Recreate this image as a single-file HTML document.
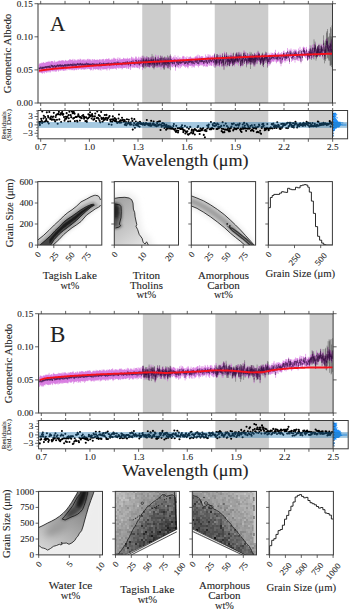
<!DOCTYPE html><html><head><meta charset="utf-8"><style>html,body{margin:0;padding:0;background:#fff;width:350px;height:610px;overflow:hidden}svg{display:block;font-family:"Liberation Serif",serif}text{stroke:#333;stroke-width:0.1px;fill:#222}</style></head><body><svg xmlns="http://www.w3.org/2000/svg" width="350" height="610" viewBox="0 0 350 610" font-family="Liberation Serif" fill="#111"><defs><clipPath id="c0"><rect x="37.8" y="181.6" width="64" height="63.5"/></clipPath><filter id="b1_5" x="-50%" y="-50%" width="200%" height="200%"><feGaussianBlur stdDeviation="1.5"/></filter><filter id="b1_3" x="-50%" y="-50%" width="200%" height="200%"><feGaussianBlur stdDeviation="1.3"/></filter><filter id="b0_5" x="-50%" y="-50%" width="200%" height="200%"><feGaussianBlur stdDeviation="0.5"/></filter><filter id="b0_7" x="-50%" y="-50%" width="200%" height="200%"><feGaussianBlur stdDeviation="0.7"/></filter><clipPath id="c1"><rect x="114.3" y="181.6" width="64.2" height="63.5"/></clipPath><linearGradient id="gA2" gradientUnits="userSpaceOnUse" x1="114" y1="205" x2="142" y2="245"><stop offset="0" stop-color="#a6a6a6"/><stop offset="0.6" stop-color="#cacaca"/><stop offset="1" stop-color="#e2e2e2"/></linearGradient><filter id="b3" x="-50%" y="-50%" width="200%" height="200%"><feGaussianBlur stdDeviation="3"/></filter><filter id="b1_8" x="-50%" y="-50%" width="200%" height="200%"><feGaussianBlur stdDeviation="1.8"/></filter><clipPath id="c2"><rect x="191.3" y="181.6" width="64.3" height="63.5"/></clipPath><filter id="b2" x="-50%" y="-50%" width="200%" height="200%"><feGaussianBlur stdDeviation="2"/></filter><filter id="b1_2" x="-50%" y="-50%" width="200%" height="200%"><feGaussianBlur stdDeviation="1.2"/></filter><filter id="b0_6" x="-50%" y="-50%" width="200%" height="200%"><feGaussianBlur stdDeviation="0.6"/></filter><clipPath id="c3"><rect x="268.3" y="181.6" width="64.1" height="63.5"/></clipPath><clipPath id="c4"><rect x="38.6" y="491.4" width="63.9" height="63.5"/></clipPath><linearGradient id="gB1" gradientUnits="userSpaceOnUse" x1="82" y1="500" x2="48" y2="552"><stop offset="0" stop-color="#7e7e7e"/><stop offset="0.45" stop-color="#a4a4a4"/><stop offset="1" stop-color="#d4d4d4"/></linearGradient><filter id="b1" x="-50%" y="-50%" width="200%" height="200%"><feGaussianBlur stdDeviation="1"/></filter><filter id="b1_6" x="-50%" y="-50%" width="200%" height="200%"><feGaussianBlur stdDeviation="1.6"/></filter><clipPath id="c5"><rect x="115.3" y="491.4" width="64.1" height="63.5"/></clipPath><clipPath id="c6"><rect x="192.3" y="491.4" width="64.2" height="63.5"/></clipPath><clipPath id="c7"><rect x="269.1" y="491.4" width="64.3" height="63.5"/></clipPath></defs><rect x="142.24" y="3.9" width="28.38" height="99.1" fill="#cccccc"/><rect x="214.74" y="3.9" width="53.53" height="99.1" fill="#cccccc"/><rect x="308.98" y="3.9" width="23.52" height="99.1" fill="#cccccc"/><path d="M39 64.7V72.79M39.5 63.6V72.05M40 63.52V73.01M40.5 63.21V71.69M41 63.7V73.04M41.5 62.63V73.16M42 63.39V72.08M42.5 62.78V73.74M43 62.75V72.85M43.5 61.98V72.59M44 62.76V71.77M44.5 63.01V73.54M45 62.77V71.92M45.5 62.96V72.16M46 61.72V71.78M46.5 62.21V72.64M47 62.03V72.78M47.5 61.67V71.66M48 62.05V71.14M48.5 61.71V71.55M49 60.76V72.59M49.5 61.9V71.42M50 61.69V71.37M50.5 62.47V72.46M51 60.95V70.08M51.5 61.01V70.91M52 61.5V71.5M52.5 61.13V71.17M53 61.13V71.05M53.5 62.22V70.53M54 63.11V71.88M54.5 60.41V70.7M55 61.43V70.43M55.5 62.44V71.77M56 61.79V70.63M56.5 61.72V71.7M57 61.91V70.57M57.5 61.35V70.21M58 61.51V69.97M58.5 61.07V71.67M59 60.43V70.74M59.5 60.72V69.45M60 60.71V70.47M60.5 61.16V70.59M61 60.72V70.34M61.5 60.51V70.24M62 60.55V70.14M62.5 60.32V69.79M63 60.35V70.86M63.5 60.48V70.47M64 61.05V70.93M64.5 61.52V69.52M65 60.48V70.87M65.5 59.92V69.93M66 60.69V70.33M66.5 60.65V68.98M67 61.14V70.36M67.5 60.72V68.55M68 60.75V69.32M68.5 60.11V69.68M69 60.76V69.03M69.5 59.52V69.64M70 59.08V70.24M70.5 59.62V69.18M71 60.24V69.47M71.5 59.84V69.66M72 60V70.36M72.5 59.66V69.96M73 58.85V68.65M73.5 60.54V69.55M74 60.98V70.67M74.5 59.41V70.08M75 59.57V69.36M75.5 60.48V69.38M76 59.76V69.76M76.5 60.71V70.15M77 60.41V69.22M77.5 59.36V68.52M78 60.16V69.77M78.5 59.24V69.7M79 59.96V69.11M79.5 59.91V68.87M80 58.7V69.11M80.5 58.94V68.47M81 60.18V69.76M81.5 60.57V69.63M82 59.23V68.72M82.5 59.79V69.32M83 60.18V69.08M83.5 59.47V69.56M84 59.26V69.2M84.5 60.54V69.79M85 59.16V68.88M85.5 60.18V69.13M86 60.91V69.59M86.5 59.62V68.15M87 60.55V69.1M87.5 59V69.17M88 58.69V68.35M88.5 60.23V68.76M89 58.93V68.97M89.5 59.36V69.15M90 59.75V69.28M90.5 59.38V70.43M91 60.57V69.35M91.5 60.69V70.1M92 59.39V68.65M92.5 59.1V67.51M93 61.34V70.56M93.5 59.55V69.37M94 59.93V69.32M94.5 59.07V68.89M95 59.72V69.1M95.5 60.05V69.78M96 59.92V69.02M96.5 59.86V69.14M97 59.6V69.07M97.5 59.78V69.37M98 59.55V69.44M98.5 60.26V69.6M99 60.16V70.23M99.5 59.13V68.83M100 59.3V68.5M100.5 59.53V69.93M101 61.7V70.67M101.5 59.76V68.79M102 59.16V68.22M102.5 59.46V69.56M103 59V69.18M103.5 58.89V69.56M104 60.2V69.08M104.5 60.9V69.26M105 59.13V69.38M105.5 59.19V69.11M106 59.37V69.06M106.5 58.58V69.37M107 59.55V70.59M107.5 59.03V68.36M108 59.23V69.33M108.5 58.63V68.07M109 58.2V68.37M109.5 59.5V70.3M110 59.93V68.4M110.5 59.78V68.92M111 59.59V69.21M111.5 59.44V68.74M112 58.53V68.02M112.5 59.59V69.07M113 59.45V68.76M113.5 57.76V68.58M114 59.28V68.77M114.5 57.81V68.42M115 58.78V67.81M115.5 58.8V68.97M116 58.76V68.31M116.5 61V69.78M117 58.81V67.24M117.5 58.83V68.13M118 57.31V67.6M118.5 59.77V68.3M119 60.2V68.86M119.5 58.36V67.55M120 57.68V67.74M120.5 59.54V68.34M121 58.93V68.04M121.5 59.24V67.99M122 59.52V69.49M122.5 59.09V68.73M123 58.94V67.53M123.5 57.81V67.93M124 58.04V68.08M124.5 59.06V67.97M125 58.59V67.77M125.5 59.11V67.71M126 58.13V66.84M126.5 58.96V68.79M127 58.97V67.83M127.5 57.72V66.38M128 58.9V68.61M128.5 59.16V69.02M129 58.37V68.49M129.5 58.56V66.89M130 58.08V67.18M130.5 60.65V70.02M131 58.63V68.28M131.5 56.65V66.33M132 57.31V66.78M132.5 58.69V67.86M133 57.38V66.74M133.5 58.88V67.62M134 58.24V67M134.5 59.27V67.83M135 58.59V67.55M135.5 56.51V65.7M136 57.7V67.66M136.5 56.68V67.08M137 59.46V67.79M137.5 58.61V67.78M138 58.31V68.15M138.5 56.72V66.26M139 59.79V68.17M139.5 58.58V69.2M140 56.83V66.13M140.5 58.4V67.34M141 57.27V65.22M141.5 57.92V66.9M142 55.77V65.16M142.5 60.53V70.07M143 56.01V64.38M143.5 57.95V67.39M144 59.28V67.76M144.5 56.58V65.65M145 57.23V66.05M145.5 57.9V65.58M146 58.47V66.86M146.5 56.21V65.35M147 57.71V67.52M147.5 57.66V66.72M148 57.21V66.43M148.5 58.33V67.2M149 57.07V66.9M149.5 58.74V68.02M150 57.79V67.45M150.5 57.85V67.06M151 56.57V66.64M151.5 57.73V66.01M152 56.14V64.9M152.5 59.89V67.85M153 57.45V65.37M153.5 56.54V66.14M154 59.1V68.06M154.5 59.02V67.15M155 57.79V66.03M155.5 54.68V64.2M156 59.61V67.48M156.5 58V67.56M157 55.51V64.12M157.5 58.8V67.58M158 56.79V66.54M158.5 55.35V65.48M159 57.76V66.93M159.5 57.94V67.29M160 58.33V67.31M160.5 56.08V64.54M161 60.62V69.59M161.5 57.28V66.79M162 55.48V64.45M162.5 59.53V67.75M163 57.57V67.09M163.5 58.82V68.37M164 57.91V66.33M164.5 57.56V66.83M165 58.8V67.37M165.5 56.64V65.07M166 59.24V68.07M166.5 57.48V66.61M167 56.91V65.47M167.5 58.15V67.48M168 58.86V68.42M168.5 58.09V67.23M169 57.05V65.56M169.5 58.87V68.92M170 54.82V64M170.5 55.93V65.38M171 58.44V67.24M171.5 56.32V65.74M172 58.3V67.17M172.5 57.67V67.02M173 59.02V67.62M173.5 56.58V65.98M174 57.07V66.06M174.5 58.34V66.8M175 55.19V64.49M175.5 61.38V70.72M176 57.02V66.68M176.5 57.19V65.27M177 58.68V67.7M177.5 58.29V67.04M178 55.75V64.96M178.5 58.72V67.55M179 58.7V68.5M179.5 57.63V66.19M180 57.33V65.59M180.5 59.07V68.2M181 57.54V65.87M181.5 58.65V66.79M182 58.87V66.43M182.5 56.6V65.19M183 55.84V65.1M183.5 56.53V66.08M184 56.1V65.92M184.5 58.96V66.92M185 57.14V66.04M185.5 58.76V67.78M186 57.28V66.23M186.5 57.93V66.62M187 56.14V66.62M187.5 59.18V67.59M188 60.95V68.48M188.5 57.67V66.88M189 56.75V65.3M189.5 57.55V65.86M190 56.84V65.64M190.5 56.35V66.13M191 57.31V65.86M191.5 57.83V65.54M192 58.68V67.78M192.5 57.71V66.25M193 58.42V66.04M193.5 58.3V67.16M194 57.21V65.91M194.5 59.35V67.54M195 56.77V65.59M195.5 56.31V64.55M196 56.99V65.89M196.5 56.3V65.37M197 55.4V64.18M197.5 56.83V66.14M198 54.52V64.14M198.5 59.16V67.4M199 56.9V65.98M199.5 55.28V65.83M200 56.53V64.87M200.5 57.22V64.59M201 56.46V65.74M201.5 56.2V65.18M202 56.3V64.03M202.5 56.44V65.53M203 56.35V64.94M203.5 57.97V66.69M204 58.36V66.11M204.5 57.43V65.78M205 57.68V66.29M205.5 54.49V63.55M206 57.37V67.1M206.5 56.3V66.1M207 56.54V66.22M207.5 58.66V66.88M208 54.12V62.49M208.5 56.61V65.39M209 54.66V63.41M209.5 56.68V65.83M210 54.71V63.32M210.5 55.75V65.45M211 57.3V65.28M211.5 56.51V66.02M212 56.48V65.75M212.5 55.67V63.22M213 55.22V63.43M213.5 58.56V66.49M214 55.79V65.06M214.5 53.13V61.59M215 58.3V67.23M215.5 56.58V65.86M216 58.75V66.82M216.5 54.64V64.44M217 57.38V66.31M217.5 53.9V62.59M218 56.98V65.83M218.5 55.04V64.23M219 57.85V65.88M219.5 58.26V67.03M220 53.68V63.44M220.5 55.4V63.67M221 54.97V64.69M221.5 58.36V66.86M222 57.43V66.02M222.5 53.07V61.59M223 57.86V65.23M223.5 57.08V66.06M224 60.23V68.9M224.5 51.7V60.47M225 53.88V62.18M225.5 59.01V66.56M226 53.88V60.84M226.5 52.52V62.15M227 56.62V65.95M227.5 57.59V65.98M228 54.03V62.58M228.5 56.32V64.47M229 55.29V64.03M229.5 58.28V66.46M230 55.64V63.98M230.5 57.11V65.45M231 52.77V62.22M231.5 55.24V64.03M232 55.12V64.17M232.5 56.7V66.56M233 56.79V64.82M233.5 53.47V62.33M234 57.1V64.88M234.5 56.59V66.4M235 56.2V63.79M235.5 54.78V63.49M236 54.41V63.27M236.5 52.08V59.44M237 56.4V64.55M237.5 55.73V63.83M238 53.43V61.14M238.5 56.53V65.68M239 51.69V59.92M239.5 53.29V61.98M240 54.9V61.91M240.5 59.63V67.61M241 52.11V59.37M241.5 56.28V65.43M242 57.25V65.55M242.5 55.69V65.33M243 58.25V66.29M243.5 53.37V60.92M244 50.13V59.91M244.5 56.81V64M245 51.74V60.33M245.5 54.24V62.5M246 52.27V60.62M246.5 56.86V65.53M247 56.18V64.74M247.5 53.55V61.1M248 56.34V64.95M248.5 54.69V63.54M249 53.62V62.82M249.5 54.43V62.58M250 54.69V62.41M250.5 56.45V64.56M251 55.84V63.61M251.5 54.94V61.68M252 56.82V64.88M252.5 54.06V61.63M253 54.68V63.74M253.5 55.68V63.44M254 58.12V66.19M254.5 52.75V61.48M255 58.87V66.51M255.5 54.48V61.88M256 53.94V63.28M256.5 52.61V61.53M257 55.42V64.38M257.5 54.88V62.37M258 51.83V60M258.5 51.83V59.38M259 52.79V61.8M259.5 52.84V61.21M260 55.82V64.34M260.5 57.53V64.9M261 56.23V63.85M261.5 54.92V62.91M262 53.91V60.83M262.5 53.71V62.48M263 56.07V64.24M263.5 58.59V67.15M264 55.72V63.96M264.5 53.81V61.19M265 54.64V62.95M265.5 53.36V60.28M266 52.67V60.17M266.5 53.36V61.35M267 54.04V62.68M267.5 56.98V66.75M268 52.62V62.73M268.5 56.84V64.35M269 56.81V66.07M269.5 53.54V62.6M270 56.65V65.05M270.5 54.61V62.93M271 52.51V61.54M271.5 54.13V62.71M272 52.84V61.81M272.5 53.09V61.14M273 53.4V61.38M273.5 53.89V61.75M274 54.55V61.69M274.5 52.2V60.1M275 53.87V61.22M275.5 49.81V59.23M276 54.07V62.2M276.5 54.68V63.29M277 53.78V61.72M277.5 53.08V61.49M278 53.64V62.01M278.5 51.79V59.91M279 52.67V60.85M279.5 54V61.65M280 54.43V63.28M280.5 53.08V62.42M281 58.18V66.28M281.5 52.1V60.57M282 54.16V63.42M282.5 55.31V62.57M283 52.61V61.82M283.5 51.03V58.7M284 50.52V58.07M284.5 53.01V60.98M285 55.67V62.78M285.5 52.28V60.93M286 52.85V61.27M286.5 52.18V59.14M287 53.91V61.31M287.5 48.07V56.29M288 52.32V61.03M288.5 51.91V59.85M289 49.61V58.13M289.5 56.48V63.96M290 49.53V57.33M290.5 50.35V57.32M291 48.43V58.06M291.5 54.14V61.85M292 49.74V57.95M292.5 52.61V60.66M293 52.84V60.69M293.5 52.22V58.96M294 49.03V57.2M294.5 50.07V57.87M295 54.34V62.63M295.5 49.7V55.94M296 49.49V57.31M296.5 50.45V59.89M297 52.93V60.38M297.5 51.56V59.88M298 52.92V60.99M298.5 48.5V57.25M299 52.89V61.07M299.5 51.48V59.33M300 46.77V55.58M300.5 53.35V61.29M301 54.66V63.39M301.5 49.32V56.26M302 50.6V57.88M302.5 53.16V60.85M303 47.29V55.95M303.5 46.63V54.46M304 47.58V56.11M304.5 47.46V56.91M305 47.7V56.4M305.5 51.29V58.21M306 50.51V57.6M306.5 46.91V55.56M307 49.8V58.59M307.5 52.89V60.66M308 51.34V59.72M308.5 50.79V59.39M309 48.63V56.04M309.5 51.27V58.75M310 45.16V54.11M310.5 49.67V59.02M311 47.65V56.03M311.5 50.8V58.64M312 48.77V57.87M312.5 44.66V53.73M313 47.5V57.21M313.5 50.72V59.01M314 44.08V53.48M314.5 46.79V54.01M315 45.12V53.13M315.5 42.65V51.71M316 49.39V57.07M316.5 50.59V58.17M317 48.35V56.65M317.5 47.92V54.99M318 46.36V55.52M318.5 45.61V55.21M319 43.62V53.39M319.5 47.66V56.92M320 49.12V57.07M320.5 48.96V57M321 43.72V52M321.5 45.62V54.54M322 44.26V54.26M322.5 49.69V58.59M323 45.7V54.94M323.5 40V48.59M324 45.22V54.88M324.5 50.57V58.74M325 46.23V55.37M325.5 46.47V56.52M326 44.77V53.23M326.5 38.49V46.9M327 38.55V47.65M327.5 39.89V49M328 43.93V53.41M328.5 45.19V53.6M329 46.25V54.87M329.5 42.92V51.59M330 46.99V55.61M330.5 42.33V51.95M331 40.74V49.79M331.5 46.04V55.34M332 40.06V48.44" stroke="#c63ed2" stroke-opacity="0.45" stroke-width="1" fill="none"/><path d="M143 55.55V67.38M143.5 57.71V68.2M144 59.2V66.94M145 57.66V68.72M145.5 59.65V65.95M146 59.04V67.49M147 56.36V67.03M147.5 60.35V66.19M148 59.4V64.99M148.5 57.13V66.46M149 57.92V66.95M149.5 59.81V66.93M150 60.53V65.68M150.5 59.03V65.3M151 57.14V64.87M151.5 58.83V66.1M152 53.91V64.3M152.5 60.24V67.44M153 55.71V64.04M153.5 58.64V68.2M154 58.57V69.4M154.5 61.17V67.44M155 56.7V66.6M155.5 56.9V62.09M156 60.95V66.49M156.5 59.83V65.66M157.5 60.04V65.93M158 56.87V67.51M159 59.03V65.22M159.5 58.05V65.26M160 61.3V66.42M160.5 55.46V62.77M161.5 57.68V65.49M162 56V64.54M163 58.21V64.5M163.5 57.73V68.42M164 57.33V69.92M164.5 56.54V69.4M165 59.05V65.48M165.5 57.61V64.48M166 59.81V65.05M166.5 57.71V65.5M167.5 55.39V68.26M168 58.61V66.26M168.5 57.44V68.35M169 55.89V65.32M169.5 60.26V66.91M170 56.06V62.47M170.5 54.41V70.23M215 57.38V67.89M216 59.47V65.89M216.5 54.06V64.42M217 58.37V63.49M217.5 54.16V59.83M218 55.11V65.72M219.5 56.8V65.58M220 55.2V62.05M221 56.53V63.64M222 57.77V65.84M222.5 53.65V62.19M223 58.45V66.82M223.5 56.69V64.83M224 58.75V70.05M224.5 53.33V59.25M225 57.21V63.61M225.5 58.98V65.55M226.5 52.34V62.64M227 56.53V67.29M228 55.38V60.76M228.5 56.7V65.57M229.5 60.08V65.63M230 55.15V63.33M230.5 58.12V63.97M231 54.93V61.64M231.5 56.91V62.58M232 57.47V62.68M232.5 56.09V66.07M233 53.4V65.73M233.5 52.62V65.08M234 58.14V65M234.5 58.97V63.98M235 57.03V62.11M235.5 53.57V62.03M236 57.2V63.16M236.5 52.65V60.01M237 56.39V62.68M237.5 55.25V61.53M238 52.27V62.29M239 52.28V58.29M239.5 55.55V60.79M240 54.59V64.1M240.5 58.73V65.66M241 53.34V58.51M241.5 56.8V65.25M242 56.91V66.27M242.5 57.28V63.72M243 58.11V65.22M243.5 53.02V60.29M244 51.61V57.41M244.5 58.41V64.01M245 52.81V60.79M245.5 55.17V60.24M246.5 58.23V67.33M247 57.63V64.17M247.5 53.1V59.63M248 58.23V63.54M249 55.45V63.53M249.5 56.34V61.96M250 51.81V64.56M250.5 53.64V69M251 57.46V64.66M251.5 52.47V62.3M252 58.22V63.76M252.5 53.9V62.89M253 55.94V61.53M253.5 55.01V63.48M254 54.78V66.52M254.5 53.23V62.42M255 57.19V65.2M255.5 54.51V62.42M256 55.4V61.15M257 57.29V63.88M258 50.76V60.33M258.5 53.01V60.82M259.5 53.53V60.29M260.5 58.06V65.11M261 57.53V63.14M261.5 55.23V61.46M262 53.46V59.91M262.5 52.54V66.09M263 53.69V64.42M263.5 57.81V67.09M264 57.94V63.96M264.5 55.07V60.7M265 54.02V60.61M265.5 51.68V62.77M266.5 52.28V61.16M267 56.92V62.65M267.5 56.89V67.73M309.5 50.47V59.2M310.5 48.19V55.75M311 45.56V55.53M311.5 52.44V59.96M312 49.73V58.14M313 47.99V54.98M314 39.33V59.45M314.5 44.35V56.11M315 41.47V56.91M315.5 44.56V49.87M316 47.46V60.64M316.5 48.84V58.7M317 48.89V56.3M317.5 46.85V57.14M318 48.05V53.53M318.5 45.3V55.99M319 44.56V50.41M319.5 49.06V56.41M320.5 48.56V55.94M321 45.32V54.53M321.5 45.43V53.94M322 46.9V53.4M322.5 49.01V56.75M323.5 35.34V49.35M324 41.46V60.09M324.5 47.35V63.35M325 43.02V59.4M325.5 40.65V61.09M326 39.31V58.88M326.5 32.6V54.48M327 31.01V53.67M327.5 29V57.78M328 37.6V58.66M328.5 36.69V60.55M329.5 33.25V60.66M330 36.25V65.69M330.5 27.08V65.74M331 28.52V65.1M331.5 36.59V67.07M332 25.38V64.73" stroke="#000" stroke-opacity="0.42" stroke-width="0.7" fill="none"/><path d="M39 67.61V69.13M39.5 67.67V69.4M40 67.52V69M40.5 66.56V68.36M41 67.61V69.16M41.5 67.36V68.83M42 66.56V68.59M42.5 66.88V69.11M43 67V68.63M43.5 66.75V68.66M44 66.77V68.25M44.5 66.86V68.49M45 66.28V67.76M45.5 66.38V68.05M46 66.18V67.83M46.5 66.28V68.57M47 66.41V67.83M47.5 66.13V67.69M48 65.77V67.49M48.5 65.93V67.69M49 66V67.75M49.5 65.53V67.84M50 66.59V68.09M50.5 66.34V67.95M51 64.64V66.2M51.5 64.9V66.57M52 65.51V67.38M52.5 65.16V67.39M53 65.35V67.66M53.5 65.67V67.23M54 66.55V67.96M54.5 64.98V66.52M55 64.91V67.16M55.5 66.04V68.11M56 65.44V67.37M56.5 65.49V67.26M57 64.87V66.74M57.5 64.38V66.14M58 65.19V66.9M58.5 65.08V66.89M59 64.32V66.37M59.5 64.73V66.38M60 64.91V66.68M60.5 64.33V66.41M61 64.56V66.86M61.5 64.91V66.62M62 64.99V66.42M62.5 64.45V66.4M63 65.09V66.68M63.5 65.08V66.88M64 64.93V66.46M64.5 64.14V66.15M65 64.78V66.83M65.5 64.08V66.36M66 64.98V66.62M66.5 64.13V65.65M67 64.93V66.57M67.5 64.32V66.27M68 63.73V65.68M68.5 64.13V66.05M69 64.48V65.96M69.5 64.5V66.07M70 63.94V65.43M70.5 63.72V65.47M71 64.22V66.07M71.5 63.96V65.66M72 64.28V65.9M72.5 64.21V66.37M73 62.76V65.57M73.5 64.25V65.72M74 64.64V66.13M74.5 63.63V65.69M75 63.68V65.11M75.5 64.23V65.9M76 63.73V65.87M76.5 64.33V65.78M77 63.6V65.32M77.5 62.92V64.91M78 63.77V65.24M78.5 63.34V65.31M79 64.13V65.58M79.5 63.59V65.56M80 62.95V64.52M80.5 62.92V64.91M81 63.71V65.97M81.5 63.91V65.57M82 63.29V64.99M82.5 63.42V65.43M83 63.84V65.41M83.5 63.72V65.56M84 64.07V65.59M84.5 63.5V65.6M85 63.65V65.15M85.5 63.35V65.32M86 64.05V65.81M86.5 62.53V64.37M87 63.39V65.42M87.5 63.44V65.54M88 63.02V64.65M88.5 63.63V65.63M89 63.4V65M89.5 63.97V65.8M90 63.5V65.39M90.5 63.66V65.97M91 64.32V65.82M91.5 63.91V65.5M92 63.33V64.96M92.5 63.14V64.59M93 64.57V66.13M93.5 63.47V65.57M94 63.45V65.09M94.5 63.9V65.41M95 63.55V65.48M95.5 64.25V65.74M96 63.75V65.52M96.5 63.73V65.54M97 63.56V65.08M97.5 64.03V65.67M98 63.38V64.98M98.5 64.03V65.86M99 64.22V66.43M99.5 62.98V64.92M100 62.22V64.82M100.5 64.13V65.66M101 64.88V66.67M101.5 63.24V65.01M102 63.22V64.75M102.5 63.91V65.75M103 63.17V65.08M103.5 62.64V65.87M104 63.32V65.28M104.5 63.43V65.97M105 63.46V64.97M105.5 63.43V65.61M106 63.21V65.33M106.5 62.99V64.8M107 63.36V64.91M107.5 62.84V64.72M108 63.16V65.32M108.5 62.73V64.52M109 62.64V64.57M109.5 63.82V66.04M110 63.2V65M110.5 63.02V65.12M111 63.24V65.46M111.5 62.58V65.05M112 62.93V64.85M112.5 63.41V65.05M113 62.95V65.29M113.5 62.5V64.05M114 63.42V65.35M114.5 62.38V64.7M115 62.41V64.07M115.5 62.59V64.01M116 62.74V64.39M116.5 63.89V65.59M117 61.76V64.33M117.5 62.53V65.11M118 61.64V63.15M118.5 62.43V64.9M119 63.09V65.29M119.5 62.74V64.19M120 62.22V64.16M120.5 62.93V64.47M121 62.98V64.97M121.5 62.94V64.91M122 63.91V65.58M122.5 62.58V64.59M123 62.14V63.93M123.5 62.35V64.27M124 62.14V64.5M124.5 62.59V64.23M125 62.18V64.4M125.5 62.25V64.56M126 61.3V62.96M126.5 63.08V64.52M127 61.94V63.68M127.5 61.18V63.55M128 62.26V64.93M128.5 62.78V65.31M129 62.73V64.15M129.5 62.26V64.1M130 60.99V63.77M130.5 63.94V66.21M131 62.88V64.37M131.5 60.98V63.29M132 61.6V63.13M132.5 62.09V63.85M133 60.2V63.26M133.5 61.78V64.17M134 61.68V63.28M134.5 62.68V64.76M135 62.24V64.76M135.5 59.95V61.41M136 61.88V63.61M136.5 59.85V63.04M137 62.71V64.33M137.5 61.48V64.06M138 62.25V63.84M138.5 59.94V63.57M139 62.99V65.06M139.5 62.97V65.36M140 60V63.39M140.5 61.93V63.88M141 60.07V63.36M141.5 61.54V63.43M142 58.41V62.56M142.5 64.22V66.77M143 59.76V62.15M143.5 59.6V64.46M144 62.25V64.37M144.5 60.44V62.5M145 61.2V63.05M145.5 60.57V62.64M146 60.09V64.5M146.5 58.63V62.65M147 60.76V62.86M147.5 61.45V62.91M148 60.55V63.4M148.5 61.65V63.55M149 60.05V64.03M149.5 62.83V64.61M150 60.47V63.52M150.5 60.88V63.72M151 60.62V62.29M151.5 60.49V62.86M152 59.02V61.97M152.5 62.14V64.55M153 59.91V61.47M153.5 59.43V63.22M154 61.54V64.65M154.5 61.47V64.86M155 60.77V63M155.5 57.6V60.98M156 60.89V65.5M156.5 61.96V63.92M157 59.02V61.5M157.5 62.38V65.14M158 58.9V63.9M158.5 60V61.45M159 61.46V63.9M159.5 60.7V63.78M160 61.96V63.74M160.5 58.21V61.71M161 64.23V66.63M161.5 60.81V62.32M162 57.64V62.5M162.5 61.64V65.41M163 61.23V62.7M163.5 62.32V63.79M164 61.27V62.71M164.5 61.33V63.55M165 61.5V64.35M165.5 59.71V62.97M166 61.75V65.49M166.5 60.53V63.04M167 59.4V62.9M167.5 61.51V63.81M168 62.44V64.06M168.5 60.9V63.44M169 60.2V62.09M169.5 62.81V64.23M170 58.49V60.92M170.5 59.81V62.18M171 61.76V63.37M171.5 59.14V62.53M172 61.69V63.36M172.5 60.51V64.34M173 62.75V64.19M173.5 60.5V62.41M174 59.62V63.89M174.5 61.21V64.41M175 58.93V60.45M175.5 64.5V67.25M176 60.68V62.54M176.5 60.12V62.99M177 61.03V65.63M177.5 60.82V63.78M178 59.32V61.31M178.5 61.02V65.01M179 62.1V64.42M179.5 60.41V63.11M180 60.79V63.07M180.5 61.52V64.06M181 59.32V63.03M181.5 61.88V63.53M182 61.66V63.16M182.5 60.12V62.65M183 59.54V61.54M183.5 60.99V62.74M184 59.98V62.2M184.5 62.12V64.39M185 60.49V63.99M185.5 62.05V63.88M186 60.92V63.47M186.5 61.61V63.04M187 60.23V61.93M187.5 61.63V63.9M188 63.03V65.1M188.5 59.91V63.25M189 59.74V62.71M189.5 60.64V62.81M190 60.24V62.4M190.5 60.25V61.83M191 60.77V63.27M191.5 60.02V62.96M192 62.64V64.44M192.5 60.73V62.87M193 60.49V63.85M193.5 62.16V63.66M194 60.5V62.26M194.5 62.68V64.26M195 59.38V62.5M195.5 59.6V61.81M196 59.51V62.94M196.5 60.27V62.76M197 59V60.85M197.5 59.16V63.98M198 58.57V60.52M198.5 62.22V64.33M199 59.32V63.56M199.5 59.78V61.66M200 58.64V62.08M200.5 60.27V61.68M201 59.81V62.48M201.5 58.15V62.02M202 58.26V62.15M202.5 60.31V61.85M203 59.22V62.02M203.5 61.15V63.68M204 61.38V63.86M204.5 60.4V61.94M205 60.74V62.67M205.5 57.94V60.82M206 60.8V62.86M206.5 59.98V61.91M207 59.59V63.52M207.5 61.83V64.03M208 56.89V59M208.5 59.85V62.44M209 58.35V60.38M209.5 59.67V63.32M210 57.95V60.07M210.5 58.6V61.44M211 60.04V61.73M211.5 60.47V62.29M212 59.77V61.53M212.5 58.52V60.48M213 59.03V60.52M213.5 61.05V62.54M214 58.21V62.65M214.5 54.35V60.08M215 59.87V64.45M215.5 59.81V62.66M216 59.6V64.73M216.5 56.5V62.71M217 60.42V63.62M217.5 56.69V59.38M218 60.2V62.67M218.5 58.35V60.02M219 60.14V63.08M219.5 59.85V64.72M220 57.86V59.35M220.5 59V61.04M221 59.38V61M221.5 61.54V63.63M222 60.04V63.06M222.5 55.86V59.1M223 59.16V62.79M223.5 59.79V63.33M224 63.27V65.59M224.5 55.28V57.56M225 57.98V59.62M225.5 61.47V63.94M226 55.65V58.42M226.5 55.97V58.71M227 59.8V62.04M227.5 58.85V65.05M228 56.34V60.44M228.5 59.82V61.98M229 58.32V61.66M229.5 59.71V66.11M230 57.23V62.16M230.5 61.05V62.47M231 55.89V59.63M231.5 57.45V61.04M232 58.54V60.28M232.5 60.38V63.58M233 58.39V63.17M233.5 57.17V58.75M234 59.63V62.27M234.5 59.91V62.32M235 58.34V60.15M235.5 57.35V60.47M236 56.82V61.23M236.5 53.59V58.1M237 58.31V61.25M237.5 58.37V61.34M238 54.45V60.6M238.5 59.2V62.56M239 54.91V57.92M239.5 57.03V59.2M240 56.17V60.33M240.5 60.68V66.12M241 54.64V57.05M241.5 59.58V61.15M242 59.76V62.52M242.5 58.71V61.16M243 60.41V62.79M243.5 54.86V59.11M244 53.19V55.38M244.5 59.18V62.13M245 55.43V57.6M245.5 55.76V60.88M246 55.14V57.87M246.5 59.2V63.14M247 59.92V61.59M247.5 56.68V58.12M248 59.11V62.47M248.5 57.31V60.94M249 56.06V61.05M249.5 56.37V61.52M250 56.93V59.82M250.5 58.16V61.98M251 57.09V61.74M251.5 56.22V59.79M252 59.21V62.46M252.5 55.54V59.3M253 58.35V60.22M253.5 58.74V60.35M254 58.75V64.74M254.5 54.8V60.32M255 60.89V63.63M255.5 56.45V61.45M256 56.56V59.74M256.5 55.34V58.91M257 58.79V60.71M257.5 57.32V59.88M258 54.76V57.57M258.5 54.84V57.34M259 54.13V60.41M259.5 54.47V59.52M260 59.36V62.01M260.5 58.99V63.53M261 56.98V63.36M261.5 57.91V60.24M262 56.07V58.72M262.5 56.32V60.44M263 58.18V62.01M263.5 60.37V65M264 58.66V61.53M264.5 56.05V59.07M265 56.15V60.24M265.5 55.6V58.54M266 55.4V57.41M266.5 56.49V58.76M267 56.89V59.89M267.5 59.51V63.82M268 56.19V59.84M268.5 58.64V62.2M269 60.09V61.96M269.5 55.98V59.92M270 57.42V63.93M270.5 58.27V59.8M271 55.49V58.43M271.5 57.34V58.97M272 55.85V59.52M272.5 56.49V57.89M273 56.45V57.98M273.5 57.09V58.51M274 57.29V59.3M274.5 54.85V56.88M275 55.67V59.17M275.5 53.09V56.19M276 56.37V59.32M276.5 57.6V59.35M277 56.45V58.75M277.5 56.01V59.56M278 56.02V60.58M278.5 55.01V56.93M279 55.45V57.97M279.5 57.25V58.82M280 58.18V59.6M280.5 56.47V59M281 59.44V63.83M281.5 55.88V57.61M282 57.82V59.57M282.5 58.13V60.14M283 54.73V58.28M283.5 53.06V57.32M284 52.73V56.2M284.5 56V57.76M285 56.96V60.19M285.5 55.6V58.34M286 55.23V58.23M286.5 52.55V58.76M287 56.08V58.58M287.5 51.13V53.45M288 55.16V58.06M288.5 54.72V57.63M289 52.26V54.79M289.5 58.23V61.85M290 50.91V55.85M290.5 52.91V54.88M291 51.45V55.77M291.5 57.08V58.61M292 52.65V55.49M292.5 55.64V58.19M293 53.88V59.53M293.5 55.13V56.95M294 51.24V54.88M294.5 52.91V55.7M295 57.08V59.95M295.5 51.34V54.5M296 51.87V55.57M296.5 53.3V56.54M297 54.62V58.73M297.5 54.59V56.54M298 55.36V57.48M298.5 51.29V54.61M299 55.18V58.13M299.5 54.09V57.64M300 50.07V53.35M300.5 56.54V58.5M301 55.86V61.84M301.5 50.97V55M302 53.43V55.44M302.5 55.6V58.12M303 50.31V52.32M303.5 48.43V52.04M304 50.43V52.42M304.5 49.95V55.43M305 51.21V53.89M305.5 53.82V55.53M306 53.2V54.63M306.5 49.5V52.34M307 52.59V55.9M307.5 53.37V60.32M308 53.72V57.29M308.5 53.56V56.57M309 51.07V54.42M309.5 52.13V57.76M310 48.77V51.45M310.5 52.39V55.94M311 49.66V54.35M311.5 54.09V55.68M312 51.54V54.73M312.5 47.58V50.72M313 50.52V53.61M313.5 52.88V56.49M314 47.76V49.56M314.5 48.18V51.76M315 47.33V51.29M315.5 45.58V49.06M316 50.06V56.95M316.5 52.38V56.23M317 51.07V54.69M317.5 46.18V56.45M318 47.64V53.22M318.5 49.26V52.91M319 45.13V51.66M319.5 51.73V53.48M320 51.27V54.55M320.5 51.32V53.7M321 46.07V50.85M321.5 47.64V52.37M322 47.43V51.04M322.5 53.15V55.8M323 48.8V51.14M323.5 43.4V44.94M324 49.42V51.33M324.5 52.53V56.3M325 49.94V52.02M325.5 49.26V53.68M326 45.63V52.3M326.5 40.93V44.96M327 41.88V44.57M327.5 41.09V48.42M328 44.9V51.22M328.5 47.62V51.03M329 48.85V52.08M329.5 45.76V48.35M330 49.31V53.16M330.5 43.5V50.63M331 44.58V46.49M331.5 49.06V52.56M332 39.05V50.18" stroke="#2a0638" stroke-opacity="0.65" stroke-width="0.9" fill="none"/><polyline points="39,70.71 40,70.61 41,70.47 42,70.3 43,70.13 44,69.97 45,69.83 46,69.69 47,69.56 48,69.44 49,69.32 50,69.2 51,69.08 52,68.96 53,68.84 54,68.73 55,68.62 56,68.53 57,68.45 58,68.37 59,68.3 60,68.22 61,68.15 62,68.07 63,68 64,67.92 65,67.85 66,67.78 67,67.7 68,67.62 69,67.55 70,67.47 71,67.4 72,67.32 73,67.24 74,67.16 75,67.08 76,67.01 77,66.93 78,66.85 79,66.77 80,66.69 81,66.61 82,66.53 83,66.45 84,66.37 85,66.29 86,66.22 87,66.14 88,66.06 89,65.98 90,65.9 91,65.83 92,65.76 93,65.69 94,65.62 95,65.55 96,65.48 97,65.41 98,65.34 99,65.27 100,65.2 101,65.13 102,65.06 103,64.99 104,64.92 105,64.85 106,64.78 107,64.71 108,64.64 109,64.57 110,64.5 111,64.43 112,64.37 113,64.3 114,64.23 115,64.17 116,64.1 117,64.03 118,63.97 119,63.9 120,63.83 121,63.77 122,63.7 123,63.63 124,63.57 125,63.5 126,63.43 127,63.37 128,63.3 129,63.23 130,63.17 131,63.1 132,63.03 133,62.97 134,62.9 135,62.83 136,62.77 137,62.7 138,62.63 139,62.57 140,62.51 141,62.45 142,62.4 143,62.35 144,62.31 145,62.26 146,62.21 147,62.16 148,62.11 149,62.06 150,62.01 151,61.97 152,61.92 153,61.87 154,61.82 155,61.77 156,61.72 157,61.67 158,61.63 159,61.58 160,61.53 161,61.48 162,61.43 163,61.38 164,61.33 165,61.29 166,61.24 167,61.19 168,61.14 169,61.09 170,61.04 171,60.99 172,60.95 173,60.9 174,60.85 175,60.79 176,60.73 177,60.67 178,60.61 179,60.55 180,60.49 181,60.42 182,60.36 183,60.3 184,60.23 185,60.17 186,60.11 187,60.05 188,59.98 189,59.92 190,59.86 191,59.79 192,59.73 193,59.67 194,59.61 195,59.54 196,59.48 197,59.42 198,59.35 199,59.29 200,59.23 201,59.17 202,59.1 203,59.04 204,58.98 205,58.91 206,58.85 207,58.79 208,58.73 209,58.67 210,58.61 211,58.56 212,58.51 213,58.47 214,58.42 215,58.38 216,58.33 217,58.28 218,58.24 219,58.2 220,58.15 221,58.1 222,58.06 223,58.01 224,57.97 225,57.92 226,57.88 227,57.83 228,57.79 229,57.74 230,57.7 231,57.65 232,57.61 233,57.56 234,57.52 235,57.47 236,57.43 237,57.38 238,57.34 239,57.29 240,57.25 241,57.2 242,57.16 243,57.11 244,57.07 245,57.02 246,56.98 247,56.93 248,56.89 249,56.85 250,56.8 251,56.76 252,56.72 253,56.68 254,56.64 255,56.6 256,56.56 257,56.52 258,56.48 259,56.44 260,56.4 261,56.36 262,56.32 263,56.28 264,56.24 265,56.2 266,56.16 267,56.12 268,56.08 269,56.04 270,56 271,55.96 272,55.92 273,55.88 274,55.84 275,55.8 276,55.76 277,55.72 278,55.68 279,55.64 280,55.6 281,55.56 282,55.52 283,55.48 284,55.44 285,55.4 286,55.36 287,55.32 288,55.28 289,55.24 290,55.2 291,55.16 292,55.13 293,55.09 294,55.05 295,55.01 296,54.98 297,54.94 298,54.9 299,54.87 300,54.83 301,54.79 302,54.75 303,54.72 304,54.68 305,54.64 306,54.6 307,54.57 308,54.53 309,54.49 310,54.46 311,54.42 312,54.38 313,54.34 314,54.31 315,54.27 316,54.23 317,54.2 318,54.16 319,54.12 320,54.08 321,54.05 322,54.01 323,53.97 324,53.93 325,53.9 326,53.86 327,53.82 328,53.79 329,53.75 330,53.71 331,53.68 332,53.66" fill="none" stroke="#f5101c" stroke-width="1.9"/><rect x="38" y="3.9" width="294.5" height="99.1" fill="none" stroke="#3a3a3a" stroke-width="1"/><line x1="40.7" y1="3.9" x2="40.7" y2="0.9" stroke="#3a3a3a" stroke-width="0.8"/><line x1="40.7" y1="103" x2="40.7" y2="106" stroke="#3a3a3a" stroke-width="0.8"/><line x1="65.03" y1="3.9" x2="65.03" y2="0.9" stroke="#3a3a3a" stroke-width="0.8"/><line x1="65.03" y1="103" x2="65.03" y2="106" stroke="#3a3a3a" stroke-width="0.8"/><line x1="89.36" y1="3.9" x2="89.36" y2="0.9" stroke="#3a3a3a" stroke-width="0.8"/><line x1="89.36" y1="103" x2="89.36" y2="106" stroke="#3a3a3a" stroke-width="0.8"/><line x1="113.69" y1="3.9" x2="113.69" y2="0.9" stroke="#3a3a3a" stroke-width="0.8"/><line x1="113.69" y1="103" x2="113.69" y2="106" stroke="#3a3a3a" stroke-width="0.8"/><line x1="138.02" y1="3.9" x2="138.02" y2="0.9" stroke="#3a3a3a" stroke-width="0.8"/><line x1="138.02" y1="103" x2="138.02" y2="106" stroke="#3a3a3a" stroke-width="0.8"/><line x1="162.35" y1="3.9" x2="162.35" y2="0.9" stroke="#3a3a3a" stroke-width="0.8"/><line x1="162.35" y1="103" x2="162.35" y2="106" stroke="#3a3a3a" stroke-width="0.8"/><line x1="186.68" y1="3.9" x2="186.68" y2="0.9" stroke="#3a3a3a" stroke-width="0.8"/><line x1="186.68" y1="103" x2="186.68" y2="106" stroke="#3a3a3a" stroke-width="0.8"/><line x1="211.01" y1="3.9" x2="211.01" y2="0.9" stroke="#3a3a3a" stroke-width="0.8"/><line x1="211.01" y1="103" x2="211.01" y2="106" stroke="#3a3a3a" stroke-width="0.8"/><line x1="235.34" y1="3.9" x2="235.34" y2="0.9" stroke="#3a3a3a" stroke-width="0.8"/><line x1="235.34" y1="103" x2="235.34" y2="106" stroke="#3a3a3a" stroke-width="0.8"/><line x1="259.67" y1="3.9" x2="259.67" y2="0.9" stroke="#3a3a3a" stroke-width="0.8"/><line x1="259.67" y1="103" x2="259.67" y2="106" stroke="#3a3a3a" stroke-width="0.8"/><line x1="284" y1="3.9" x2="284" y2="0.9" stroke="#3a3a3a" stroke-width="0.8"/><line x1="284" y1="103" x2="284" y2="106" stroke="#3a3a3a" stroke-width="0.8"/><line x1="308.33" y1="3.9" x2="308.33" y2="0.9" stroke="#3a3a3a" stroke-width="0.8"/><line x1="308.33" y1="103" x2="308.33" y2="106" stroke="#3a3a3a" stroke-width="0.8"/><line x1="332.66" y1="3.9" x2="332.66" y2="0.9" stroke="#3a3a3a" stroke-width="0.8"/><line x1="332.66" y1="103" x2="332.66" y2="106" stroke="#3a3a3a" stroke-width="0.8"/><line x1="34.5" y1="103" x2="38" y2="103" stroke="#3a3a3a" stroke-width="0.8"/><line x1="332.5" y1="103" x2="336" y2="103" stroke="#3a3a3a" stroke-width="0.8"/><text x="32.8" y="105.9" font-size="8.4" text-anchor="end" textLength="16.1" lengthAdjust="spacingAndGlyphs">0.00</text><line x1="34.5" y1="69.9" x2="38" y2="69.9" stroke="#3a3a3a" stroke-width="0.8"/><line x1="332.5" y1="69.9" x2="336" y2="69.9" stroke="#3a3a3a" stroke-width="0.8"/><text x="32.8" y="72.8" font-size="8.4" text-anchor="end" textLength="16.1" lengthAdjust="spacingAndGlyphs">0.05</text><line x1="34.5" y1="36.8" x2="38" y2="36.8" stroke="#3a3a3a" stroke-width="0.8"/><line x1="332.5" y1="36.8" x2="336" y2="36.8" stroke="#3a3a3a" stroke-width="0.8"/><text x="32.8" y="39.7" font-size="8.4" text-anchor="end" textLength="16.1" lengthAdjust="spacingAndGlyphs">0.10</text><line x1="34.5" y1="3.7" x2="38" y2="3.7" stroke="#3a3a3a" stroke-width="0.8"/><line x1="332.5" y1="3.7" x2="336" y2="3.7" stroke="#3a3a3a" stroke-width="0.8"/><text x="32.8" y="6.6" font-size="8.4" text-anchor="end" textLength="16.1" lengthAdjust="spacingAndGlyphs">0.15</text><text x="11.2" y="53.45" font-size="10.6" text-anchor="middle" transform="rotate(-90 11.2 53.45)" textLength="79.4" lengthAdjust="spacingAndGlyphs">Geometric Albedo</text><text x="50" y="30.9" font-size="21.3" text-anchor="start">A</text><rect x="38" y="110.5" width="309.6" height="28.3" fill="#fff"/><rect x="142.24" y="110.5" width="28.38" height="28.3" fill="#cccccc"/><rect x="214.74" y="110.5" width="53.53" height="28.3" fill="#cccccc"/><rect x="308.98" y="110.5" width="23.52" height="28.3" fill="#cccccc"/><path d="M39.24 121.98h0M39.64 123.21h0M39.9 124.91h0M40.34 122.02h0M41.16 118.7h0M41.66 120.65h0M42.1 123.03h0M42.26 111.5h0M42.79 122.28h0M43.54 118.34h0M43.77 115.68h0M44.66 121.81h0M45.24 117.05h0M45.74 121.09h0M46.16 119.01h0M46.27 120.48h0M46.81 112.34h0M47.74 121.83h0M48.02 115.94h0M48.31 117.38h0M48.75 123.56h0M49.31 112h0M50.19 118.99h0M50.4 118.01h0M51.12 116.43h0M51.72 119.81h0M51.93 119.38h0M52.72 117h0M53.19 119.52h0M53.31 116.5h0M53.81 112.84h0M54.7 119.71h0M55.17 121.41h0M55.66 116.95h0M56.08 115.31h0M56.73 114.47h0M56.96 119.86h0M57.66 123.68h0M58.14 113.8h0M58.47 114.3h0M58.9 111.85h0M59.31 119.38h0M60.23 114.71h0M60.66 113.35h0M61.12 121.97h0M61.38 113.19h0M62.16 112.04h0M62.35 114.6h0M63.07 114.71h0M63.33 114.09h0M63.98 117.1h0M64.56 120.63h0M65.11 119.07h0M65.71 116.8h0M66.23 118.8h0M66.63 113.16h0M66.77 117.47h0M67.44 116.56h0M68.11 121.51h0M68.68 115h0M68.76 118.29h0M69.45 111.65h0M70.22 121.29h0M70.71 115.16h0M71.19 117.32h0M71.33 117.19h0M71.91 111.5h0M72.71 113.22h0M73.21 118.59h0M73.73 111.9h0M74.1 117.97h0M74.61 113.66h0M74.88 121.16h0M75.61 116.98h0M75.88 116.89h0M76.67 117.03h0M77.05 120.76h0M77.39 121.67h0M77.82 116.14h0M78.31 114.31h0M78.83 116.01h0M79.71 117.14h0M79.93 120.57h0M80.53 116.95h0M80.82 117.8h0M81.7 118.3h0M82.25 115.69h0M82.51 115.71h0M83.22 115.06h0M83.74 116.99h0M84.09 118.69h0M84.32 116.84h0M85.08 117.19h0M85.34 121.07h0M86.2 117.33h0M86.7 121.16h0M86.84 122.07h0M87.43 118.75h0M88.09 118.24h0M88.37 114.37h0M89.17 117.3h0M89.5 114.89h0M90.07 112.26h0M90.48 116.1h0M91.15 115.37h0M91.65 118.47h0M92.15 114.13h0M92.43 116.33h0M92.93 116.33h0M93.37 119.77h0M94.2 119.24h0M94.31 118.48h0M94.93 116.27h0M95.27 113.5h0M96.08 121.11h0M96.73 117.94h0M97.02 117.84h0M97.27 111.5h0M97.93 117.69h0M98.58 118.78h0M98.83 115.17h0M99.51 120.58h0M99.92 115.96h0M100.27 122.33h0M101.14 111.98h0M101.39 117.9h0M101.84 119.07h0M102.58 121.72h0M102.97 118.5h0M103.41 117.92h0M103.8 120.29h0M104.74 115.03h0M105.05 119.38h0M105.47 118.27h0M106.04 117.84h0M106.48 114.89h0M107.14 119.92h0M107.68 118.75h0M107.9 118.16h0M108.72 117.41h0M108.9 124.31h0M109.57 116.06h0M110.22 119.75h0M110.6 121.46h0M110.78 119.59h0M111.56 124.78h0M112.18 121.77h0M112.28 119.29h0M112.85 116.4h0M113.46 120.2h0M113.94 119.11h0M114.74 120.94h0M114.79 118.17h0M115.34 121.28h0M116.07 119.42h0M116.31 121.28h0M117.06 122.79h0M117.57 122.9h0M118.03 122.2h0M118.46 118.49h0M118.98 114.48h0M119.44 121.49h0M119.94 122.63h0M120.42 120.23h0M120.9 120.4h0M121.34 122.48h0M122.03 117.8h0M122.55 119.95h0M123.02 119.9h0M123.5 121.71h0M124.16 121.7h0M124.71 120.15h0M124.78 124.8h0M125.45 123.76h0M125.99 122.1h0M126.3 125.2h0M126.92 119.2h0M127.46 123.74h0M127.77 123.41h0M128.47 122.05h0M128.8 119.78h0M129.45 122.93h0M129.85 124.42h0M130.3 124.82h0M130.78 122.62h0M131.51 124.33h0M131.75 118.58h0M132.45 120.88h0M132.78 129.62h0M133.59 125.37h0M134.07 122.93h0M134.33 119.13h0M134.93 127.73h0M135.61 124.66h0M135.81 121.43h0M136.66 125.16h0M137.08 123.66h0M137.72 124.79h0M138.05 122.5h0M138.27 125.97h0M138.95 123.78h0M139.59 126.68h0M139.98 121.92h0M140.44 122.65h0M140.88 123.92h0M141.59 123.78h0M141.83 123.8h0M142.63 124.59h0M142.89 123.56h0M143.54 123.16h0M144.21 124.02h0M144.55 125.05h0M145.18 124.69h0M145.29 124.79h0M146.01 123.01h0M146.58 123.61h0M146.83 120.05h0M147.6 124.26h0M148.08 123.78h0M148.48 125.16h0M149.15 123.74h0M149.25 124.81h0M150.21 125.63h0M150.3 123.63h0M151.14 120.84h0M151.33 125.66h0M151.76 125.24h0M152.55 124.05h0M153.02 123.49h0M153.62 121.44h0M154.18 125.27h0M154.48 124.27h0M155.01 125.57h0M155.54 125.74h0M155.92 124.95h0M156.65 126.23h0M157.13 123.17h0M157.33 121.99h0M158.1 125.08h0M158.36 125.45h0M158.89 121.49h0M159.54 124.51h0M159.97 121.19h0M160.54 129.98h0M160.87 124.76h0M161.63 126.73h0M161.81 125.85h0M162.25 123.39h0M162.85 123.09h0M163.5 125.8h0M164.18 123.88h0M164.42 128.01h0M164.79 125.42h0M165.74 126.63h0M166.09 129.79h0M166.39 124.8h0M166.86 128.07h0M167.33 126.08h0M167.81 128.62h0M168.61 126.96h0M168.81 126.14h0M169.59 127.49h0M169.95 128.49h0M170.56 126.44h0M170.93 127.3h0M171.31 128.69h0M171.75 127.79h0M172.67 128.24h0M173.16 128.94h0M173.32 126.08h0M173.89 124.12h0M174.48 129.65h0M175.22 128.83h0M175.43 130.94h0M176.03 132.04h0M176.25 125.87h0M176.78 130.51h0M177.62 128.12h0M178.01 132.46h0M178.28 130.71h0M179.11 128.06h0M179.35 128.1h0M180.2 128.83h0M180.74 128.41h0M181.22 128.9h0M181.34 126.92h0M182.05 125.19h0M182.69 128.06h0M183.06 129.77h0M183.28 132.08h0M183.88 130.73h0M184.59 130.34h0M184.94 125.9h0M185.33 133.44h0M186.03 131.56h0M186.68 132.17h0M187.09 127.4h0M187.38 131.34h0M187.85 134.23h0M188.31 134.79h0M188.89 128.86h0M189.55 133.77h0M190.21 126.9h0M190.38 127h0M191.12 132.56h0M191.72 130.57h0M191.93 129.67h0M192.64 133.51h0M193.25 132.88h0M193.37 131.37h0M194.02 129.89h0M194.69 129.12h0M194.82 134.55h0M195.29 129.23h0M196.07 130.14h0M196.55 130.53h0M197.2 131.04h0M197.58 127.3h0M198.2 125.97h0M198.51 131.06h0M199.06 130.35h0M199.66 133.94h0M199.96 130.96h0M200.45 128.22h0M201.1 130.22h0M201.28 129.07h0M201.98 130.26h0M202.32 129.74h0M202.98 128.32h0M203.26 128.07h0M203.78 134.91h0M204.52 130.55h0M204.9 137.34h0M205.6 129.8h0M206.03 131.08h0M206.49 131.07h0M207.18 125.45h0M207.27 128.44h0M208.22 126.23h0M208.29 127.47h0M208.77 124.66h0M209.73 129.26h0M209.83 129.25h0M210.48 128.65h0M210.93 122.12h0M211.38 129.26h0M212.01 127.92h0M212.69 124.33h0M212.96 125.39h0M213.56 128.8h0M214.23 122.97h0M214.47 126.08h0M214.91 123.52h0M215.49 125.63h0M216.15 125.22h0M216.59 129.07h0M217.23 123.65h0M217.42 129h0M218.22 127.07h0M218.44 124.53h0M218.76 128.14h0M219.57 127.01h0M220.22 127.31h0M220.37 126.95h0M221.2 125.88h0M221.67 131.16h0M221.91 128.72h0M222.64 122.22h0M222.91 132.36h0M223.56 129.06h0M224 125.46h0M224.35 132.13h0M224.96 129.68h0M225.45 129.56h0M225.79 123.59h0M226.69 129.77h0M226.9 125.99h0M227.41 129.19h0M228.23 127.61h0M228.45 130.5h0M228.95 131.37h0M229.67 128.87h0M229.92 131.17h0M230.73 128.14h0M230.99 127.4h0M231.44 126.67h0M231.91 123.85h0M232.41 124.13h0M233.24 130.48h0M233.49 129.59h0M233.78 123.44h0M234.29 127.84h0M235.14 128.67h0M235.7 125h0M236.23 129.28h0M236.29 125.35h0M236.88 128.46h0M237.66 124.44h0M238.16 128.07h0M238.66 125.64h0M238.84 125.03h0M239.63 123.63h0M240.12 129.71h0M240.7 128.67h0M240.97 131.27h0M241.57 132.04h0M241.85 128.95h0M242.62 127.3h0M242.76 124.54h0M243.68 128.75h0M244.09 122.89h0M244.41 127.24h0M244.85 125.48h0M245.49 128.35h0M246.12 130.87h0M246.71 123.71h0M247.23 128.44h0M247.52 124.9h0M247.9 128.64h0M248.31 126.23h0M249.11 128.11h0M249.55 128.58h0M249.86 128.09h0M250.52 125.99h0M250.95 130.76h0M251.65 130.17h0M251.79 125.23h0M252.35 129.57h0M252.84 127.25h0M253.49 131.12h0M253.91 128.26h0M254.55 124.95h0M254.99 127.51h0M255.42 127.2h0M256.09 128.72h0M256.54 127.48h0M256.81 132.22h0M257.44 131.85h0M258.05 126.7h0M258.56 132.19h0M258.98 124.45h0M259.34 125.6h0M260.16 130.78h0M260.51 133.25h0M261.07 133.86h0M261.68 126.97h0M261.77 127.99h0M262.31 124.36h0M263.12 126.57h0M263.3 123.83h0M263.75 125.55h0M264.74 130.14h0M264.77 128.23h0M265.68 129.79h0M266.24 128.37h0M266.45 128.85h0M267.06 128.04h0M267.31 124h0M268.25 128.68h0M268.7 130.23h0M268.9 128.78h0M269.29 128.34h0M270.14 128.46h0M270.75 127.32h0M270.82 127.94h0M271.7 124.17h0M272.18 124.61h0M272.36 128.38h0M272.84 124.41h0M273.35 123.49h0M273.89 126.4h0M274.46 128.03h0M274.85 125.4h0M275.41 126.33h0M276.04 125.46h0M276.55 127.9h0M277.25 122.31h0M277.33 126.22h0M278.2 124.9h0M278.37 126.66h0M278.85 125.41h0M279.69 128.81h0M280.04 127.29h0M280.6 128.91h0M281.2 124.05h0M281.63 127.36h0M282.13 127.58h0M282.42 123.82h0M282.91 126.06h0M283.5 125.59h0M283.94 123.85h0M284.35 124.65h0M285.12 124.88h0M285.64 124.39h0M286.21 127.98h0M286.58 123.48h0M287.01 123.42h0M287.43 122.69h0M287.95 128.12h0M288.66 126.38h0M289.12 125.97h0M289.3 122.84h0M290.05 124.39h0M290.7 122.72h0M291.17 124.52h0M291.44 126.01h0M292.16 126.89h0M292.67 125.87h0M293.06 123.17h0M293.69 126.23h0M293.82 127.49h0M294.72 124.65h0M295.17 123.16h0M295.45 121.7h0M296.15 123.3h0M296.5 123.67h0M297.15 127.39h0M297.41 125.48h0M298.08 125.46h0M298.28 124.76h0M299.24 126.17h0M299.61 123.84h0M300.2 123.2h0M300.58 124.74h0M301.09 125.26h0M301.7 124.6h0M302.25 124.33h0M302.44 123.77h0M302.9 125.98h0M303.63 122.87h0M303.99 124.75h0M304.75 125.02h0M305.03 123.85h0M305.3 125.7h0M305.77 123.59h0M306.63 121.88h0M306.92 124.15h0M307.39 124.44h0M308.09 125.33h0M308.37 122.71h0M308.94 123.18h0M309.44 126.67h0M310.14 123.36h0M310.61 125.52h0M311.21 126.18h0M311.39 124.72h0M312.25 125.48h0M312.52 123.07h0M312.93 126.25h0M313.72 126.26h0M313.84 125.81h0M314.73 124.73h0M314.76 123.77h0M315.33 125.96h0M316.02 125.46h0M316.39 126.55h0M317.11 124.74h0M317.55 125.81h0M317.88 121.64h0M318.48 121.95h0M318.76 125.66h0M319.7 124.24h0M319.78 123.88h0M320.41 125.11h0M321.2 124.89h0M321.51 123.55h0M322.02 124.71h0M322.57 124.74h0M323.1 124.37h0M323.41 122.74h0M323.81 124.65h0M324.56 123.8h0M324.99 123.98h0M325.56 123.35h0M326.23 124.5h0M326.53 124.87h0M326.85 125.11h0M327.42 123.92h0M328.19 124.02h0M328.38 124.52h0M328.9 123.9h0M329.72 121.16h0M329.99 123.15h0M330.59 126.46h0M331.22 122.47h0M331.68 123.92h0" stroke="#000" stroke-width="2.1" stroke-linecap="round" fill="none"/><polygon points="332.5,112 333.1,112 333.1,112.7 336.03,112.7 336.03,113.4 336.48,113.4 336.48,114.1 337.26,114.1 337.26,114.8 335.59,114.8 335.59,115.5 336.8,115.5 336.8,116.2 335.89,116.2 335.89,116.9 335.15,116.9 335.15,117.6 337.99,117.6 337.99,118.3 335.9,118.3 335.9,119 336.72,119 336.72,119.7 337.14,119.7 337.14,120.4 338.03,120.4 338.03,121.1 338.18,121.1 338.18,121.8 340.54,121.8 340.54,122.5 343.39,122.5 343.39,123.2 340.93,123.2 340.93,123.9 341.47,123.9 341.47,124.6 342.49,124.6 342.49,125.3 340.69,125.3 340.69,126 340.06,126 340.06,126.7 339.35,126.7 339.35,127.4 337.15,127.4 337.15,128.1 336.62,128.1 336.62,128.8 335.21,128.8 335.21,129.5 335.03,129.5 335.03,130.2 334.83,130.2 334.83,130.9 333.1,130.9 333.1,131.6 333.95,131.6 333.95,132.3 333.1,132.3 333.1,133 333.48,133 333.48,133.7 333.15,133.7 333.15,134.4 333.36,134.4 333.36,135.1 333.84,135.1 333.84,135.8 332.5,135.8" fill="#1f8ef8"/><rect x="341.5" y="123.6" width="5" height="2.4" fill="#1f8ef8" fill-opacity="0.5"/><rect x="38" y="122" width="309.6" height="5.9" fill="#1f77b4" fill-opacity="0.4"/><rect x="38" y="110.5" width="309.6" height="28.3" fill="none" stroke="#3a3a3a" stroke-width="1"/><line x1="332.5" y1="110.5" x2="332.5" y2="138.8" stroke="#3a3a3a" stroke-width="1"/><line x1="332.5" y1="136.1" x2="334.1" y2="136.1" stroke="#3a3a3a" stroke-width="0.6"/><line x1="332.5" y1="133.3" x2="334.1" y2="133.3" stroke="#3a3a3a" stroke-width="0.6"/><line x1="332.5" y1="130.5" x2="334.1" y2="130.5" stroke="#3a3a3a" stroke-width="0.6"/><line x1="332.5" y1="127.7" x2="334.1" y2="127.7" stroke="#3a3a3a" stroke-width="0.6"/><line x1="332.5" y1="124.9" x2="334.1" y2="124.9" stroke="#3a3a3a" stroke-width="0.6"/><line x1="332.5" y1="122.1" x2="334.1" y2="122.1" stroke="#3a3a3a" stroke-width="0.6"/><line x1="332.5" y1="119.3" x2="334.1" y2="119.3" stroke="#3a3a3a" stroke-width="0.6"/><line x1="332.5" y1="116.5" x2="334.1" y2="116.5" stroke="#3a3a3a" stroke-width="0.6"/><line x1="332.5" y1="113.7" x2="334.1" y2="113.7" stroke="#3a3a3a" stroke-width="0.6"/><line x1="332.5" y1="110.9" x2="334.1" y2="110.9" stroke="#3a3a3a" stroke-width="0.6"/><line x1="40.7" y1="110.5" x2="40.7" y2="108" stroke="#3a3a3a" stroke-width="0.8"/><line x1="40.7" y1="138.8" x2="40.7" y2="141.8" stroke="#3a3a3a" stroke-width="0.8"/><text x="40.8" y="149.7" font-size="8.4" text-anchor="middle" textLength="11.5" lengthAdjust="spacingAndGlyphs">0.7</text><line x1="65.03" y1="110.5" x2="65.03" y2="108" stroke="#3a3a3a" stroke-width="0.8"/><line x1="65.03" y1="138.8" x2="65.03" y2="141.8" stroke="#3a3a3a" stroke-width="0.8"/><line x1="89.36" y1="110.5" x2="89.36" y2="108" stroke="#3a3a3a" stroke-width="0.8"/><line x1="89.36" y1="138.8" x2="89.36" y2="141.8" stroke="#3a3a3a" stroke-width="0.8"/><text x="89.46" y="149.7" font-size="8.4" text-anchor="middle" textLength="11.5" lengthAdjust="spacingAndGlyphs">1.0</text><line x1="113.69" y1="110.5" x2="113.69" y2="108" stroke="#3a3a3a" stroke-width="0.8"/><line x1="113.69" y1="138.8" x2="113.69" y2="141.8" stroke="#3a3a3a" stroke-width="0.8"/><line x1="138.02" y1="110.5" x2="138.02" y2="108" stroke="#3a3a3a" stroke-width="0.8"/><line x1="138.02" y1="138.8" x2="138.02" y2="141.8" stroke="#3a3a3a" stroke-width="0.8"/><text x="138.12" y="149.7" font-size="8.4" text-anchor="middle" textLength="11.5" lengthAdjust="spacingAndGlyphs">1.3</text><line x1="162.35" y1="110.5" x2="162.35" y2="108" stroke="#3a3a3a" stroke-width="0.8"/><line x1="162.35" y1="138.8" x2="162.35" y2="141.8" stroke="#3a3a3a" stroke-width="0.8"/><line x1="186.68" y1="110.5" x2="186.68" y2="108" stroke="#3a3a3a" stroke-width="0.8"/><line x1="186.68" y1="138.8" x2="186.68" y2="141.8" stroke="#3a3a3a" stroke-width="0.8"/><text x="186.78" y="149.7" font-size="8.4" text-anchor="middle" textLength="11.5" lengthAdjust="spacingAndGlyphs">1.6</text><line x1="211.01" y1="110.5" x2="211.01" y2="108" stroke="#3a3a3a" stroke-width="0.8"/><line x1="211.01" y1="138.8" x2="211.01" y2="141.8" stroke="#3a3a3a" stroke-width="0.8"/><line x1="235.34" y1="110.5" x2="235.34" y2="108" stroke="#3a3a3a" stroke-width="0.8"/><line x1="235.34" y1="138.8" x2="235.34" y2="141.8" stroke="#3a3a3a" stroke-width="0.8"/><text x="235.44" y="149.7" font-size="8.4" text-anchor="middle" textLength="11.5" lengthAdjust="spacingAndGlyphs">1.9</text><line x1="259.67" y1="110.5" x2="259.67" y2="108" stroke="#3a3a3a" stroke-width="0.8"/><line x1="259.67" y1="138.8" x2="259.67" y2="141.8" stroke="#3a3a3a" stroke-width="0.8"/><line x1="284" y1="110.5" x2="284" y2="108" stroke="#3a3a3a" stroke-width="0.8"/><line x1="284" y1="138.8" x2="284" y2="141.8" stroke="#3a3a3a" stroke-width="0.8"/><text x="284.1" y="149.7" font-size="8.4" text-anchor="middle" textLength="11.5" lengthAdjust="spacingAndGlyphs">2.2</text><line x1="308.33" y1="110.5" x2="308.33" y2="108" stroke="#3a3a3a" stroke-width="0.8"/><line x1="308.33" y1="138.8" x2="308.33" y2="141.8" stroke="#3a3a3a" stroke-width="0.8"/><line x1="332.66" y1="110.5" x2="332.66" y2="108" stroke="#3a3a3a" stroke-width="0.8"/><line x1="332.66" y1="138.8" x2="332.66" y2="141.8" stroke="#3a3a3a" stroke-width="0.8"/><text x="332.76" y="149.7" font-size="8.4" text-anchor="middle" textLength="11.5" lengthAdjust="spacingAndGlyphs">2.5</text><line x1="36" y1="136.1" x2="38" y2="136.1" stroke="#3a3a3a" stroke-width="0.6"/><line x1="34.5" y1="133.3" x2="38" y2="133.3" stroke="#3a3a3a" stroke-width="0.8"/><text x="32.8" y="136.2" font-size="8.4" text-anchor="end" textLength="9.8" lengthAdjust="spacingAndGlyphs">−3</text><line x1="36" y1="130.5" x2="38" y2="130.5" stroke="#3a3a3a" stroke-width="0.6"/><line x1="36" y1="127.7" x2="38" y2="127.7" stroke="#3a3a3a" stroke-width="0.6"/><line x1="34.5" y1="124.9" x2="38" y2="124.9" stroke="#3a3a3a" stroke-width="0.8"/><text x="32.8" y="127.8" font-size="8.4" text-anchor="end" textLength="4.6" lengthAdjust="spacingAndGlyphs">0</text><line x1="36" y1="122.1" x2="38" y2="122.1" stroke="#3a3a3a" stroke-width="0.6"/><line x1="36" y1="119.3" x2="38" y2="119.3" stroke="#3a3a3a" stroke-width="0.6"/><line x1="34.5" y1="116.5" x2="38" y2="116.5" stroke="#3a3a3a" stroke-width="0.8"/><text x="32.8" y="119.4" font-size="8.4" text-anchor="end" textLength="4.6" lengthAdjust="spacingAndGlyphs">3</text><line x1="36" y1="113.7" x2="38" y2="113.7" stroke="#3a3a3a" stroke-width="0.6"/><line x1="36" y1="110.9" x2="38" y2="110.9" stroke="#3a3a3a" stroke-width="0.6"/><text x="5.6" y="125.2" font-size="5.4" text-anchor="middle" transform="rotate(-90 5.6 125.2)" textLength="28" lengthAdjust="spacingAndGlyphs">Residuals</text><text x="10.6" y="124.9" font-size="5.4" text-anchor="middle" transform="rotate(-90 10.6 124.9)" textLength="31.7" lengthAdjust="spacingAndGlyphs">(Std. Dev.)</text><text x="185.4" y="166" font-size="16.6" text-anchor="middle" textLength="126.4" lengthAdjust="spacingAndGlyphs">Wavelength (μm)</text><g transform="translate(0.6 0)"><rect x="142.24" y="313.9" width="28.38" height="99.1" fill="#cccccc"/><rect x="214.74" y="313.9" width="53.53" height="99.1" fill="#cccccc"/><rect x="308.98" y="313.9" width="23.52" height="99.1" fill="#cccccc"/><path d="M39 377.1V386.87M39.5 375.48V385.71M40 375.81V385.18M40.5 375.74V384.71M41 376.15V386.14M41.5 376.74V386.88M42 376.41V385.64M42.5 375.68V385.6M43 375.45V386.5M43.5 375.53V384.66M44 375.69V385.06M44.5 375.49V385.39M45 374.68V383.77M45.5 374.8V384.44M46 374.78V384.09M46.5 374.69V384.54M47 374.71V384.83M47.5 375.14V384.92M48 374.51V385.19M48.5 372.82V383.8M49 375.4V385M49.5 374.59V384.07M50 374.99V385.05M50.5 374.72V383.65M51 374.04V383.08M51.5 374.53V384.17M52 375.61V385.16M52.5 373.71V383.51M53 372.77V382.93M53.5 373.69V383.24M54 374.01V384.16M54.5 373.98V383.78M55 374.29V384.46M55.5 374.55V383.76M56 373.94V383.4M56.5 373.88V383.93M57 373.71V383.17M57.5 374.47V384.65M58 372.78V382.41M58.5 373.83V384.03M59 373.02V383.5M59.5 373.84V383.42M60 373.16V383.22M60.5 373.81V382.35M61 372.8V383.39M61.5 374.07V383.65M62 372.49V382.76M62.5 374.46V383.56M63 372.55V382.68M63.5 373.6V383.03M64 372.5V383.08M64.5 372.22V382.45M65 372.74V382.88M65.5 373.25V383.2M66 373.6V382.57M66.5 373.41V382.95M67 373.83V383.32M67.5 372.3V383.31M68 373.59V382.31M68.5 372.65V380.86M69 372.74V382.34M69.5 372.67V381.9M70 371.97V382.72M70.5 372.33V382.46M71 372.81V382.51M71.5 372.28V381.66M72 372.02V381.56M72.5 370.89V381.09M73 372.33V383.76M73.5 373.27V382.02M74 373.19V382.41M74.5 372.83V381.93M75 371.97V381.25M75.5 372.48V381.78M76 373.14V382.25M76.5 371.66V380.77M77 371.52V381.03M77.5 373.79V382.89M78 372.9V381.72M78.5 372.09V382.42M79 371.26V381.54M79.5 371.92V381.05M80 371.76V382.72M80.5 371.52V381.14M81 370.98V380.93M81.5 371.87V381.22M82 371.04V381.09M82.5 371.32V382.01M83 371.93V380.76M83.5 372V380.96M84 372.25V382.85M84.5 371.26V380.83M85 371.16V381.71M85.5 371.21V380.96M86 371.86V380.57M86.5 370.88V380.44M87 370.77V381.13M87.5 370.68V381.08M88 370.75V379.68M88.5 371.36V380.27M89 370.12V379.66M89.5 371.41V380.56M90 370.76V380.34M90.5 372.16V381.46M91 372.36V381.18M91.5 372.38V381.1M92 371.37V380.36M92.5 370.73V380.59M93 371.14V381.43M93.5 370.42V379.83M94 371.35V381.43M94.5 371.31V380.36M95 371.24V380.65M95.5 369.77V379.92M96 371.07V380.61M96.5 370.52V380.28M97 370.36V379.97M97.5 371.03V381.09M98 370.91V380.01M98.5 370.68V379.39M99 369.91V379.42M99.5 369.94V381.47M100 370.62V380.64M100.5 370.63V380.16M101 371.2V380.67M101.5 369.5V379.87M102 370.84V379.27M102.5 370.24V380.32M103 369.6V379.44M103.5 369.52V379.53M104 370.32V379.76M104.5 371.44V380.4M105 370.75V380.92M105.5 370.39V379.03M106 370.09V380.2M106.5 369.37V379.13M107 371.16V380.48M107.5 370V379.45M108 370.17V380.41M108.5 369.33V378.33M109 369.25V379.39M109.5 370.66V379.29M110 369.85V379.61M110.5 370.43V378.99M111 369.03V378.73M111.5 369.26V379.26M112 368.34V379.74M112.5 370.77V381.13M113 369.72V379.67M113.5 370.86V380.03M114 369.54V377.83M114.5 370.23V379.27M115 369.06V379.34M115.5 369.61V379M116 369.72V378.49M116.5 369.46V379.02M117 369.93V378.84M117.5 371.07V379.49M118 369.96V380.12M118.5 369.12V379.7M119 368.65V378.75M119.5 369.23V378.83M120 369.08V380.1M120.5 368.15V377.08M121 369.43V379.08M121.5 369.42V378.65M122 369.78V379.35M122.5 369.85V379.22M123 369.89V379.09M123.5 369.33V378.8M124 369.12V377.85M124.5 369.82V379.11M125 370.04V378.94M125.5 368.58V379.17M126 369.67V378.06M126.5 369.91V378.83M127 367.81V377.99M127.5 369.04V377.66M128 368.25V377.75M128.5 369.85V379.96M129 370.28V379.59M129.5 369.16V377.74M130 368.37V378.87M130.5 369.54V377.75M131 368.64V377.94M131.5 369.5V379.17M132 370.01V379.45M132.5 368.8V378.56M133 370.09V379.46M133.5 367.75V377.11M134 369.65V377.76M134.5 369.71V378.92M135 368.07V378.18M135.5 368.02V377.89M136 367.89V378.16M136.5 369.78V379.51M137 368.85V377.95M137.5 367.39V376.57M138 370.48V379.02M138.5 367.78V376.79M139 368.69V377.98M139.5 367.87V377.13M140 369.43V378.61M140.5 366.94V376.98M141 370.61V378.98M141.5 368.47V377.45M142 366.02V374.82M142.5 366.49V374.36M143 367.57V377.3M143.5 370.98V380.06M144 368.46V378.77M144.5 368.91V377.56M145 368.05V377.16M145.5 369.57V378.71M146 369.32V377.44M146.5 369.08V377.35M147 367.26V375.68M147.5 370.02V379.76M148 370.97V379.77M148.5 365.87V375.33M149 372.72V380.13M149.5 369.1V378.97M150 367.39V376.15M150.5 364.61V374.9M151 369.39V378.36M151.5 370.11V378.65M152 368.13V376.79M152.5 365.19V374.63M153 369.49V379.13M153.5 367.22V376.91M154 367.59V376.58M154.5 372.48V382.28M155 372V380.89M155.5 370V380.13M156 367.78V376.77M156.5 370.1V378.12M157 365.81V374.1M157.5 368.79V377.38M158 368.11V376.33M158.5 366.86V375.05M159 366.04V375.26M159.5 369.6V378.94M160 369.2V378.53M160.5 369.5V378.28M161 369.87V379.05M161.5 367.33V375.9M162 367.56V375.79M162.5 366.37V375.3M163 368.36V377.64M163.5 370.01V379.22M164 368.67V377.52M164.5 370.19V379.87M165 367.87V375.96M165.5 367.76V377.37M166 367.1V376.94M166.5 367.52V375.76M167 372.54V381.3M167.5 369.62V379.02M168 367.43V376.43M168.5 368.29V376.38M169 369.47V377.43M169.5 366.43V375.77M170 368.92V378.27M170.5 366.77V375.98M171 368.02V375.89M171.5 367.84V376.75M172 368.7V377.21M172.5 366.86V375.27M173 367.03V375.94M173.5 367.59V375.79M174 367.73V376.51M174.5 367.92V377.36M175 368.93V377.62M175.5 370.6V378.83M176 370.18V378.21M176.5 367.9V377.15M177 369.35V377.89M177.5 367.96V376.89M178 370.79V379.87M178.5 369.12V378.87M179 366.38V375.52M179.5 368.95V378.19M180 369.13V378.48M180.5 365.57V373.82M181 367.7V375.67M181.5 367.92V376.67M182 366V374.96M182.5 367.26V376.19M183 368.12V375.76M183.5 369.01V378M184 368.3V377.69M184.5 371.28V380.43M185 368.21V376.5M185.5 370.5V379.02M186 367.56V376.7M186.5 368.86V376.22M187 367.47V375.52M187.5 365.95V373.89M188 367.42V375.57M188.5 368.77V377.97M189 370.03V378.65M189.5 368.76V376.48M190 368.53V377.24M190.5 366.66V374.83M191 369.46V378.18M191.5 369.44V378.76M192 367.96V375.36M192.5 367.41V375.99M193 367.13V375.61M193.5 369.73V378.63M194 368.21V376.97M194.5 367.27V377.33M195 368.35V377.6M195.5 367.81V377M196 367.06V375.47M196.5 366.51V374.98M197 366.18V375.36M197.5 366.16V374.05M198 368.53V376.78M198.5 369.86V378.44M199 365.15V373.86M199.5 367.9V376.81M200 368.19V376.95M200.5 366.24V374.8M201 367.88V375.53M201.5 366.39V374.72M202 368.78V376.78M202.5 366.13V375.42M203 367.98V375.5M203.5 367.84V375.85M204 366.95V375.16M204.5 364.9V373.39M205 366.2V374.58M205.5 368.17V377.44M206 367.46V375.19M206.5 367.12V375.44M207 364.9V374.04M207.5 366.61V374.33M208 367.1V376.71M208.5 367.04V375.84M209 368.92V378.01M209.5 365.46V374.87M210 365.6V373.69M210.5 364.92V372.53M211 368.21V376.08M211.5 365.72V375.16M212 367.98V376.62M212.5 367.57V375.05M213 368.36V377.36M213.5 367.72V376.78M214 364.89V374.33M214.5 366.01V374.8M215 369.13V376.71M215.5 363.11V372.13M216 368.73V377.97M216.5 368.4V377.53M217 368.48V377.17M217.5 366.14V374.15M218 367.39V375.49M218.5 364.48V372.93M219 366.87V374.89M219.5 364.98V373.03M220 365.78V374.65M220.5 364.47V373.17M221 367.14V374.37M221.5 368.42V377.58M222 363.35V371.87M222.5 368.58V377.7M223 361.71V369.7M223.5 361.84V369M224 365.29V375.37M224.5 365.62V374.72M225 367.47V375.04M225.5 362.58V370.95M226 366.34V374.34M226.5 366.71V375.44M227 368.19V377.48M227.5 366.1V374.06M228 368V375.42M228.5 363.9V372.86M229 365.54V374.61M229.5 365.64V373.34M230 368.06V375.69M230.5 363.47V372.93M231 364.9V374.07M231.5 367.91V376.42M232 370.4V378.92M232.5 367.58V376.07M233 366.65V375.15M233.5 366.98V375.01M234 368.96V377.85M234.5 368.06V377.05M235 369.66V378.37M235.5 367.28V375.72M236 365.68V373.21M236.5 365.53V373.56M237 365.55V373.91M237.5 364.44V373.02M238 370.31V377.86M238.5 368.82V377.33M239 364.56V373.71M239.5 370.95V378.67M240 368.24V376.16M240.5 364.79V373.39M241 368.42V376.55M241.5 367.65V375.27M242 366.01V374.66M242.5 363.28V371.66M243 367.52V375.41M243.5 367.83V376.91M244 362.17V369.84M244.5 368.01V375.88M245 369.57V376.96M245.5 366.56V374.46M246 368.04V376.34M246.5 367.5V376.01M247 365.6V374.68M247.5 367.42V374.51M248 370.26V379.05M248.5 365.93V373.41M249 368.01V376.85M249.5 369.12V377.85M250 366.45V375.13M250.5 366.85V374.56M251 365.34V373.47M251.5 365.43V374.44M252 368.53V375.88M252.5 369.3V377.07M253 366.23V374.49M253.5 373.73V383.1M254 366.73V375.87M254.5 368.19V376.47M255 368.42V376.11M255.5 367.74V376.18M256 371.27V378.13M256.5 367.16V375.88M257 371.07V379.28M257.5 370.5V379.56M258 365.83V374.15M258.5 370.61V377.78M259 366.14V375.5M259.5 374.31V382.35M260 367.15V375.31M260.5 366.24V374.63M261 364.56V371.95M261.5 365.27V373.41M262 366.75V374.93M262.5 365.44V373.44M263 365.04V373.01M263.5 365.38V373.59M264 367.06V375.44M264.5 370.41V378.28M265 363.74V371.79M265.5 366.27V373.86M266 364.77V372.2M266.5 363.24V371.31M267 363.58V372.26M267.5 364.21V371.98M268 367.28V374.84M268.5 365.84V374.4M269 364.71V373.57M269.5 366.69V374.76M270 366.35V374.42M270.5 364.85V373.19M271 365.49V374.08M271.5 363.18V371.46M272 365.8V373.63M272.5 366.32V373.72M273 362.66V372.25M273.5 360.93V370.37M274 367.26V374.53M274.5 363.76V372.42M275 369.42V377.84M275.5 362.9V370.9M276 365.26V373.36M276.5 362.14V370.78M277 363.2V372.59M277.5 365.13V373.99M278 362.26V369.81M278.5 362.53V369.98M279 362.77V371.91M279.5 363.1V371.32M280 363.73V371.88M280.5 364.02V372.49M281 364.08V372.36M281.5 362.52V371.55M282 362.36V368.89M282.5 360.21V368.25M283 361.26V369.03M283.5 360.75V369.34M284 362.41V370.81M284.5 361.12V370.13M285 359.1V367.01M285.5 362.66V371.4M286 359.06V368.42M286.5 359.44V367.57M287 360.98V369.51M287.5 362.49V370.11M288 357.46V365.37M288.5 358.94V367.23M289 361.87V368.66M289.5 359.25V367.99M290 359.29V367.35M290.5 359.29V366.71M291 363.47V371.11M291.5 359.5V367.73M292 361.78V369.51M292.5 361.54V369.38M293 359.61V367.03M293.5 360.8V368.77M294 359.25V366.96M294.5 358.66V366.82M295 357.41V365.02M295.5 360.77V368.51M296 358.48V366.43M296.5 358.08V366.85M297 358.03V365.46M297.5 362.45V370.37M298 360.3V368.26M298.5 358.68V366.26M299 357.23V365.85M299.5 355.57V363.61M300 358.4V368.12M300.5 359.16V366.94M301 356V364.15M301.5 360.08V368.25M302 360.63V367.98M302.5 356.34V364.48M303 356.74V364.57M303.5 357.07V365.08M304 357.93V366.78M304.5 357.4V365.16M305 353.89V362.94M305.5 360.33V367.6M306 358.32V366.19M306.5 359.35V367.57M307 359.27V367.41M307.5 356.73V365.03M308 357.7V365.9M308.5 357.99V367.18M309 358.71V366.62M309.5 356.68V363.8M310 354.72V362.95M310.5 357.16V364.91M311 354.53V362.38M311.5 354.45V363.2M312 350.89V358.37M312.5 355.73V364.14M313 353.74V360.54M313.5 353.56V362.68M314 355.26V364.06M314.5 356.16V363.96M315 359.73V369.01M315.5 355.4V364.86M316 350.5V359.55M316.5 355.42V364.2M317 353.15V361.91M317.5 355.29V364.65M318 352.96V361.44M318.5 352.9V361.14M319 353.49V360.77M319.5 352.79V360.99M320 348.85V358.67M320.5 352.22V361.18M321 354.18V362.22M321.5 357.21V365.72M322 352.79V361.77M322.5 351.86V361.32M323 355.87V364.01M323.5 355.22V363.87M324 357.27V366.36M324.5 354.91V364M325 353.52V362.1M325.5 356.62V366.16M326 356.9V366.59M326.5 351.28V359.8M327 354.44V361.8M327.5 346.9V356.61M328 352.46V360.29M328.5 349.53V357.91M329 351.45V360.26M329.5 350.27V359.84M330 350.28V360.19M330.5 351.68V360.27M331 353.24V362.97M331.5 352.4V362.04M332 350.53V358.9" stroke="#c63ed2" stroke-opacity="0.45" stroke-width="1" fill="none"/><path d="M142.5 365.49V374.7M143 368.81V377.22M143.5 370.97V377.98M144 368.96V377.28M144.5 370.27V377.01M145 366.96V377.66M145.5 368.71V379.67M146 367.02V377.79M146.5 369.78V377.63M147 368.79V374.36M147.5 373.4V379.83M148 369.54V380.62M148.5 364.49V374.18M149 371.13V380.9M150 368.7V373.76M150.5 366.43V372.46M151 367.44V381.09M151.5 368.27V378.23M152 366.8V379.21M152.5 367.35V372.43M153 372.33V379.36M153.5 366.81V376.75M154 366.06V376.45M154.5 374.52V382.33M155 373.4V379.51M155.5 370.9V379.34M156.5 369.98V377.91M157 365.2V370.66M157.5 369.44V376.38M158 369.13V374.54M158.5 368V373.51M159 365.02V376.66M160 369.82V376.39M160.5 369.54V378.61M161.5 369.78V374.9M162 366.69V375.88M163 370.95V376.25M163.5 369.14V378.54M164 369.96V375.03M164.5 370.07V378.51M165 366.29V376.24M166 368.71V375.2M166.5 366.42V375.06M167 374.29V379.31M167.5 371.15V378.39M168 367.13V376.37M168.5 367.96V375.63M169 370.68V377.46M169.5 365.67V377.3M170 366.27V377.38M170.5 369.3V374.59M215 370.38V375.73M215.5 364.96V370.44M216 369.83V377.59M216.5 367.68V376.97M217 368.17V373.7M217.5 366.41V374.75M219.5 365.16V373.08M220.5 366.69V371.97M221 366.78V372.5M221.5 369.92V375.75M222.5 366.24V375.65M223 361.48V367.08M223.5 362.73V370.27M224 366.07V373.61M224.5 365.35V374.92M225.5 360.72V374.1M226 364.24V377.77M226.5 367.83V375.93M227 368.35V378M227.5 366.55V374.42M228 365.79V377.89M229 364.88V373.39M229.5 365.27V375.34M230.5 367.02V372.22M231 366.96V372.26M231.5 367.28V378.55M232 372.89V378.02M232.5 368.66V377.45M233 366.65V376.23M233.5 366.64V374.73M234 369.63V376.17M234.5 369.92V376.48M235 365.5V381.71M235.5 366.97V374.97M236 365.08V373.64M237 366.29V373.3M237.5 364.23V371.49M238 370.86V376.93M238.5 370.71V377.08M239 365.81V373.27M239.5 370.96V378.92M240 363.99V381.94M240.5 366.84V371.88M241 364.82V379.39M241.5 367.64V376.04M242.5 363.52V373.56M243 365.52V379.9M243.5 368.79V375.31M244 360.18V369.31M244.5 369.43V377.75M245.5 367.99V373.77M246 369.62V374.76M246.5 367.42V373.55M247 368.14V373.77M247.5 369.77V375.4M248.5 366.35V375.23M249 369.95V375.89M249.5 367.06V375.78M250 367.18V372.42M250.5 364.94V374.92M251 365.42V375.78M251.5 364.99V375.62M252 369.31V374.79M252.5 368.67V377.67M253 365.35V374.7M253.5 373.76V381.88M254 367.89V375.74M254.5 368.03V377.63M255.5 367.96V373.52M256 370.85V380.19M256.5 364.56V374.92M257 371.92V379.56M257.5 369.77V378.89M258 367.88V373.18M258.5 370.92V376.61M259 366.33V372.83M259.5 374.81V383.23M260 365.37V376M260.5 367.82V373.99M261 366.47V372.91M261.5 365.19V374.28M262.5 364.14V375.91M263.5 366.76V374.15M264 368.95V373.98M264.5 371.68V377.25M265.5 365.07V375.19M266 366.39V372.11M267 360.92V370.1M267.5 361.74V375.15M268 368.63V374.26M309.5 356.96V364.29M310.5 356.91V363.75M311.5 350.27V364.88M312 351.56V358.15M312.5 356.97V363.93M313 351.3V362.86M313.5 355.74V362.27M314.5 355.55V365.29M315 360.15V368.96M315.5 356.43V364.23M316.5 352.69V365.06M317 352.67V361.92M317.5 356.56V362.31M318 353.98V362M318.5 354.55V360.41M319.5 352.65V359.7M320 348.86V357.74M321 354.86V363.08M321.5 355.05V365.99M322 353.4V359.88M322.5 348.96V362.71M323 355.39V364.38M324 355.83V368.15M324.5 349.06V365.79M325 347.78V367.2M325.5 355.5V370.08M326 353.83V370.51M326.5 345.64V366.48M327 347.4V365.86M327.5 341.18V363.47M328.5 339.32V367.26M329 341.28V372.84M329.5 339.89V368.38M330.5 339.01V374.5M331 344.51V373.56M332 338.25V371.99" stroke="#000" stroke-opacity="0.42" stroke-width="0.7" fill="none"/><path d="M39 380.59V382.25M39.5 379.66V382.37M40 380.09V381.84M40.5 379.21V380.66M41 381V382.42M41.5 380.24V382.29M42 379.48V381.43M42.5 379.98V381.62M43 379.52V381.33M43.5 379.15V380.68M44 379.74V381.21M44.5 378.81V380.75M45 378.55V380.79M45.5 378.62V380.12M46 379.11V380.59M46.5 378.35V380.72M47 378.95V380.58M47.5 378.32V380.1M48 378.6V380.39M48.5 378.2V379.78M49 378.85V380.6M49.5 378.39V380.39M50 378.53V380.29M50.5 378.36V380.44M51 377.7V379.73M51.5 378.05V380.91M52 379.09V380.93M52.5 377.34V379.27M53 377.46V378.98M53.5 377.44V379.11M54 378.09V380.49M54.5 378.12V379.72M55 378.43V380.18M55.5 378.13V380.07M56 377.79V379.87M56.5 377.9V379.73M57 377.75V379.39M57.5 378.2V379.78M58 377.31V378.78M58.5 377.15V379.49M59 377.52V379.62M59.5 378.23V380.22M60 376.97V379.08M60.5 377.12V378.55M61 377.08V378.96M61.5 377.95V379.37M62 377.17V378.97M62.5 377.57V379.88M63 376.07V378.4M63.5 377.83V379.24M64 377.59V379.29M64.5 376.15V378.43M65 377.15V378.75M65.5 377.65V379.1M66 376.99V378.64M66.5 377.26V379.1M67 377.84V379.65M67.5 376.96V378.54M68 376.53V378.37M68.5 375.96V378.4M69 376.95V378.59M69.5 376.48V378.21M70 376.46V378.17M70.5 376.4V378.2M71 376.77V378.44M71.5 375.78V377.8M72 375.53V377.57M72.5 375.15V377.06M73 376.75V378.67M73.5 376.18V378.15M74 376.42V379.14M74.5 376.28V377.84M75 375.87V377.52M75.5 376.36V378.06M76 376.08V377.77M76.5 375.57V377.15M77 375.68V377.31M77.5 376.8V378.5M78 376.27V377.69M78.5 376.06V377.89M79 375.88V377.38M79.5 375.34V377.48M80 376.2V377.97M80.5 375.73V377.48M81 375.4V377.15M81.5 375.66V377.38M82 375.26V377.01M82.5 375.51V377.68M83 376.1V377.87M83.5 375.33V376.8M84 376.23V377.87M84.5 375.02V377.13M85 375.56V377.26M85.5 375.18V376.67M86 374.91V377.43M86.5 375.19V377.32M87 375.08V376.93M87.5 374.99V376.7M88 374.89V376.76M88.5 374.47V376.98M89 374.41V376.3M89.5 375.11V376.71M90 375.3V377.04M90.5 375.62V377.11M91 375.2V377.23M91.5 376.22V377.77M92 375.27V376.72M92.5 374.86V376.37M93 375.63V377.62M93.5 374.57V375.99M94 375.3V377M94.5 374.53V375.97M95 374.4V377.21M95.5 374V375.45M96 375.13V376.83M96.5 374.6V376.34M97 374.36V375.78M97.5 375.4V377.06M98 374.83V376.73M98.5 374.39V376.46M99 374.1V375.98M99.5 374.36V376.28M100 374.44V376.04M100.5 374.9V376.32M101 374.57V376.67M101.5 374.12V375.72M102 373.91V375.98M102.5 374.01V375.84M103 373.67V375.35M103.5 374.11V375.58M104 374.05V376.07M104.5 374.67V376.16M105 374.53V376.89M105.5 373.7V375.55M106 374.34V376.22M106.5 373.84V375.67M107 375.26V376.77M107.5 374.11V375.7M108 374.3V376.04M108.5 372.98V375.8M109 373.58V375.28M109.5 373.87V376.01M110 373.77V375.43M110.5 373.9V376.05M111 372.82V374.99M111.5 374.38V375.82M112 373.4V375.02M112.5 374.86V376.43M113 373.4V375.6M113.5 374.39V376.13M114 372.94V374.69M114.5 373.85V375.82M115 373.06V375.03M115.5 373.4V375.1M116 373.6V375.45M116.5 373.46V375.14M117 373.79V375.45M117.5 373.74V376.04M118 373.65V375.98M118.5 373.4V375.28M119 372.82V374.23M119.5 373.01V374.67M120 373.37V375.02M120.5 372.14V373.77M121 373.82V375.66M121.5 373.35V374.83M122 373.13V374.98M122.5 373.92V375.69M123 373.45V375.76M123.5 373.48V375.1M124 372.36V374.56M124.5 373.52V375.09M125 373.58V375.02M125.5 372.62V374.28M126 373.86V375.6M126.5 373.03V375.65M127 371.24V374M127.5 373.03V375.03M128 371.72V374.37M128.5 373.82V375.56M129 373.63V375.25M129.5 372.15V373.99M130 371.86V374.52M130.5 372.57V375.16M131 372.22V374.97M131.5 374.09V375.6M132 373.26V375.24M132.5 371.96V374.99M133 373.14V375.02M133.5 371V373.23M134 372.88V374.77M134.5 373.35V375.08M135 371.99V374.81M135.5 371.56V374.38M136 373.08V374.75M136.5 373.48V376.44M137 372.67V374.5M137.5 371.52V373.53M138 373.58V375.42M138.5 370.81V372.91M139 372.61V374.81M139.5 371.35V374.3M140 373.26V374.75M140.5 371.53V373.24M141 373.74V375.86M141.5 372.47V374.75M142 368.71V372.09M142.5 365.88V374.08M143 371.68V373.53M143.5 372.82V377.51M144 372.43V374.11M144.5 371.13V375.17M145 370.44V374.85M145.5 373.07V375.29M146 372.19V374.98M146.5 372.46V374.35M147 369.55V373.17M147.5 371.86V377.76M148 372.33V377.81M148.5 368.34V373.24M149 375.39V377.7M149.5 372.17V375.85M150 371.04V373.1M150.5 368.88V370.74M151 372.18V375.65M151.5 372.56V374.97M152 370.06V373.82M152.5 368.19V371.91M153 373.55V375.93M153.5 369.55V374.49M154 370.59V373.87M154.5 374.64V380.49M155 375.66V377.21M155.5 372.73V376.43M156 371.18V373.53M156.5 373.31V374.97M157 367.86V371.09M157.5 371.76V374.88M158 369.44V374.47M158.5 369.7V372.58M159 368.79V372.58M159.5 372.77V375.4M160 371.4V375.42M160.5 371.93V375.17M161 372.56V376.76M161.5 370.1V373.86M162 370.54V372.22M162.5 369.02V372.06M163 371.22V374.52M163.5 372.58V376.7M164 372.45V373.95M164.5 372.95V375.99M165 368.72V374.4M165.5 370.79V374.6M166 370.61V373.82M166.5 370.62V372.23M167 374.31V378.46M167.5 373V376.5M168 370.7V373.58M168.5 370.74V373.48M169 371.45V374.99M169.5 368.68V373.29M170 373.2V374.73M170.5 369.82V372.85M171 371.88V373.56M171.5 369.61V374.27M172 371.52V373.77M172.5 370.38V372.98M173 370.15V372.63M173.5 371.2V372.87M174 370.68V373.97M174.5 371.12V374.34M175 371.52V374.7M175.5 372.45V376.98M176 372.79V375M176.5 371.79V373.57M177 372.67V374.84M177.5 369.62V374.66M178 373.31V375.75M178.5 371.31V375.67M179 369.2V373.42M179.5 372.89V374.47M180 372.04V375.42M180.5 368.68V370.74M181 370.99V372.81M181.5 371.13V373.25M182 369.57V371.42M182.5 369.54V373.38M183 369.44V373.7M183.5 371.79V374.66M184 371.93V374.01M184.5 373.44V377.85M185 370.21V374.02M185.5 372.94V374.85M186 370.55V374.7M186.5 371.6V374.05M187 369.73V372.52M187.5 369.34V371.09M188 370.75V372.32M188.5 371.73V374.91M189 372.87V375.67M189.5 371.9V374.28M190 370.88V375.01M190.5 369.4V373.26M191 372.7V375.57M191.5 372.99V374.79M192 370.17V373.07M192.5 370.47V373.9M193 369.78V372.26M193.5 372.41V375.51M194 371.68V373.64M194.5 371.31V372.76M195 371.88V373.36M195.5 371.52V373.75M196 370.52V372.64M196.5 369.74V371.34M197 369.34V371.59M197.5 368.82V370.94M198 371.67V373.43M198.5 373.69V375.67M199 368.46V371.2M199.5 371.14V372.97M200 371.66V373.06M200.5 369.48V371.7M201 371.31V372.72M201.5 368.88V371.82M202 371.94V374.38M202.5 369.62V372.12M203 370.8V372.56M203.5 370.04V374.68M204 369.85V371.95M204.5 367.96V370.3M205 369.21V372.1M205.5 371.12V373.35M206 370.08V372.13M206.5 369.72V373.18M207 368.55V370.9M207.5 369.52V372.93M208 371.02V372.81M208.5 368.86V373.09M209 372.33V374.3M209.5 369.46V371.64M210 368.11V370.73M210.5 367.79V369.44M211 371.2V373.06M211.5 369.72V371.3M212 370.63V373.06M212.5 370.16V372M213 371.01V374.11M213.5 371.48V373.15M214 368.2V371.3M214.5 369.24V372.54M215 371.25V374.01M215.5 366.66V368.84M216 370.14V376.64M216.5 370.94V374.85M217 369.57V375.27M217.5 369.21V370.68M218 368.75V373.27M218.5 365.16V370.92M219 369.17V371.86M219.5 365.78V372.56M220 368.34V372.85M220.5 368.08V370.68M221 368.85V373.21M221.5 371.71V374.12M222 366.36V369.04M222.5 370.75V374.06M223 365.35V367.23M223.5 363.33V368.55M224 368.74V371.74M224.5 369.12V371.9M225 370.01V372.86M225.5 365.46V368.66M226 369.43V371.37M226.5 369.99V371.61M227 371.87V374.49M227.5 369.62V371.05M228 368.97V374.38M228.5 365.82V371.22M229 369.18V371.22M229.5 367.02V372.33M230 371.04V373.2M230.5 367.65V369.53M231 368.13V369.77M231.5 370.95V372.94M232 373.01V376.07M232.5 370.46V372.8M233 368.35V374.66M233.5 368.27V372.1M234 371.91V374.59M234.5 370.75V373.53M235 372.95V376.43M235.5 369.28V374.3M236 367.19V371.11M236.5 368.12V371.85M237 368.39V369.92M237.5 367.87V369.42M238 372.27V375.68M238.5 372.06V374.06M239 367.17V370.45M239.5 373.43V376.96M240 370.7V373.33M240.5 365.61V373.47M241 371.3V373.51M241.5 369.49V373.49M242 369.34V370.77M242.5 366.07V369.22M243 369.41V374.28M243.5 370.89V373.97M244 364.26V368.62M244.5 372.19V373.95M245 372.33V374.16M245.5 369.3V372.72M246 371.27V373.28M246.5 368.62V374.37M247 366.81V373.94M247.5 370.19V372.65M248 372.46V377.66M248.5 367.46V370.97M249 370.93V374.65M249.5 371.71V373.7M250 368.68V373.03M250.5 369.22V373.64M251 368.72V370.13M251.5 367.71V373.45M252 371.12V373.67M252.5 369.24V376.85M253 369.73V371.19M253.5 377.96V379.56M254 369.4V372.87M254.5 371.35V373.83M255 370.49V373.17M255.5 368.49V374.45M256 372.73V377.34M256.5 370.54V372.04M257 370.93V379.24M257.5 373.95V375.4M258 368.82V371.32M258.5 371.86V377.01M259 368.85V372.91M259.5 375.93V380.01M260 369.97V372.82M260.5 368.27V372.1M261 366.39V369.81M261.5 367.61V371.04M262 369.06V372.42M262.5 368.06V371.46M263 366.92V371.41M263.5 367.58V372.73M264 370.33V371.74M264.5 373.56V375.15M265 364.56V370.58M265.5 368.4V371.23M266 367.1V370.5M266.5 366.38V368.5M267 365.32V370.26M267.5 366.41V370.47M268 370.23V372.76M268.5 368.58V370.54M269 367.52V370.05M269.5 369.63V371.73M270 368.7V371.13M270.5 367.8V369.87M271 368.89V370.64M271.5 364.98V369.83M272 368.72V371.02M272.5 366.85V372M273 366.17V369.19M273.5 364.75V367.39M274 370.13V371.66M274.5 366.66V369.7M275 371.79V375.06M275.5 364.5V368.66M276 368V370.41M276.5 365.31V368.21M277 367.18V368.63M277.5 367.83V369.89M278 364V367.55M278.5 365.95V367.94M279 366.45V368.18M279.5 365.36V368.88M280 365.49V370.32M280.5 366.97V370.19M281 366.5V369.76M281.5 365.5V368.45M282 364.4V367.11M282.5 363.08V365.34M283 363V366.65M283.5 363.12V367.08M284 366.31V368.13M284.5 363.89V366.49M285 361.73V365.2M285.5 365.35V368.26M286 362.64V365.48M286.5 362.5V365.55M287 363.11V366.72M287.5 365.07V367.12M288 358.65V362.64M288.5 360.87V364.99M289 363.78V366.66M289.5 360.88V367.35M290 360.7V365.46M290.5 362.14V365.01M291 366.13V367.98M291.5 362.31V364.76M292 364.75V366.47M292.5 364.09V367.24M293 362.55V363.96M293.5 364.05V365.59M294 360.86V365.25M294.5 361.3V364M295 360.87V362.3M295.5 363.83V366.63M296 360.88V364.61M296.5 361.62V363.09M297 359.69V362.66M297.5 365.2V367.96M298 362.71V366.24M298.5 362.01V363.46M299 360.21V362.95M299.5 358.95V360.87M300 360.93V365.53M300.5 361.69V364.56M301 358.64V361.01M301.5 363.84V365.3M302 362.94V364.54M302.5 358.93V361.79M303 360.11V361.93M303.5 358.04V364.28M304 361.36V362.96M304.5 360.15V362.8M305 356.95V360.13M305.5 362.41V366.24M306 361.08V362.96M306.5 362.9V364.51M307 362.33V364.83M307.5 359.37V361.96M308 360.86V362.55M308.5 360.02V365.04M309 359.45V365.73M309.5 358.8V361.66M310 357.93V360.1M310.5 358.32V362.66M311 357.05V359.62M311.5 356.09V361.56M312 353.83V356.3M312.5 357.02V363.38M313 356.24V358.4M313.5 356.48V360.3M314 357.91V361.19M314.5 359.2V361.56M315 362.1V366.49M315.5 358.52V361.28M316 354.78V356.49M316.5 358.75V360.27M317 356.38V358.67M317.5 358.72V361.31M318 356.34V357.81M318.5 354.93V358.88M319 355.67V358.98M319.5 355.57V358.25M320 350.74V356.47M320.5 354.48V358.72M321 357.04V359.49M321.5 360.15V362.79M322 356.03V358.61M322.5 353.5V360.53M323 358.74V360.34M323.5 358.19V360.51M324 359.15V365.27M324.5 357.83V360.8M325 355.94V359.15M325.5 360.39V362.27M326 360.75V362.98M326.5 354.21V357.67M327 355.58V359.89M327.5 351.25V352.85M328 353.75V358.17M328.5 349.43V359.01M329 351.68V360.8M329.5 353.56V357.01M330 355.49V356.97M330.5 354.16V358.59M331 355.6V361.07M331.5 355.94V358.87M332 350.46V358.73" stroke="#2a0638" stroke-opacity="0.65" stroke-width="0.9" fill="none"/><polyline points="39,379.83 40,379.65 41,379.4 42,379.1 43,378.8 44,378.54 45,378.32 46,378.15 47,378.02 48,377.94 49,377.85 50,377.76 51,377.67 52,377.58 53,377.5 54,377.41 55,377.32 56,377.23 57,377.14 58,377.06 59,376.97 60,376.88 61,376.79 62,376.7 63,376.62 64,376.53 65,376.44 66,376.35 67,376.26 68,376.18 69,376.09 70,376.02 71,375.95 72,375.89 73,375.83 74,375.77 75,375.72 76,375.66 77,375.6 78,375.55 79,375.49 80,375.43 81,375.38 82,375.32 83,375.26 84,375.21 85,375.15 86,375.09 87,375.04 88,374.98 89,374.92 90,374.87 91,374.81 92,374.75 93,374.7 94,374.64 95,374.58 96,374.53 97,374.47 98,374.41 99,374.36 100,374.31 101,374.27 102,374.23 103,374.19 104,374.15 105,374.12 106,374.08 107,374.04 108,374.01 109,373.97 110,373.93 111,373.9 112,373.86 113,373.82 114,373.79 115,373.75 116,373.71 117,373.68 118,373.64 119,373.6 120,373.57 121,373.53 122,373.49 123,373.46 124,373.42 125,373.38 126,373.35 127,373.31 128,373.27 129,373.24 130,373.2 131,373.15 132,373.11 133,373.06 134,373.02 135,372.97 136,372.93 137,372.89 138,372.84 139,372.79 140,372.75 141,372.7 142,372.66 143,372.61 144,372.57 145,372.52 146,372.48 147,372.44 148,372.39 149,372.36 150,372.35 151,372.36 152,372.39 153,372.44 154,372.49 155,372.53 156,372.58 157,372.63 158,372.67 159,372.72 160,372.77 161,372.81 162,372.86 163,372.91 164,372.94 165,372.95 166,372.94 167,372.91 168,372.86 169,372.81 170,372.77 171,372.72 172,372.67 173,372.63 174,372.58 175,372.53 176,372.49 177,372.44 178,372.39 179,372.35 180,372.3 181,372.26 182,372.21 183,372.16 184,372.12 185,372.07 186,372.03 187,371.98 188,371.94 189,371.89 190,371.85 191,371.81 192,371.76 193,371.72 194,371.67 195,371.62 196,371.58 197,371.53 198,371.49 199,371.44 200,371.38 201,371.32 202,371.24 203,371.16 204,371.09 205,371.01 206,370.93 207,370.85 208,370.77 209,370.69 210,370.61 211,370.54 212,370.46 213,370.39 214,370.35 215,370.33 216,370.34 217,370.36 218,370.38 219,370.39 220,370.41 221,370.43 222,370.45 223,370.47 224,370.49 225,370.51 226,370.52 227,370.54 228,370.56 229,370.59 230,370.64 231,370.7 232,370.78 233,370.87 234,370.96 235,371.05 236,371.14 237,371.23 238,371.32 239,371.41 240,371.5 241,371.59 242,371.68 243,371.77 244,371.86 245,371.95 246,372.04 247,372.13 248,372.22 249,372.29 250,372.34 251,372.37 252,372.37 253,372.35 254,372.33 255,372.32 256,372.3 257,372.28 258,372.27 259,372.25 260,372.23 261,372.19 262,372.1 263,371.97 264,371.8 265,371.6 266,371.4 267,371.2 268,371 269,370.8 270,370.6 271,370.4 272,370.2 273,370.02 274,369.86 275,369.72 276,369.6 277,369.5 278,369.4 279,369.3 280,369.2 281,369.1 282,369 283,368.9 284,368.8 285,368.7 286,368.6 287,368.5 288,368.4 289,368.31 290,368.24 291,368.18 292,368.13 293,368.09 294,368.06 295,368.02 296,367.99 297,367.95 298,367.92 299,367.88 300,367.85 301,367.81 302,367.78 303,367.74 304,367.71 305,367.67 306,367.64 307,367.6 308,367.57 309,367.54 310,367.52 311,367.5 312,367.49 313,367.49 314,367.48 315,367.48 316,367.47 317,367.47 318,367.47 319,367.46 320,367.46 321,367.45 322,367.45 323,367.44 324,367.44 325,367.43 326,367.43 327,367.43 328,367.42 329,367.42 330,367.41 331,367.41 332,367.41" fill="none" stroke="#f5101c" stroke-width="1.9"/><rect x="38" y="313.9" width="294.5" height="99.1" fill="none" stroke="#3a3a3a" stroke-width="1"/><line x1="40.7" y1="313.9" x2="40.7" y2="310.9" stroke="#3a3a3a" stroke-width="0.8"/><line x1="40.7" y1="413" x2="40.7" y2="416" stroke="#3a3a3a" stroke-width="0.8"/><line x1="65.03" y1="313.9" x2="65.03" y2="310.9" stroke="#3a3a3a" stroke-width="0.8"/><line x1="65.03" y1="413" x2="65.03" y2="416" stroke="#3a3a3a" stroke-width="0.8"/><line x1="89.36" y1="313.9" x2="89.36" y2="310.9" stroke="#3a3a3a" stroke-width="0.8"/><line x1="89.36" y1="413" x2="89.36" y2="416" stroke="#3a3a3a" stroke-width="0.8"/><line x1="113.69" y1="313.9" x2="113.69" y2="310.9" stroke="#3a3a3a" stroke-width="0.8"/><line x1="113.69" y1="413" x2="113.69" y2="416" stroke="#3a3a3a" stroke-width="0.8"/><line x1="138.02" y1="313.9" x2="138.02" y2="310.9" stroke="#3a3a3a" stroke-width="0.8"/><line x1="138.02" y1="413" x2="138.02" y2="416" stroke="#3a3a3a" stroke-width="0.8"/><line x1="162.35" y1="313.9" x2="162.35" y2="310.9" stroke="#3a3a3a" stroke-width="0.8"/><line x1="162.35" y1="413" x2="162.35" y2="416" stroke="#3a3a3a" stroke-width="0.8"/><line x1="186.68" y1="313.9" x2="186.68" y2="310.9" stroke="#3a3a3a" stroke-width="0.8"/><line x1="186.68" y1="413" x2="186.68" y2="416" stroke="#3a3a3a" stroke-width="0.8"/><line x1="211.01" y1="313.9" x2="211.01" y2="310.9" stroke="#3a3a3a" stroke-width="0.8"/><line x1="211.01" y1="413" x2="211.01" y2="416" stroke="#3a3a3a" stroke-width="0.8"/><line x1="235.34" y1="313.9" x2="235.34" y2="310.9" stroke="#3a3a3a" stroke-width="0.8"/><line x1="235.34" y1="413" x2="235.34" y2="416" stroke="#3a3a3a" stroke-width="0.8"/><line x1="259.67" y1="313.9" x2="259.67" y2="310.9" stroke="#3a3a3a" stroke-width="0.8"/><line x1="259.67" y1="413" x2="259.67" y2="416" stroke="#3a3a3a" stroke-width="0.8"/><line x1="284" y1="313.9" x2="284" y2="310.9" stroke="#3a3a3a" stroke-width="0.8"/><line x1="284" y1="413" x2="284" y2="416" stroke="#3a3a3a" stroke-width="0.8"/><line x1="308.33" y1="313.9" x2="308.33" y2="310.9" stroke="#3a3a3a" stroke-width="0.8"/><line x1="308.33" y1="413" x2="308.33" y2="416" stroke="#3a3a3a" stroke-width="0.8"/><line x1="332.66" y1="313.9" x2="332.66" y2="310.9" stroke="#3a3a3a" stroke-width="0.8"/><line x1="332.66" y1="413" x2="332.66" y2="416" stroke="#3a3a3a" stroke-width="0.8"/><line x1="34.5" y1="413" x2="38" y2="413" stroke="#3a3a3a" stroke-width="0.8"/><line x1="332.5" y1="413" x2="336" y2="413" stroke="#3a3a3a" stroke-width="0.8"/><text x="32.8" y="415.9" font-size="8.4" text-anchor="end" textLength="16.1" lengthAdjust="spacingAndGlyphs">0.00</text><line x1="34.5" y1="379.9" x2="38" y2="379.9" stroke="#3a3a3a" stroke-width="0.8"/><line x1="332.5" y1="379.9" x2="336" y2="379.9" stroke="#3a3a3a" stroke-width="0.8"/><text x="32.8" y="382.8" font-size="8.4" text-anchor="end" textLength="16.1" lengthAdjust="spacingAndGlyphs">0.05</text><line x1="34.5" y1="346.8" x2="38" y2="346.8" stroke="#3a3a3a" stroke-width="0.8"/><line x1="332.5" y1="346.8" x2="336" y2="346.8" stroke="#3a3a3a" stroke-width="0.8"/><text x="32.8" y="349.7" font-size="8.4" text-anchor="end" textLength="16.1" lengthAdjust="spacingAndGlyphs">0.10</text><line x1="34.5" y1="313.7" x2="38" y2="313.7" stroke="#3a3a3a" stroke-width="0.8"/><line x1="332.5" y1="313.7" x2="336" y2="313.7" stroke="#3a3a3a" stroke-width="0.8"/><text x="32.8" y="316.6" font-size="8.4" text-anchor="end" textLength="16.1" lengthAdjust="spacingAndGlyphs">0.15</text><text x="11.2" y="363.45" font-size="10.6" text-anchor="middle" transform="rotate(-90 11.2 363.45)" textLength="79.4" lengthAdjust="spacingAndGlyphs">Geometric Albedo</text><text x="49.4" y="341.5" font-size="23" text-anchor="start">B</text><rect x="38" y="420.5" width="309.6" height="28.3" fill="#fff"/><rect x="142.24" y="420.5" width="28.38" height="28.3" fill="#cccccc"/><rect x="214.74" y="420.5" width="53.53" height="28.3" fill="#cccccc"/><rect x="308.98" y="420.5" width="23.52" height="28.3" fill="#cccccc"/><path d="M39.22 443.41h0M39.7 436.58h0M39.75 439.66h0M40.59 439.13h0M41.2 436.39h0M41.41 434.36h0M42.23 432.53h0M42.33 434.55h0M42.83 436.45h0M43.32 442.12h0M43.92 439.5h0M44.56 437.98h0M45.15 440.02h0M45.3 436.7h0M45.78 439.01h0M46.33 433.3h0M47.2 438.82h0M47.75 441.86h0M48.13 439.73h0M48.3 440.31h0M48.82 436.3h0M49.45 434.35h0M50.07 435.4h0M50.59 435.38h0M51.09 440.17h0M51.35 441.33h0M52.17 440.47h0M52.65 438.11h0M52.93 439.17h0M53.42 437.39h0M53.8 435.3h0M54.39 437.93h0M54.86 433.37h0M55.48 440.3h0M56.05 436.34h0M56.71 438.27h0M56.95 435.27h0M57.39 438.18h0M58.18 439.56h0M58.31 438.42h0M58.87 440.53h0M59.59 441.13h0M60.08 435.81h0M60.52 439.74h0M60.91 434.64h0M61.33 430.99h0M61.78 439.08h0M62.58 435.58h0M63.06 438.24h0M63.53 443.32h0M64.04 438.27h0M64.7 433.85h0M65.24 441.4h0M65.44 438.46h0M65.87 438.49h0M66.34 442.05h0M66.85 437.1h0M67.73 438.39h0M67.99 436.35h0M68.35 437.82h0M68.86 441.93h0M69.58 437.58h0M69.99 436.19h0M70.62 438.65h0M71.24 436.36h0M71.42 436.41h0M72.21 443.97h0M72.37 436.18h0M72.87 443.62h0M73.74 441.55h0M74.11 438.32h0M74.62 440.69h0M75.21 440.21h0M75.49 434.84h0M75.99 440.96h0M76.36 434.63h0M77.01 432.82h0M77.55 434h0M78.06 441.03h0M78.42 442.24h0M78.83 437.76h0M79.41 431.98h0M79.79 438.52h0M80.27 439.5h0M80.81 438.26h0M81.26 435.79h0M82.18 434.54h0M82.28 437.9h0M82.88 438.25h0M83.7 436.44h0M83.86 437.77h0M84.54 439h0M85.17 442.8h0M85.45 437.5h0M86.11 439.52h0M86.59 438.48h0M86.84 438.64h0M87.69 440.28h0M88.08 436.23h0M88.33 434.77h0M89.18 436.19h0M89.65 439.31h0M90.2 437.03h0M90.56 435.59h0M91.12 437.61h0M91.32 435.52h0M92.19 440.75h0M92.31 437.72h0M93.01 433.55h0M93.43 434.6h0M94.06 437.23h0M94.74 436.54h0M95.23 431.8h0M95.38 434.23h0M96.13 438.18h0M96.64 435.86h0M96.76 437.52h0M97.68 437.64h0M98.01 438.88h0M98.51 434.79h0M98.87 431.68h0M99.51 434.4h0M99.97 438.61h0M100.26 435h0M100.83 438.89h0M101.7 435.57h0M101.88 433.94h0M102.7 433.09h0M103 435.74h0M103.6 435.34h0M103.77 435.94h0M104.29 436.29h0M104.78 432.89h0M105.57 437.8h0M105.92 439.05h0M106.3 432.49h0M107.15 431.47h0M107.42 439.03h0M108.03 434.06h0M108.57 434.31h0M109.03 436.71h0M109.48 437.75h0M109.76 435.56h0M110.36 436.52h0M111.11 434.25h0M111.59 437.08h0M112.23 433.52h0M112.26 437.07h0M112.86 432.63h0M113.32 434.08h0M114.16 433.57h0M114.59 436.56h0M115.17 436.24h0M115.38 435.97h0M116.19 433.45h0M116.28 437.07h0M116.8 437.3h0M117.39 436.2h0M118.1 435.05h0M118.57 435.9h0M118.81 435.86h0M119.31 438.3h0M120.14 436.93h0M120.48 437.81h0M120.8 433.66h0M121.25 435.78h0M121.82 434.37h0M122.32 438.26h0M123.18 435.75h0M123.35 434.94h0M124.21 437.73h0M124.5 436.92h0M125.08 436.66h0M125.3 435.36h0M125.86 435.09h0M126.37 438.42h0M126.81 434.98h0M127.49 435.21h0M127.84 435.04h0M128.35 437.31h0M128.91 435.74h0M129.59 433.08h0M130.22 433.33h0M130.35 436.78h0M131.23 432.43h0M131.52 436.39h0M131.78 437.32h0M132.37 433.35h0M133.17 434.9h0M133.3 431.05h0M133.91 435.98h0M134.41 435.26h0M134.83 434.07h0M135.6 434.98h0M136.02 436.28h0M136.35 435.48h0M137.21 435.52h0M137.6 435.51h0M138.19 435.52h0M138.73 438.47h0M138.94 433.71h0M139.45 436.66h0M140.05 435.92h0M140.27 436.99h0M141.17 435.83h0M141.69 433.51h0M142.14 432.93h0M142.51 434.78h0M143.18 435.08h0M143.61 436.42h0M144.19 435.94h0M144.58 434.93h0M144.96 435.69h0M145.48 437.31h0M146.12 435.25h0M146.32 437.42h0M147.2 431.3h0M147.72 434.75h0M148.2 436.45h0M148.52 434.43h0M148.75 436.8h0M149.7 435.82h0M149.86 432.29h0M150.25 432.8h0M150.99 437.63h0M151.71 437.5h0M152.06 436.31h0M152.38 430.88h0M152.81 435.17h0M153.53 434.78h0M153.92 436.28h0M154.33 432.67h0M154.89 433.38h0M155.67 438.65h0M156.05 436.92h0M156.47 438.84h0M156.83 437.53h0M157.46 436.84h0M157.79 437.86h0M158.62 436.48h0M159.11 433.87h0M159.4 433.01h0M159.98 434.99h0M160.51 433.78h0M160.92 437.86h0M161.72 432.31h0M161.92 430.7h0M162.68 435.47h0M163.23 434.06h0M163.47 434.48h0M163.79 439.43h0M164.6 433.17h0M164.99 434.22h0M165.51 438.33h0M166.23 435.97h0M166.3 432.87h0M167.2 434.01h0M167.47 437.83h0M167.84 436.25h0M168.36 436.48h0M168.88 434.82h0M169.5 436.5h0M170.22 435.01h0M170.59 435.44h0M171.01 438h0M171.68 434.29h0M171.99 434.58h0M172.34 436.43h0M172.92 433.62h0M173.73 430.57h0M174.14 438.18h0M174.51 434.63h0M175.22 433.41h0M175.34 434.99h0M176.2 436.18h0M176.71 430.72h0M176.91 436.02h0M177.46 435.29h0M177.87 436.31h0M178.27 432.63h0M178.87 439.22h0M179.7 436.76h0M179.8 435.9h0M180.41 434.38h0M180.96 434.31h0M181.31 433.04h0M181.85 435.22h0M182.39 436.42h0M183.04 435.09h0M183.66 436.67h0M183.85 436.01h0M184.46 435.89h0M184.99 434.34h0M185.43 433.3h0M186.1 437.09h0M186.7 436.09h0M186.87 434.97h0M187.42 434.89h0M187.77 435.41h0M188.27 433.78h0M189.06 435.36h0M189.36 438.37h0M189.89 432.38h0M190.75 437.43h0M190.97 431.78h0M191.53 434.48h0M191.92 434.37h0M192.68 437.9h0M192.85 434.5h0M193.39 435.45h0M194.01 436.71h0M194.73 434h0M194.94 433.62h0M195.66 432.78h0M195.97 437.5h0M196.59 436.66h0M196.83 432.41h0M197.69 434.12h0M198.09 433.57h0M198.48 436.19h0M199.19 434.49h0M199.36 433.59h0M199.91 437.58h0M200.65 436.53h0M201.22 434.73h0M201.74 432.55h0M202.01 436.06h0M202.64 433.95h0M203.04 436.88h0M203.39 437.57h0M204.24 434.06h0M204.43 437.27h0M205.17 435.22h0M205.32 436.39h0M205.86 434.32h0M206.27 437.77h0M206.9 438.06h0M207.26 438.1h0M207.99 435.76h0M208.56 432.91h0M209.22 433.82h0M209.65 435.05h0M210.2 435.69h0M210.57 433.05h0M211.17 435.55h0M211.44 433.32h0M212.11 432.67h0M212.43 433.96h0M213.08 434.46h0M213.46 434.45h0M214.03 435.32h0M214.54 434.59h0M215.06 436.8h0M215.3 436.71h0M215.79 432.02h0M216.65 435.23h0M216.75 438.25h0M217.48 432.32h0M217.84 432.29h0M218.33 434.01h0M218.96 437.22h0M219.3 431.07h0M219.79 432.68h0M220.58 432.34h0M221.2 435.15h0M221.66 433.84h0M222.19 435.14h0M222.45 435.05h0M223.15 436.79h0M223.28 436.04h0M223.87 435.48h0M224.47 434.38h0M225.03 432.51h0M225.54 433.31h0M226.23 437.81h0M226.67 432.3h0M226.8 437.2h0M227.73 433.3h0M227.96 434.6h0M228.66 434.04h0M228.79 435.09h0M229.71 436.14h0M229.96 430.95h0M230.59 438.76h0M231.08 435.72h0M231.42 431.44h0M231.9 433.98h0M232.32 433.9h0M232.82 435.55h0M233.64 436.03h0M234.05 432.67h0M234.59 434.11h0M235.21 433.08h0M235.26 432.25h0M235.82 437.02h0M236.64 435.65h0M237.18 434.9h0M237.48 433.15h0M238.18 432.16h0M238.7 435.39h0M239.21 433.69h0M239.64 433.38h0M240.21 433.25h0M240.62 429.89h0M240.85 434.34h0M241.35 432.45h0M242.01 437.25h0M242.57 432.72h0M242.79 432.2h0M243.74 430.78h0M243.86 433.24h0M244.66 433.16h0M244.81 434.48h0M245.25 432.91h0M245.92 426.7h0M246.75 435.17h0M246.84 435.13h0M247.26 431.19h0M248 433.27h0M248.73 428.34h0M249.1 434.28h0M249.45 427.24h0M249.82 431.78h0M250.58 434.45h0M251 435.71h0M251.75 432.79h0M252.05 432.23h0M252.35 429.99h0M253.15 433.68h0M253.72 424.02h0M254.18 428.95h0M254.51 431.24h0M255.22 432.07h0M255.49 424.82h0M255.89 432.54h0M256.37 429.15h0M256.81 427.54h0M257.74 432.93h0M258.15 429.56h0M258.74 431.98h0M259.07 427.77h0M259.43 427.62h0M260 429.66h0M260.42 430.52h0M260.8 433.61h0M261.42 425.42h0M261.79 427.51h0M262.63 429.29h0M262.81 427.55h0M263.44 430.87h0M264 433.42h0M264.6 428.82h0M264.9 433.09h0M265.66 432.13h0M265.86 429.26h0M266.74 434.48h0M267.24 430.9h0M267.31 431.63h0M268.04 433.58h0M268.39 433.7h0M268.87 431.48h0M269.44 431.67h0M270.1 430.66h0M270.72 434.38h0M271.23 430.85h0M271.49 433.87h0M271.93 432.86h0M272.62 428.89h0M273.21 432.59h0M273.6 432.18h0M274.21 432.91h0M274.26 431.11h0M274.85 429.22h0M275.28 431.89h0M276.19 429.63h0M276.4 434.04h0M277.07 430.1h0M277.49 431.38h0M278.02 430.98h0M278.44 433.23h0M278.83 432.54h0M279.51 430.48h0M279.82 433.82h0M280.41 429.46h0M280.77 432.18h0M281.43 430.19h0M281.93 433.74h0M282.74 434.86h0M283.21 429.8h0M283.57 429.7h0M284.03 431.34h0M284.68 429.79h0M285.24 431.31h0M285.67 429.87h0M286.17 431.05h0M286.51 433.49h0M287.11 429.11h0M287.43 433.51h0M287.94 426.85h0M288.54 431.89h0M289.07 433.5h0M289.35 432.09h0M289.9 431.59h0M290.45 431.5h0M291.06 430.75h0M291.27 432.96h0M291.96 435.7h0M292.7 433.51h0M292.95 431.2h0M293.62 430.08h0M293.94 435.53h0M294.67 431.96h0M294.9 430.27h0M295.56 434.54h0M295.88 429.46h0M296.34 433.53h0M297.06 432.54h0M297.57 433.17h0M298.17 429.78h0M298.34 431.13h0M298.84 432.32h0M299.64 433.1h0M299.76 435h0M300.41 433.05h0M300.91 433.5h0M301.33 432.83h0M301.81 435.34h0M302.58 430.91h0M302.93 431.42h0M303.75 430.48h0M304.04 433.52h0M304.39 432.76h0M304.93 434.41h0M305.5 431.5h0M306.17 433.04h0M306.56 430.44h0M306.8 431.74h0M307.62 431.7h0M307.86 432.01h0M308.32 434.79h0M309.11 431.79h0M309.46 434.98h0M309.97 432.39h0M310.7 432.01h0M310.77 434.38h0M311.42 433.68h0M311.86 433.07h0M312.28 432.47h0M313.12 432.46h0M313.59 432.81h0M313.93 434.04h0M314.37 432.5h0M314.99 429.55h0M315.33 433.67h0M316.14 430.78h0M316.27 434.51h0M317.07 433.78h0M317.51 431.17h0M317.88 431.81h0M318.31 430.81h0M318.97 432.17h0M319.58 433.78h0M319.96 432.88h0M320.62 433.58h0M320.78 431.62h0M321.47 432.2h0M322.1 431.39h0M322.31 433.93h0M322.9 433.37h0M323.56 433.61h0M324.06 433.54h0M324.58 433.27h0M324.91 431.41h0M325.51 432.9h0M325.86 431.56h0M326.36 432.83h0M326.83 435.41h0M327.74 434.91h0M327.76 433.35h0M328.66 431.65h0M328.9 433.13h0M329.42 435.04h0M330.14 433.01h0M330.43 433.49h0M330.94 432.43h0M331.47 432.13h0" stroke="#000" stroke-width="2.1" stroke-linecap="round" fill="none"/><polygon points="332.5,422 333.69,422 333.69,422.7 336.6,422.7 336.6,423.4 335.81,423.4 335.81,424.1 336.03,424.1 336.03,424.8 336.63,424.8 336.63,425.5 336.12,425.5 336.12,426.2 335.77,426.2 335.77,426.9 337.34,426.9 337.34,427.6 335.15,427.6 335.15,428.3 336.6,428.3 336.6,429 336.52,429 336.52,429.7 338.3,429.7 338.3,430.4 339.7,430.4 339.7,431.1 340.17,431.1 340.17,431.8 339.8,431.8 339.8,432.5 341.03,432.5 341.03,433.2 340.7,433.2 340.7,433.9 340.94,433.9 340.94,434.6 341.22,434.6 341.22,435.3 341.84,435.3 341.84,436 339.81,436 339.81,436.7 339.16,436.7 339.16,437.4 338.26,437.4 338.26,438.1 335.65,438.1 335.65,438.8 336.03,438.8 336.03,439.5 334.32,439.5 334.32,440.2 333.26,440.2 333.26,440.9 333.12,440.9 333.12,441.6 333.1,441.6 333.1,442.3 334.14,442.3 334.14,443 334.18,443 334.18,443.7 333.51,443.7 333.51,444.4 333.1,444.4 333.1,445.1 333.84,445.1 333.84,445.8 332.5,445.8" fill="#1f8ef8"/><rect x="341.5" y="433.6" width="5" height="2.4" fill="#1f8ef8" fill-opacity="0.5"/><rect x="38" y="432" width="309.6" height="5.9" fill="#1f77b4" fill-opacity="0.4"/><rect x="38" y="420.5" width="309.6" height="28.3" fill="none" stroke="#3a3a3a" stroke-width="1"/><line x1="332.5" y1="420.5" x2="332.5" y2="448.8" stroke="#3a3a3a" stroke-width="1"/><line x1="332.5" y1="446.1" x2="334.1" y2="446.1" stroke="#3a3a3a" stroke-width="0.6"/><line x1="332.5" y1="443.3" x2="334.1" y2="443.3" stroke="#3a3a3a" stroke-width="0.6"/><line x1="332.5" y1="440.5" x2="334.1" y2="440.5" stroke="#3a3a3a" stroke-width="0.6"/><line x1="332.5" y1="437.7" x2="334.1" y2="437.7" stroke="#3a3a3a" stroke-width="0.6"/><line x1="332.5" y1="434.9" x2="334.1" y2="434.9" stroke="#3a3a3a" stroke-width="0.6"/><line x1="332.5" y1="432.1" x2="334.1" y2="432.1" stroke="#3a3a3a" stroke-width="0.6"/><line x1="332.5" y1="429.3" x2="334.1" y2="429.3" stroke="#3a3a3a" stroke-width="0.6"/><line x1="332.5" y1="426.5" x2="334.1" y2="426.5" stroke="#3a3a3a" stroke-width="0.6"/><line x1="332.5" y1="423.7" x2="334.1" y2="423.7" stroke="#3a3a3a" stroke-width="0.6"/><line x1="332.5" y1="420.9" x2="334.1" y2="420.9" stroke="#3a3a3a" stroke-width="0.6"/><line x1="40.7" y1="420.5" x2="40.7" y2="418" stroke="#3a3a3a" stroke-width="0.8"/><line x1="40.7" y1="448.8" x2="40.7" y2="451.8" stroke="#3a3a3a" stroke-width="0.8"/><text x="40.8" y="459.7" font-size="8.4" text-anchor="middle" textLength="11.5" lengthAdjust="spacingAndGlyphs">0.7</text><line x1="65.03" y1="420.5" x2="65.03" y2="418" stroke="#3a3a3a" stroke-width="0.8"/><line x1="65.03" y1="448.8" x2="65.03" y2="451.8" stroke="#3a3a3a" stroke-width="0.8"/><line x1="89.36" y1="420.5" x2="89.36" y2="418" stroke="#3a3a3a" stroke-width="0.8"/><line x1="89.36" y1="448.8" x2="89.36" y2="451.8" stroke="#3a3a3a" stroke-width="0.8"/><text x="89.46" y="459.7" font-size="8.4" text-anchor="middle" textLength="11.5" lengthAdjust="spacingAndGlyphs">1.0</text><line x1="113.69" y1="420.5" x2="113.69" y2="418" stroke="#3a3a3a" stroke-width="0.8"/><line x1="113.69" y1="448.8" x2="113.69" y2="451.8" stroke="#3a3a3a" stroke-width="0.8"/><line x1="138.02" y1="420.5" x2="138.02" y2="418" stroke="#3a3a3a" stroke-width="0.8"/><line x1="138.02" y1="448.8" x2="138.02" y2="451.8" stroke="#3a3a3a" stroke-width="0.8"/><text x="138.12" y="459.7" font-size="8.4" text-anchor="middle" textLength="11.5" lengthAdjust="spacingAndGlyphs">1.3</text><line x1="162.35" y1="420.5" x2="162.35" y2="418" stroke="#3a3a3a" stroke-width="0.8"/><line x1="162.35" y1="448.8" x2="162.35" y2="451.8" stroke="#3a3a3a" stroke-width="0.8"/><line x1="186.68" y1="420.5" x2="186.68" y2="418" stroke="#3a3a3a" stroke-width="0.8"/><line x1="186.68" y1="448.8" x2="186.68" y2="451.8" stroke="#3a3a3a" stroke-width="0.8"/><text x="186.78" y="459.7" font-size="8.4" text-anchor="middle" textLength="11.5" lengthAdjust="spacingAndGlyphs">1.6</text><line x1="211.01" y1="420.5" x2="211.01" y2="418" stroke="#3a3a3a" stroke-width="0.8"/><line x1="211.01" y1="448.8" x2="211.01" y2="451.8" stroke="#3a3a3a" stroke-width="0.8"/><line x1="235.34" y1="420.5" x2="235.34" y2="418" stroke="#3a3a3a" stroke-width="0.8"/><line x1="235.34" y1="448.8" x2="235.34" y2="451.8" stroke="#3a3a3a" stroke-width="0.8"/><text x="235.44" y="459.7" font-size="8.4" text-anchor="middle" textLength="11.5" lengthAdjust="spacingAndGlyphs">1.9</text><line x1="259.67" y1="420.5" x2="259.67" y2="418" stroke="#3a3a3a" stroke-width="0.8"/><line x1="259.67" y1="448.8" x2="259.67" y2="451.8" stroke="#3a3a3a" stroke-width="0.8"/><line x1="284" y1="420.5" x2="284" y2="418" stroke="#3a3a3a" stroke-width="0.8"/><line x1="284" y1="448.8" x2="284" y2="451.8" stroke="#3a3a3a" stroke-width="0.8"/><text x="284.1" y="459.7" font-size="8.4" text-anchor="middle" textLength="11.5" lengthAdjust="spacingAndGlyphs">2.2</text><line x1="308.33" y1="420.5" x2="308.33" y2="418" stroke="#3a3a3a" stroke-width="0.8"/><line x1="308.33" y1="448.8" x2="308.33" y2="451.8" stroke="#3a3a3a" stroke-width="0.8"/><line x1="332.66" y1="420.5" x2="332.66" y2="418" stroke="#3a3a3a" stroke-width="0.8"/><line x1="332.66" y1="448.8" x2="332.66" y2="451.8" stroke="#3a3a3a" stroke-width="0.8"/><text x="332.76" y="459.7" font-size="8.4" text-anchor="middle" textLength="11.5" lengthAdjust="spacingAndGlyphs">2.5</text><line x1="36" y1="446.1" x2="38" y2="446.1" stroke="#3a3a3a" stroke-width="0.6"/><line x1="34.5" y1="443.3" x2="38" y2="443.3" stroke="#3a3a3a" stroke-width="0.8"/><text x="32.8" y="446.2" font-size="8.4" text-anchor="end" textLength="9.8" lengthAdjust="spacingAndGlyphs">−3</text><line x1="36" y1="440.5" x2="38" y2="440.5" stroke="#3a3a3a" stroke-width="0.6"/><line x1="36" y1="437.7" x2="38" y2="437.7" stroke="#3a3a3a" stroke-width="0.6"/><line x1="34.5" y1="434.9" x2="38" y2="434.9" stroke="#3a3a3a" stroke-width="0.8"/><text x="32.8" y="437.8" font-size="8.4" text-anchor="end" textLength="4.6" lengthAdjust="spacingAndGlyphs">0</text><line x1="36" y1="432.1" x2="38" y2="432.1" stroke="#3a3a3a" stroke-width="0.6"/><line x1="36" y1="429.3" x2="38" y2="429.3" stroke="#3a3a3a" stroke-width="0.6"/><line x1="34.5" y1="426.5" x2="38" y2="426.5" stroke="#3a3a3a" stroke-width="0.8"/><text x="32.8" y="429.4" font-size="8.4" text-anchor="end" textLength="4.6" lengthAdjust="spacingAndGlyphs">3</text><line x1="36" y1="423.7" x2="38" y2="423.7" stroke="#3a3a3a" stroke-width="0.6"/><line x1="36" y1="420.9" x2="38" y2="420.9" stroke="#3a3a3a" stroke-width="0.6"/><text x="5.6" y="435.2" font-size="5.4" text-anchor="middle" transform="rotate(-90 5.6 435.2)" textLength="28" lengthAdjust="spacingAndGlyphs">Residuals</text><text x="10.6" y="434.9" font-size="5.4" text-anchor="middle" transform="rotate(-90 10.6 434.9)" textLength="31.7" lengthAdjust="spacingAndGlyphs">(Std. Dev.)</text><text x="184.8" y="476" font-size="16.6" text-anchor="middle" textLength="126.4" lengthAdjust="spacingAndGlyphs">Wavelength (μm)</text></g><g clip-path="url(#c0)"><polygon points="36,241.5 37.7,240.1 43.3,235.6 48.8,230.5 54.3,225 59.8,220 63.6,216.1 67.9,212.5 72.1,209.7 76.4,206.3 81,201.9 86.5,199.1 91,196.6 94.2,195.4 95.6,195.3 98.3,195.9 99.7,197.8 100.5,200 100.5,205 99.7,206.5 98.3,207.3 95.6,208.7 91,211.9 86.5,215.1 81,221.5 76.4,224.9 72.1,227.7 67.9,231 63.6,234.6 58.9,239.7 52.9,245.2 51.9,246.5" fill="#ececec" stroke="#ececec" stroke-width="4" filter="url(#b1_5)"/><polygon points="36,241.5 37.7,240.1 43.3,235.6 48.8,230.5 54.3,225 59.8,220 63.6,216.1 67.9,212.5 72.1,209.7 76.4,206.3 81,201.9 86.5,199.1 91,196.6 94.2,195.4 95.6,195.3 98.3,195.9 99.7,197.8 100.5,200 100.5,205 99.7,206.5 98.3,207.3 95.6,208.7 91,211.9 86.5,215.1 81,221.5 76.4,224.9 72.1,227.7 67.9,231 63.6,234.6 58.9,239.7 52.9,245.2 51.9,246.5" fill="#cfcfcf"/><polygon points="38.5,246.5 39.7,245.2 45.1,240.6 50.6,235.6 55,230.7 59.8,226.2 63.6,222.1 67.9,218.8 72.1,216.1 76.4,213 81,209.7 86.5,206.5 91,204.6 93.3,204.2 94.4,205.1 94.4,205.1 91,207.2 86.5,211 81,216 76.4,220.5 72.1,224 67.9,227.3 63.6,230.5 59.3,234.1 54.3,239.5 50.6,245.2 49.5,246.5" fill="#a0a0a0" stroke="#a0a0a0" stroke-width="5" filter="url(#b1_3)"/><polygon points="38.5,246.5 39.7,245.2 45.1,240.6 50.6,235.6 55,230.7 59.8,226.2 63.6,222.1 67.9,218.8 72.1,216.1 76.4,213 81,209.7 86.5,206.5 91,204.6 93.3,204.2 94.4,205.1 94.4,205.1 91,207.2 86.5,211 81,216 76.4,220.5 72.1,224 67.9,227.3 63.6,230.5 59.3,234.1 54.3,239.5 50.6,245.2 49.5,246.5" fill="#444" filter="url(#b0_5)"/><polygon points="49.5,239.32 51.05,237.69 52.6,235.78 54.14,233.88 55.69,232.24 57.24,230.72 58.79,229.21 60.34,227.71 61.89,226.15 63.43,224.58 64.98,223.36 66.53,222.18 68.08,221.02 69.63,219.96 71.18,218.9 72.72,217.81 74.27,216.65 75.82,215.49 77.37,214.3 78.92,213.08 80.47,211.85 82.01,210.75 83.56,209.71 85.11,208.67 86.66,207.65 88.21,206.82 89.76,205.99 91.3,205.23 92.85,204.77 94.4,205.1 94.4,205.1 92.85,205.57 91.3,206.33 89.76,207.39 88.21,208.52 86.66,209.65 85.11,210.9 83.56,212.17 82.01,213.44 80.47,214.75 78.92,216.16 77.37,217.56 75.82,218.89 74.27,220.11 72.72,221.34 71.18,222.52 69.63,223.67 68.08,224.83 66.53,225.99 64.98,227.15 63.43,228.34 61.89,229.74 60.34,231.14 58.79,232.59 57.24,234.2 55.69,235.81 54.14,237.52 52.6,239.72 51.05,241.92 49.5,243.78" fill="#1c1c1c" filter="url(#b0_7)"/><polyline points="36,241.5 37.7,240.1 43.3,235.6 48.8,230.5 54.3,225 59.8,220 63.6,216.1 67.9,212.5 72.1,209.7 76.4,206.3 81,201.9 86.5,199.1 91,196.6 94.2,195.4 95.6,195.3 98.3,195.9 99.7,197.8 100.5,200" fill="none" stroke="#111" stroke-width="0.8"/><polyline points="51.9,246.5 52.9,245.2 58.9,239.7 63.6,234.6 67.9,231 72.1,227.7 76.4,224.9 81,221.5 86.5,215.1 91,211.9 95.6,208.7 98.3,207.3 99.7,206.5 100.5,205" fill="none" stroke="#111" stroke-width="0.8"/><polyline points="38.5,246.5 39.7,245.2 45.1,240.6 50.6,235.6 55,230.7 59.8,226.2 63.6,222.1 67.9,218.8 72.1,216.1 76.4,213 81,209.7 86.5,206.5 91,204.6 93.3,204.2 94.4,205.1" fill="none" stroke="#111" stroke-width="0.8"/><polyline points="49.5,246.5 50.6,245.2 54.3,239.5 59.3,234.1 63.6,230.5 67.9,227.3 72.1,224 76.4,220.5 81,216 86.5,211 91,207.2 94.4,205.1" fill="none" stroke="#111" stroke-width="0.8"/></g><rect x="37.8" y="181.6" width="64" height="63.5" fill="none" stroke="#3a3a3a" stroke-width="1"/><line x1="34.8" y1="245.1" x2="37.8" y2="245.1" stroke="#3a3a3a" stroke-width="0.8"/><text x="33.2" y="248" font-size="8.4" text-anchor="end" textLength="4.6" lengthAdjust="spacingAndGlyphs">0</text><line x1="34.8" y1="224" x2="37.8" y2="224" stroke="#3a3a3a" stroke-width="0.8"/><text x="33.2" y="226.9" font-size="8.4" text-anchor="end" textLength="13.8" lengthAdjust="spacingAndGlyphs">200</text><line x1="34.8" y1="203" x2="37.8" y2="203" stroke="#3a3a3a" stroke-width="0.8"/><text x="33.2" y="205.9" font-size="8.4" text-anchor="end" textLength="13.8" lengthAdjust="spacingAndGlyphs">400</text><line x1="34.8" y1="182" x2="37.8" y2="182" stroke="#3a3a3a" stroke-width="0.8"/><text x="33.2" y="184.9" font-size="8.4" text-anchor="end" textLength="13.8" lengthAdjust="spacingAndGlyphs">600</text><line x1="37.6" y1="245.1" x2="37.6" y2="248.1" stroke="#3a3a3a" stroke-width="0.8"/><text x="37.7" y="257.27" font-size="8.4" text-anchor="middle" transform="rotate(-50 37.7 254.37)" textLength="4.6" lengthAdjust="spacingAndGlyphs">0</text><line x1="53.8" y1="245.1" x2="53.8" y2="248.1" stroke="#3a3a3a" stroke-width="0.8"/><text x="53.9" y="259.64" font-size="8.4" text-anchor="middle" transform="rotate(-50 53.9 256.74)" textLength="9.2" lengthAdjust="spacingAndGlyphs">25</text><line x1="70" y1="245.1" x2="70" y2="248.1" stroke="#3a3a3a" stroke-width="0.8"/><text x="70.1" y="259.64" font-size="8.4" text-anchor="middle" transform="rotate(-50 70.1 256.74)" textLength="9.2" lengthAdjust="spacingAndGlyphs">50</text><line x1="86.2" y1="245.1" x2="86.2" y2="248.1" stroke="#3a3a3a" stroke-width="0.8"/><text x="86.3" y="259.64" font-size="8.4" text-anchor="middle" transform="rotate(-50 86.3 256.74)" textLength="9.2" lengthAdjust="spacingAndGlyphs">75</text><text x="69.8" y="279.3" font-size="10.6" text-anchor="middle" textLength="54.1" lengthAdjust="spacingAndGlyphs">Tagish Lake</text><text x="69.8" y="289.1" font-size="10.6" text-anchor="middle" textLength="18.8" lengthAdjust="spacingAndGlyphs">wt%</text><g clip-path="url(#c1)"><polygon points="110,198.4 114.6,198.4 118.9,197.6 124.9,197.3 129.1,198 131.7,199.7 133,203.1 133.4,209.1 134.7,212.6 135.1,216.8 136,221.1 136.8,224.6 136,226.3 137.7,229.7 139.2,234.4 142.1,238.3 143.1,242.2 145,244.1 146.6,241.8 147.9,244.1 149,247 110,247" fill="#ededed" stroke="#ededed" stroke-width="9" filter="url(#b3)"/><polygon points="110,198.4 114.6,198.4 118.9,197.6 124.9,197.3 129.1,198 131.7,199.7 133,203.1 133.4,209.1 134.7,212.6 135.1,216.8 136,221.1 136.8,224.6 136,226.3 137.7,229.7 139.2,234.4 142.1,238.3 143.1,242.2 145,244.1 146.6,241.8 147.9,244.1 149,247 110,247" fill="url(#gA2)"/><polygon points="110,204 114.6,204 119.7,204.9 121,206.6 121.3,211.7 121,217.7 120.1,221.1 119.3,224.1 120.6,225.8 118.9,227.1 115.4,228 110,228" fill="#555" stroke="#808080" stroke-width="3" filter="url(#b1_3)"/><ellipse cx="115.5" cy="211" rx="3.5" ry="8" fill="#222" filter="url(#b1_8)"/><polyline points="114.6,198.4 118.9,197.6 124.9,197.3 129.1,198 131.7,199.7 133,203.1 133.4,209.1 134.7,212.6 135.1,216.8 136,221.1 136.8,224.6 136,226.3 137.7,229.7 139.2,234.4 142.1,238.3 143.1,242.2 145,244.1 146.6,241.8 147.9,244.1 149,247" fill="none" stroke="#111" stroke-width="0.8"/><polyline points="114.6,204 119.7,204.9 121,206.6 121.3,211.7 121,217.7 120.1,221.1 119.3,224.1 120.6,225.8 118.9,227.1 115.4,228" fill="none" stroke="#111" stroke-width="0.8"/></g><rect x="114.3" y="181.6" width="64.2" height="63.5" fill="none" stroke="#3a3a3a" stroke-width="1"/><line x1="111.3" y1="245.1" x2="114.3" y2="245.1" stroke="#3a3a3a" stroke-width="0.8"/><line x1="111.3" y1="224" x2="114.3" y2="224" stroke="#3a3a3a" stroke-width="0.8"/><line x1="111.3" y1="203" x2="114.3" y2="203" stroke="#3a3a3a" stroke-width="0.8"/><line x1="111.3" y1="182" x2="114.3" y2="182" stroke="#3a3a3a" stroke-width="0.8"/><line x1="114.3" y1="245.1" x2="114.3" y2="248.1" stroke="#3a3a3a" stroke-width="0.8"/><text x="114.4" y="257.27" font-size="8.4" text-anchor="middle" transform="rotate(-50 114.4 254.37)" textLength="4.6" lengthAdjust="spacingAndGlyphs">0</text><line x1="141.8" y1="245.1" x2="141.8" y2="248.1" stroke="#3a3a3a" stroke-width="0.8"/><text x="141.9" y="259.64" font-size="8.4" text-anchor="middle" transform="rotate(-50 141.9 256.74)" textLength="9.2" lengthAdjust="spacingAndGlyphs">10</text><line x1="169.3" y1="245.1" x2="169.3" y2="248.1" stroke="#3a3a3a" stroke-width="0.8"/><text x="169.4" y="259.64" font-size="8.4" text-anchor="middle" transform="rotate(-50 169.4 256.74)" textLength="9.2" lengthAdjust="spacingAndGlyphs">20</text><text x="146.4" y="278.8" font-size="10.6" text-anchor="middle" textLength="27.4" lengthAdjust="spacingAndGlyphs">Triton</text><text x="146.4" y="288.6" font-size="10.6" text-anchor="middle" textLength="32.9" lengthAdjust="spacingAndGlyphs">Tholins</text><text x="146.4" y="298.4" font-size="10.6" text-anchor="middle" textLength="19.6" lengthAdjust="spacingAndGlyphs">wt%</text><g clip-path="url(#c2)"><polygon points="189,195.5 191.4,195.9 196.9,198 203.7,200.9 210.6,204.9 217.4,209.4 224.3,214.6 230.3,220 235.4,224.9 240.6,230.1 245.7,235.7 250.9,241.4 254,245 255,246.5 246,246.5 244.7,245 240.6,241.4 235.4,237.3 230.3,233.1 224.3,227.5 217.4,222 210.6,216.9 203.7,212.3 196.9,208.3 191.4,206 189,205.5" fill="#eeeeee" stroke="#eeeeee" stroke-width="5" filter="url(#b2)"/><polygon points="189,195.5 191.4,195.9 196.9,198 203.7,200.9 210.6,204.9 217.4,209.4 224.3,214.6 230.3,220 235.4,224.9 240.6,230.1 245.7,235.7 250.9,241.4 254,245 255,246.5 246,246.5 244.7,245 240.6,241.4 235.4,237.3 230.3,233.1 224.3,227.5 217.4,222 210.6,216.9 203.7,212.3 196.9,208.3 191.4,206 189,205.5" fill="#c4c4c4"/><polyline points="191.4,200.95 196.9,203.15 203.7,206.6 210.6,210.9 217.4,215.7 224.3,221.05 230.3,226.55 235.4,231.1" fill="none" stroke="#a2a2a2" stroke-width="5" filter="url(#b1_2)"/><polygon points="229.5,227.5 232.3,228.4 237.5,232.1 242.6,236.2 247.8,240.3 252.9,245.4 250.5,245.6 247.8,243 242.6,238.6 237.5,234.6 232.3,230.6 229.5,227.5" fill="#3a3a3a" stroke="#6a6a6a" stroke-width="2" filter="url(#b0_6)"/><circle cx="227.2" cy="223.9" r="0.9" fill="#222"/><circle cx="229.8" cy="226" r="0.9" fill="#222"/><polyline points="189,195.5 191.4,195.9 196.9,198 203.7,200.9 210.6,204.9 217.4,209.4 224.3,214.6 230.3,220 235.4,224.9 240.6,230.1 245.7,235.7 250.9,241.4 254,245 255,246.5" fill="none" stroke="#111" stroke-width="0.8"/><polyline points="189,205.5 191.4,206 196.9,208.3 203.7,212.3 210.6,216.9 217.4,222 224.3,227.5 230.3,233.1 235.4,237.3 240.6,241.4 244.7,245 246,246.5" fill="none" stroke="#111" stroke-width="0.8"/><polyline points="229.5,227.5 232.3,228.4 237.5,232.1 242.6,236.2 247.8,240.3 252.9,245.4 250.5,245.6 247.8,243 242.6,238.6 237.5,234.6 232.3,230.6 229.5,227.5" fill="none" stroke="#111" stroke-width="0.7"/></g><rect x="191.3" y="181.6" width="64.3" height="63.5" fill="none" stroke="#3a3a3a" stroke-width="1"/><line x1="188.3" y1="245.1" x2="191.3" y2="245.1" stroke="#3a3a3a" stroke-width="0.8"/><line x1="188.3" y1="224" x2="191.3" y2="224" stroke="#3a3a3a" stroke-width="0.8"/><line x1="188.3" y1="203" x2="191.3" y2="203" stroke="#3a3a3a" stroke-width="0.8"/><line x1="188.3" y1="182" x2="191.3" y2="182" stroke="#3a3a3a" stroke-width="0.8"/><line x1="191.3" y1="245.1" x2="191.3" y2="248.1" stroke="#3a3a3a" stroke-width="0.8"/><text x="191.4" y="257.27" font-size="8.4" text-anchor="middle" transform="rotate(-50 191.4 254.37)" textLength="4.6" lengthAdjust="spacingAndGlyphs">0</text><line x1="208.6" y1="245.1" x2="208.6" y2="248.1" stroke="#3a3a3a" stroke-width="0.8"/><text x="208.7" y="259.64" font-size="8.4" text-anchor="middle" transform="rotate(-50 208.7 256.74)" textLength="9.2" lengthAdjust="spacingAndGlyphs">25</text><line x1="225.9" y1="245.1" x2="225.9" y2="248.1" stroke="#3a3a3a" stroke-width="0.8"/><text x="226" y="259.64" font-size="8.4" text-anchor="middle" transform="rotate(-50 226 256.74)" textLength="9.2" lengthAdjust="spacingAndGlyphs">50</text><line x1="243.2" y1="245.1" x2="243.2" y2="248.1" stroke="#3a3a3a" stroke-width="0.8"/><text x="243.3" y="259.64" font-size="8.4" text-anchor="middle" transform="rotate(-50 243.3 256.74)" textLength="9.2" lengthAdjust="spacingAndGlyphs">75</text><text x="223.45" y="278.8" font-size="10.6" text-anchor="middle" textLength="51" lengthAdjust="spacingAndGlyphs">Amorphous</text><text x="223.45" y="288.6" font-size="10.6" text-anchor="middle" textLength="32.5" lengthAdjust="spacingAndGlyphs">Carbon</text><text x="223.45" y="298.4" font-size="10.6" text-anchor="middle" textLength="18.9" lengthAdjust="spacingAndGlyphs">wt%</text><g clip-path="url(#c3)"><path d="M268.5 245.1H268.5V207.7H270.4V197.5H272.2V195.5H273.8V194.4H279.6V193.1H281.6V191.7H283.6V192.1H285.6V192.4H287.6V188.3H289.6V189.2H291.5V189.7H295.5V187.3H297.5V187.8H300.1V185.7H302.1V185.1H304.2V184.6H306.2V185.1H307.8V187.2H309.3V192.1H311.4V201.1H313.4V213.4H315.5V226.6H317.6V236.3H319.6V240.2H321.7V243.1H323.7V244.7H325.8V245.1H332" fill="none" stroke="#111" stroke-width="0.9"/></g><rect x="268.3" y="181.6" width="64.1" height="63.5" fill="none" stroke="#3a3a3a" stroke-width="1"/><line x1="265.3" y1="245.1" x2="268.3" y2="245.1" stroke="#3a3a3a" stroke-width="0.8"/><line x1="265.3" y1="224" x2="268.3" y2="224" stroke="#3a3a3a" stroke-width="0.8"/><line x1="265.3" y1="203" x2="268.3" y2="203" stroke="#3a3a3a" stroke-width="0.8"/><line x1="265.3" y1="182" x2="268.3" y2="182" stroke="#3a3a3a" stroke-width="0.8"/><line x1="268.3" y1="245.1" x2="268.3" y2="248.1" stroke="#3a3a3a" stroke-width="0.8"/><text x="268.4" y="257.27" font-size="8.4" text-anchor="middle" transform="rotate(-50 268.4 254.37)" textLength="4.6" lengthAdjust="spacingAndGlyphs">0</text><line x1="294.5" y1="245.1" x2="294.5" y2="248.1" stroke="#3a3a3a" stroke-width="0.8"/><text x="294.6" y="262.01" font-size="8.4" text-anchor="middle" transform="rotate(-50 294.6 259.11)" textLength="13.8" lengthAdjust="spacingAndGlyphs">250</text><line x1="320.7" y1="245.1" x2="320.7" y2="248.1" stroke="#3a3a3a" stroke-width="0.8"/><text x="320.8" y="262.01" font-size="8.4" text-anchor="middle" transform="rotate(-50 320.8 259.11)" textLength="13.8" lengthAdjust="spacingAndGlyphs">500</text><text x="300.35" y="277" font-size="10.6" text-anchor="middle" textLength="69.7" lengthAdjust="spacingAndGlyphs">Grain Size (μm)</text><text x="12.9" y="212.95" font-size="10.6" text-anchor="middle" transform="rotate(-90 12.9 212.95)" textLength="68.6" lengthAdjust="spacingAndGlyphs">Grain Size (μm)</text><g clip-path="url(#c4)"><polygon points="40,551 60,548 85,530 95,495 100,495 100,556 40,556" fill="#ededed" stroke="#ededed" stroke-width="10" filter="url(#b3)"/><polygon points="37,528.3 38,527.8 43,525.5 47.7,523 51.5,521.2 55.4,519.1 59.5,516.3 63.2,513.2 66.3,510 69,506.4 71.6,502.6 73.9,498.7 75.5,496 76.8,493.8 77.8,491.4 78.5,489.5 94.5,489.5 94,491.5 93.3,493.8 90.8,500.5 88.4,507.4 86.4,514.3 84.5,521 83.2,526 81.6,530.7 79.5,533.2 77.7,536.5 76.5,537.5 74.8,540.4 72,542.8 69,544.3 66.5,543 63.2,543.3 61,545 59.3,544.3 56.5,545.5 53.5,546.3 50.5,548.5 47.7,550.1 45.5,548.8 43.8,548.2 41.8,547.8 39.9,546.3 38,545.3 37,545.3" fill="url(#gB1)"/><ellipse cx="57" cy="528" rx="13" ry="5" fill="#9a9a9a" transform="rotate(-30 57 528)" filter="url(#b3)"/><polygon points="81.5,489.5 80.7,493.8 77.7,496.7 75.3,501 72.9,505.5 70,509.5 67.1,513.2 64.5,516.5 62.2,519.1 65.1,520 68,518.6 71,517.1 74.5,515.8 77.7,514.2 80.3,512 82.6,509.4 84.2,505.5 85.5,501.6 86.6,497.5 87.5,493.8 88,489.5" fill="#505050" stroke="#7a7a7a" stroke-width="2.5" filter="url(#b1)"/><ellipse cx="82" cy="498" rx="3.6" ry="11" fill="#181818" transform="rotate(22 82 498)" filter="url(#b1_6)"/><ellipse cx="72" cy="512" rx="2.5" ry="6" fill="#444" transform="rotate(50 72 512)" filter="url(#b1_5)"/><circle cx="61.7" cy="542.9" r="0.9" fill="#333"/><polyline points="37,528.3 38,527.8 43,525.5 47.7,523 51.5,521.2 55.4,519.1 59.5,516.3 63.2,513.2 66.3,510 69,506.4 71.6,502.6 73.9,498.7 75.5,496 76.8,493.8 77.8,491.4 78.5,489.5" fill="none" stroke="#111" stroke-width="0.8"/><polyline points="94.5,489.5 94,491.5 93.3,493.8 90.8,500.5 88.4,507.4 86.4,514.3 84.5,521 83.2,526 81.6,530.7 79.5,533.2 77.7,536.5 76.5,537.5 74.8,540.4 72,542.8 69,544.3 66.5,543 63.2,543.3 61,545 59.3,544.3 56.5,545.5 53.5,546.3 50.5,548.5 47.7,550.1 45.5,548.8 43.8,548.2 41.8,547.8 39.9,546.3 38,545.3 37,545.3" fill="none" stroke="#111" stroke-width="0.8"/><polyline points="81.5,489.5 80.7,493.8 77.7,496.7 75.3,501 72.9,505.5 70,509.5 67.1,513.2 64.5,516.5 62.2,519.1 65.1,520 68,518.6 71,517.1 74.5,515.8 77.7,514.2 80.3,512 82.6,509.4 84.2,505.5 85.5,501.6 86.6,497.5 87.5,493.8 88,489.5" fill="none" stroke="#111" stroke-width="0.8"/></g><rect x="38.6" y="491.4" width="63.9" height="63.5" fill="none" stroke="#3a3a3a" stroke-width="1"/><line x1="35.6" y1="554.7" x2="38.6" y2="554.7" stroke="#3a3a3a" stroke-width="0.8"/><text x="34" y="557.6" font-size="8.4" text-anchor="end" textLength="4.6" lengthAdjust="spacingAndGlyphs">0</text><line x1="35.6" y1="539" x2="38.6" y2="539" stroke="#3a3a3a" stroke-width="0.8"/><text x="34" y="541.9" font-size="8.4" text-anchor="end" textLength="13.8" lengthAdjust="spacingAndGlyphs">250</text><line x1="35.6" y1="523.2" x2="38.6" y2="523.2" stroke="#3a3a3a" stroke-width="0.8"/><text x="34" y="526.1" font-size="8.4" text-anchor="end" textLength="13.8" lengthAdjust="spacingAndGlyphs">500</text><line x1="35.6" y1="507.4" x2="38.6" y2="507.4" stroke="#3a3a3a" stroke-width="0.8"/><text x="34" y="510.3" font-size="8.4" text-anchor="end" textLength="13.8" lengthAdjust="spacingAndGlyphs">750</text><line x1="35.6" y1="491.6" x2="38.6" y2="491.6" stroke="#3a3a3a" stroke-width="0.8"/><text x="34" y="494.5" font-size="8.4" text-anchor="end" textLength="18.4" lengthAdjust="spacingAndGlyphs">1000</text><line x1="38.7" y1="554.9" x2="38.7" y2="557.9" stroke="#3a3a3a" stroke-width="0.8"/><text x="38.8" y="567.07" font-size="8.4" text-anchor="middle" transform="rotate(-50 38.8 564.17)" textLength="4.6" lengthAdjust="spacingAndGlyphs">0</text><line x1="69.3" y1="554.9" x2="69.3" y2="557.9" stroke="#3a3a3a" stroke-width="0.8"/><text x="69.4" y="567.07" font-size="8.4" text-anchor="middle" transform="rotate(-50 69.4 564.17)" textLength="4.6" lengthAdjust="spacingAndGlyphs">5</text><line x1="99.9" y1="554.9" x2="99.9" y2="557.9" stroke="#3a3a3a" stroke-width="0.8"/><text x="100" y="569.44" font-size="8.4" text-anchor="middle" transform="rotate(-50 100 566.54)" textLength="9.2" lengthAdjust="spacingAndGlyphs">10</text><text x="70.55" y="588.9" font-size="10.6" text-anchor="middle" textLength="43.5" lengthAdjust="spacingAndGlyphs">Water Ice</text><text x="70.55" y="598.7" font-size="10.6" text-anchor="middle" textLength="19.4" lengthAdjust="spacingAndGlyphs">wt%</text><g clip-path="url(#c5)"><g shape-rendering="crispEdges"><rect x="115" y="491" width="2" height="2" fill="#b9b9b9"/><rect x="117" y="491" width="2" height="2" fill="#c5c5c5"/><rect x="119" y="491" width="2" height="2" fill="#c2c2c2"/><rect x="121" y="491" width="2" height="2" fill="#b1b1b1"/><rect x="123" y="491" width="2" height="2" fill="#b2b2b2"/><rect x="125" y="491" width="2" height="2" fill="#aeaeae"/><rect x="127" y="491" width="2" height="2" fill="#b5b5b5"/><rect x="129" y="491" width="2" height="2" fill="#adadad"/><rect x="131" y="491" width="2" height="2" fill="#b2b2b2"/><rect x="133" y="491" width="2" height="2" fill="#989898"/><rect x="135" y="491" width="2" height="2" fill="#b5b5b5"/><rect x="137" y="491" width="2" height="2" fill="#a4a4a4"/><rect x="139" y="491" width="2" height="2" fill="#a9a9a9"/><rect x="141" y="491" width="2" height="2" fill="#9f9f9f"/><rect x="143" y="491" width="2" height="2" fill="#9b9b9b"/><rect x="145" y="491" width="2" height="2" fill="#a2a2a2"/><rect x="147" y="491" width="2" height="2" fill="#a4a4a4"/><rect x="149" y="491" width="2" height="2" fill="#999999"/><rect x="151" y="491" width="2" height="2" fill="#999999"/><rect x="153" y="491" width="2" height="2" fill="#9f9f9f"/><rect x="155" y="491" width="2" height="2" fill="#919191"/><rect x="157" y="491" width="2" height="2" fill="#8a8a8a"/><rect x="159" y="491" width="2" height="2" fill="#9a9a9a"/><rect x="161" y="491" width="2" height="2" fill="#8f8f8f"/><rect x="163" y="491" width="2" height="2" fill="#848484"/><rect x="165" y="491" width="2" height="2" fill="#8f8f8f"/><rect x="167" y="491" width="2" height="2" fill="#929292"/><rect x="169" y="491" width="2" height="2" fill="#8b8b8b"/><rect x="171" y="491" width="2" height="2" fill="#888888"/><rect x="173" y="491" width="2" height="2" fill="#969696"/><rect x="175" y="491" width="2" height="2" fill="#9e9e9e"/><rect x="177" y="491" width="2" height="2" fill="#949494"/><rect x="179" y="491" width="2" height="2" fill="#8f8f8f"/><rect x="115" y="493" width="2" height="2" fill="#bbbbbb"/><rect x="117" y="493" width="2" height="2" fill="#bebebe"/><rect x="119" y="493" width="2" height="2" fill="#b4b4b4"/><rect x="121" y="493" width="2" height="2" fill="#bababa"/><rect x="123" y="493" width="2" height="2" fill="#bcbcbc"/><rect x="125" y="493" width="2" height="2" fill="#afafaf"/><rect x="127" y="493" width="2" height="2" fill="#a7a7a7"/><rect x="129" y="493" width="2" height="2" fill="#b0b0b0"/><rect x="131" y="493" width="2" height="2" fill="#acacac"/><rect x="133" y="493" width="2" height="2" fill="#b2b2b2"/><rect x="135" y="493" width="2" height="2" fill="#9a9a9a"/><rect x="137" y="493" width="2" height="2" fill="#9e9e9e"/><rect x="139" y="493" width="2" height="2" fill="#9a9a9a"/><rect x="141" y="493" width="2" height="2" fill="#909090"/><rect x="143" y="493" width="2" height="2" fill="#9f9f9f"/><rect x="145" y="493" width="2" height="2" fill="#a1a1a1"/><rect x="147" y="493" width="2" height="2" fill="#949494"/><rect x="149" y="493" width="2" height="2" fill="#a7a7a7"/><rect x="151" y="493" width="2" height="2" fill="#a0a0a0"/><rect x="153" y="493" width="2" height="2" fill="#9e9e9e"/><rect x="155" y="493" width="2" height="2" fill="#9b9b9b"/><rect x="157" y="493" width="2" height="2" fill="#9f9f9f"/><rect x="159" y="493" width="2" height="2" fill="#898989"/><rect x="161" y="493" width="2" height="2" fill="#9a9a9a"/><rect x="163" y="493" width="2" height="2" fill="#999999"/><rect x="165" y="493" width="2" height="2" fill="#858585"/><rect x="167" y="493" width="2" height="2" fill="#989898"/><rect x="169" y="493" width="2" height="2" fill="#929292"/><rect x="171" y="493" width="2" height="2" fill="#9b9b9b"/><rect x="173" y="493" width="2" height="2" fill="#919191"/><rect x="175" y="493" width="2" height="2" fill="#959595"/><rect x="177" y="493" width="2" height="2" fill="#989898"/><rect x="179" y="493" width="2" height="2" fill="#8d8d8d"/><rect x="115" y="495" width="2" height="2" fill="#bcbcbc"/><rect x="117" y="495" width="2" height="2" fill="#b5b5b5"/><rect x="119" y="495" width="2" height="2" fill="#b9b9b9"/><rect x="121" y="495" width="2" height="2" fill="#afafaf"/><rect x="123" y="495" width="2" height="2" fill="#bcbcbc"/><rect x="125" y="495" width="2" height="2" fill="#b5b5b5"/><rect x="127" y="495" width="2" height="2" fill="#acacac"/><rect x="129" y="495" width="2" height="2" fill="#b1b1b1"/><rect x="131" y="495" width="2" height="2" fill="#b4b4b4"/><rect x="133" y="495" width="2" height="2" fill="#b7b7b7"/><rect x="135" y="495" width="2" height="2" fill="#969696"/><rect x="137" y="495" width="2" height="2" fill="#aaaaaa"/><rect x="139" y="495" width="2" height="2" fill="#a4a4a4"/><rect x="141" y="495" width="2" height="2" fill="#9d9d9d"/><rect x="143" y="495" width="2" height="2" fill="#939393"/><rect x="145" y="495" width="2" height="2" fill="#a6a6a6"/><rect x="147" y="495" width="2" height="2" fill="#8e8e8e"/><rect x="149" y="495" width="2" height="2" fill="#9e9e9e"/><rect x="151" y="495" width="2" height="2" fill="#a3a3a3"/><rect x="153" y="495" width="2" height="2" fill="#888888"/><rect x="155" y="495" width="2" height="2" fill="#939393"/><rect x="157" y="495" width="2" height="2" fill="#898989"/><rect x="159" y="495" width="2" height="2" fill="#969696"/><rect x="161" y="495" width="2" height="2" fill="#898989"/><rect x="163" y="495" width="2" height="2" fill="#5e5e5e"/><rect x="165" y="495" width="2" height="2" fill="#818181"/><rect x="167" y="495" width="2" height="2" fill="#7d7d7d"/><rect x="169" y="495" width="2" height="2" fill="#7a7a7a"/><rect x="171" y="495" width="2" height="2" fill="#737373"/><rect x="173" y="495" width="2" height="2" fill="#979797"/><rect x="175" y="495" width="2" height="2" fill="#7c7c7c"/><rect x="177" y="495" width="2" height="2" fill="#757575"/><rect x="179" y="495" width="2" height="2" fill="#717171"/><rect x="115" y="497" width="2" height="2" fill="#b3b3b3"/><rect x="117" y="497" width="2" height="2" fill="#a8a8a8"/><rect x="119" y="497" width="2" height="2" fill="#c0c0c0"/><rect x="121" y="497" width="2" height="2" fill="#b7b7b7"/><rect x="123" y="497" width="2" height="2" fill="#c4c4c4"/><rect x="125" y="497" width="2" height="2" fill="#afafaf"/><rect x="127" y="497" width="2" height="2" fill="#a8a8a8"/><rect x="129" y="497" width="2" height="2" fill="#9d9d9d"/><rect x="131" y="497" width="2" height="2" fill="#b3b3b3"/><rect x="133" y="497" width="2" height="2" fill="#bdbdbd"/><rect x="135" y="497" width="2" height="2" fill="#9c9c9c"/><rect x="137" y="497" width="2" height="2" fill="#9b9b9b"/><rect x="139" y="497" width="2" height="2" fill="#a4a4a4"/><rect x="141" y="497" width="2" height="2" fill="#969696"/><rect x="143" y="497" width="2" height="2" fill="#999999"/><rect x="145" y="497" width="2" height="2" fill="#979797"/><rect x="147" y="497" width="2" height="2" fill="#9a9a9a"/><rect x="149" y="497" width="2" height="2" fill="#a2a2a2"/><rect x="151" y="497" width="2" height="2" fill="#979797"/><rect x="153" y="497" width="2" height="2" fill="#9e9e9e"/><rect x="155" y="497" width="2" height="2" fill="#919191"/><rect x="157" y="497" width="2" height="2" fill="#979797"/><rect x="159" y="497" width="2" height="2" fill="#5a5a5a"/><rect x="161" y="497" width="2" height="2" fill="#7d7d7d"/><rect x="163" y="497" width="2" height="2" fill="#7a7a7a"/><rect x="165" y="497" width="2" height="2" fill="#868686"/><rect x="167" y="497" width="2" height="2" fill="#828282"/><rect x="169" y="497" width="2" height="2" fill="#3d3d3d"/><rect x="171" y="497" width="2" height="2" fill="#6c6c6c"/><rect x="173" y="497" width="2" height="2" fill="#6e6e6e"/><rect x="175" y="497" width="2" height="2" fill="#787878"/><rect x="177" y="497" width="2" height="2" fill="#5b5b5b"/><rect x="179" y="497" width="2" height="2" fill="#777777"/><rect x="115" y="499" width="2" height="2" fill="#b9b9b9"/><rect x="117" y="499" width="2" height="2" fill="#aeaeae"/><rect x="119" y="499" width="2" height="2" fill="#acacac"/><rect x="121" y="499" width="2" height="2" fill="#c3c3c3"/><rect x="123" y="499" width="2" height="2" fill="#b6b6b6"/><rect x="125" y="499" width="2" height="2" fill="#bebebe"/><rect x="127" y="499" width="2" height="2" fill="#bebebe"/><rect x="129" y="499" width="2" height="2" fill="#a2a2a2"/><rect x="131" y="499" width="2" height="2" fill="#aaaaaa"/><rect x="133" y="499" width="2" height="2" fill="#a8a8a8"/><rect x="135" y="499" width="2" height="2" fill="#a7a7a7"/><rect x="137" y="499" width="2" height="2" fill="#a5a5a5"/><rect x="139" y="499" width="2" height="2" fill="#a0a0a0"/><rect x="141" y="499" width="2" height="2" fill="#9d9d9d"/><rect x="143" y="499" width="2" height="2" fill="#8d8d8d"/><rect x="145" y="499" width="2" height="2" fill="#979797"/><rect x="147" y="499" width="2" height="2" fill="#919191"/><rect x="149" y="499" width="2" height="2" fill="#989898"/><rect x="151" y="499" width="2" height="2" fill="#919191"/><rect x="153" y="499" width="2" height="2" fill="#9a9a9a"/><rect x="155" y="499" width="2" height="2" fill="#9b9b9b"/><rect x="157" y="499" width="2" height="2" fill="#797979"/><rect x="159" y="499" width="2" height="2" fill="#747474"/><rect x="161" y="499" width="2" height="2" fill="#6e6e6e"/><rect x="163" y="499" width="2" height="2" fill="#757575"/><rect x="165" y="499" width="2" height="2" fill="#797979"/><rect x="167" y="499" width="2" height="2" fill="#7d7d7d"/><rect x="169" y="499" width="2" height="2" fill="#676767"/><rect x="171" y="499" width="2" height="2" fill="#686868"/><rect x="173" y="499" width="2" height="2" fill="#6a6a6a"/><rect x="175" y="499" width="2" height="2" fill="#676767"/><rect x="177" y="499" width="2" height="2" fill="#727272"/><rect x="179" y="499" width="2" height="2" fill="#727272"/><rect x="115" y="501" width="2" height="2" fill="#c3c3c3"/><rect x="117" y="501" width="2" height="2" fill="#a5a5a5"/><rect x="119" y="501" width="2" height="2" fill="#b6b6b6"/><rect x="121" y="501" width="2" height="2" fill="#b5b5b5"/><rect x="123" y="501" width="2" height="2" fill="#a1a1a1"/><rect x="125" y="501" width="2" height="2" fill="#afafaf"/><rect x="127" y="501" width="2" height="2" fill="#b3b3b3"/><rect x="129" y="501" width="2" height="2" fill="#acacac"/><rect x="131" y="501" width="2" height="2" fill="#a7a7a7"/><rect x="133" y="501" width="2" height="2" fill="#acacac"/><rect x="135" y="501" width="2" height="2" fill="#a2a2a2"/><rect x="137" y="501" width="2" height="2" fill="#a2a2a2"/><rect x="139" y="501" width="2" height="2" fill="#9c9c9c"/><rect x="141" y="501" width="2" height="2" fill="#a0a0a0"/><rect x="143" y="501" width="2" height="2" fill="#909090"/><rect x="145" y="501" width="2" height="2" fill="#9f9f9f"/><rect x="147" y="501" width="2" height="2" fill="#929292"/><rect x="149" y="501" width="2" height="2" fill="#8b8b8b"/><rect x="151" y="501" width="2" height="2" fill="#979797"/><rect x="153" y="501" width="2" height="2" fill="#8d8d8d"/><rect x="155" y="501" width="2" height="2" fill="#6e6e6e"/><rect x="157" y="501" width="2" height="2" fill="#6d6d6d"/><rect x="159" y="501" width="2" height="2" fill="#717171"/><rect x="161" y="501" width="2" height="2" fill="#6f6f6f"/><rect x="163" y="501" width="2" height="2" fill="#636363"/><rect x="165" y="501" width="2" height="2" fill="#5b5b5b"/><rect x="167" y="501" width="2" height="2" fill="#797979"/><rect x="169" y="501" width="2" height="2" fill="#6d6d6d"/><rect x="171" y="501" width="2" height="2" fill="#696969"/><rect x="173" y="501" width="2" height="2" fill="#717171"/><rect x="175" y="501" width="2" height="2" fill="#3c3c3c"/><rect x="177" y="501" width="2" height="2" fill="#767676"/><rect x="179" y="501" width="2" height="2" fill="#5b5b5b"/><rect x="115" y="503" width="2" height="2" fill="#b0b0b0"/><rect x="117" y="503" width="2" height="2" fill="#aeaeae"/><rect x="119" y="503" width="2" height="2" fill="#b9b9b9"/><rect x="121" y="503" width="2" height="2" fill="#bebebe"/><rect x="123" y="503" width="2" height="2" fill="#a9a9a9"/><rect x="125" y="503" width="2" height="2" fill="#b1b1b1"/><rect x="127" y="503" width="2" height="2" fill="#b1b1b1"/><rect x="129" y="503" width="2" height="2" fill="#adadad"/><rect x="131" y="503" width="2" height="2" fill="#adadad"/><rect x="133" y="503" width="2" height="2" fill="#9e9e9e"/><rect x="135" y="503" width="2" height="2" fill="#a6a6a6"/><rect x="137" y="503" width="2" height="2" fill="#b0b0b0"/><rect x="139" y="503" width="2" height="2" fill="#a3a3a3"/><rect x="141" y="503" width="2" height="2" fill="#949494"/><rect x="143" y="503" width="2" height="2" fill="#9d9d9d"/><rect x="145" y="503" width="2" height="2" fill="#a2a2a2"/><rect x="147" y="503" width="2" height="2" fill="#989898"/><rect x="149" y="503" width="2" height="2" fill="#8f8f8f"/><rect x="151" y="503" width="2" height="2" fill="#8a8a8a"/><rect x="153" y="503" width="2" height="2" fill="#7a7a7a"/><rect x="155" y="503" width="2" height="2" fill="#626262"/><rect x="157" y="503" width="2" height="2" fill="#747474"/><rect x="159" y="503" width="2" height="2" fill="#757575"/><rect x="161" y="503" width="2" height="2" fill="#515151"/><rect x="163" y="503" width="2" height="2" fill="#6d6d6d"/><rect x="165" y="503" width="2" height="2" fill="#6e6e6e"/><rect x="167" y="503" width="2" height="2" fill="#727272"/><rect x="169" y="503" width="2" height="2" fill="#7a7a7a"/><rect x="171" y="503" width="2" height="2" fill="#6e6e6e"/><rect x="173" y="503" width="2" height="2" fill="#5e5e5e"/><rect x="175" y="503" width="2" height="2" fill="#7f7f7f"/><rect x="177" y="503" width="2" height="2" fill="#686868"/><rect x="179" y="503" width="2" height="2" fill="#656565"/><rect x="115" y="505" width="2" height="2" fill="#aaaaaa"/><rect x="117" y="505" width="2" height="2" fill="#b3b3b3"/><rect x="119" y="505" width="2" height="2" fill="#a1a1a1"/><rect x="121" y="505" width="2" height="2" fill="#bababa"/><rect x="123" y="505" width="2" height="2" fill="#a7a7a7"/><rect x="125" y="505" width="2" height="2" fill="#9c9c9c"/><rect x="127" y="505" width="2" height="2" fill="#a5a5a5"/><rect x="129" y="505" width="2" height="2" fill="#a2a2a2"/><rect x="131" y="505" width="2" height="2" fill="#a4a4a4"/><rect x="133" y="505" width="2" height="2" fill="#969696"/><rect x="135" y="505" width="2" height="2" fill="#a2a2a2"/><rect x="137" y="505" width="2" height="2" fill="#bdbdbd"/><rect x="139" y="505" width="2" height="2" fill="#8f8f8f"/><rect x="141" y="505" width="2" height="2" fill="#9b9b9b"/><rect x="143" y="505" width="2" height="2" fill="#949494"/><rect x="145" y="505" width="2" height="2" fill="#979797"/><rect x="147" y="505" width="2" height="2" fill="#838383"/><rect x="149" y="505" width="2" height="2" fill="#676767"/><rect x="151" y="505" width="2" height="2" fill="#727272"/><rect x="153" y="505" width="2" height="2" fill="#696969"/><rect x="155" y="505" width="2" height="2" fill="#717171"/><rect x="157" y="505" width="2" height="2" fill="#626262"/><rect x="159" y="505" width="2" height="2" fill="#696969"/><rect x="161" y="505" width="2" height="2" fill="#727272"/><rect x="163" y="505" width="2" height="2" fill="#5d5d5d"/><rect x="165" y="505" width="2" height="2" fill="#8b8b8b"/><rect x="167" y="505" width="2" height="2" fill="#444444"/><rect x="169" y="505" width="2" height="2" fill="#5c5c5c"/><rect x="171" y="505" width="2" height="2" fill="#646464"/><rect x="173" y="505" width="2" height="2" fill="#757575"/><rect x="175" y="505" width="2" height="2" fill="#6b6b6b"/><rect x="177" y="505" width="2" height="2" fill="#6d6d6d"/><rect x="179" y="505" width="2" height="2" fill="#6f6f6f"/><rect x="115" y="507" width="2" height="2" fill="#bbbbbb"/><rect x="117" y="507" width="2" height="2" fill="#b1b1b1"/><rect x="119" y="507" width="2" height="2" fill="#adadad"/><rect x="121" y="507" width="2" height="2" fill="#a5a5a5"/><rect x="123" y="507" width="2" height="2" fill="#a6a6a6"/><rect x="125" y="507" width="2" height="2" fill="#a3a3a3"/><rect x="127" y="507" width="2" height="2" fill="#8d8d8d"/><rect x="129" y="507" width="2" height="2" fill="#adadad"/><rect x="131" y="507" width="2" height="2" fill="#a7a7a7"/><rect x="133" y="507" width="2" height="2" fill="#9e9e9e"/><rect x="135" y="507" width="2" height="2" fill="#a7a7a7"/><rect x="137" y="507" width="2" height="2" fill="#9f9f9f"/><rect x="139" y="507" width="2" height="2" fill="#9c9c9c"/><rect x="141" y="507" width="2" height="2" fill="#818181"/><rect x="143" y="507" width="2" height="2" fill="#939393"/><rect x="145" y="507" width="2" height="2" fill="#999999"/><rect x="147" y="507" width="2" height="2" fill="#8a8a8a"/><rect x="149" y="507" width="2" height="2" fill="#868686"/><rect x="151" y="507" width="2" height="2" fill="#535353"/><rect x="153" y="507" width="2" height="2" fill="#6e6e6e"/><rect x="155" y="507" width="2" height="2" fill="#3d3d3d"/><rect x="157" y="507" width="2" height="2" fill="#565656"/><rect x="159" y="507" width="2" height="2" fill="#616161"/><rect x="161" y="507" width="2" height="2" fill="#6a6a6a"/><rect x="163" y="507" width="2" height="2" fill="#686868"/><rect x="165" y="507" width="2" height="2" fill="#6f6f6f"/><rect x="167" y="507" width="2" height="2" fill="#5e5e5e"/><rect x="169" y="507" width="2" height="2" fill="#7b7b7b"/><rect x="171" y="507" width="2" height="2" fill="#717171"/><rect x="173" y="507" width="2" height="2" fill="#5e5e5e"/><rect x="175" y="507" width="2" height="2" fill="#676767"/><rect x="177" y="507" width="2" height="2" fill="#6d6d6d"/><rect x="179" y="507" width="2" height="2" fill="#5e5e5e"/><rect x="115" y="509" width="2" height="2" fill="#bcbcbc"/><rect x="117" y="509" width="2" height="2" fill="#999999"/><rect x="119" y="509" width="2" height="2" fill="#b1b1b1"/><rect x="121" y="509" width="2" height="2" fill="#a6a6a6"/><rect x="123" y="509" width="2" height="2" fill="#adadad"/><rect x="125" y="509" width="2" height="2" fill="#a3a3a3"/><rect x="127" y="509" width="2" height="2" fill="#a8a8a8"/><rect x="129" y="509" width="2" height="2" fill="#b1b1b1"/><rect x="131" y="509" width="2" height="2" fill="#a4a4a4"/><rect x="133" y="509" width="2" height="2" fill="#a2a2a2"/><rect x="135" y="509" width="2" height="2" fill="#a0a0a0"/><rect x="137" y="509" width="2" height="2" fill="#939393"/><rect x="139" y="509" width="2" height="2" fill="#9d9d9d"/><rect x="141" y="509" width="2" height="2" fill="#949494"/><rect x="143" y="509" width="2" height="2" fill="#8d8d8d"/><rect x="145" y="509" width="2" height="2" fill="#757575"/><rect x="147" y="509" width="2" height="2" fill="#7c7c7c"/><rect x="149" y="509" width="2" height="2" fill="#696969"/><rect x="151" y="509" width="2" height="2" fill="#7a7a7a"/><rect x="153" y="509" width="2" height="2" fill="#737373"/><rect x="155" y="509" width="2" height="2" fill="#636363"/><rect x="157" y="509" width="2" height="2" fill="#737373"/><rect x="159" y="509" width="2" height="2" fill="#505050"/><rect x="161" y="509" width="2" height="2" fill="#4e4e4e"/><rect x="163" y="509" width="2" height="2" fill="#515151"/><rect x="165" y="509" width="2" height="2" fill="#646464"/><rect x="167" y="509" width="2" height="2" fill="#4d4d4d"/><rect x="169" y="509" width="2" height="2" fill="#7e7e7e"/><rect x="171" y="509" width="2" height="2" fill="#787878"/><rect x="173" y="509" width="2" height="2" fill="#5c5c5c"/><rect x="175" y="509" width="2" height="2" fill="#505050"/><rect x="177" y="509" width="2" height="2" fill="#696969"/><rect x="179" y="509" width="2" height="2" fill="#5f5f5f"/><rect x="115" y="511" width="2" height="2" fill="#aaaaaa"/><rect x="117" y="511" width="2" height="2" fill="#b5b5b5"/><rect x="119" y="511" width="2" height="2" fill="#9c9c9c"/><rect x="121" y="511" width="2" height="2" fill="#a6a6a6"/><rect x="123" y="511" width="2" height="2" fill="#aaaaaa"/><rect x="125" y="511" width="2" height="2" fill="#b0b0b0"/><rect x="127" y="511" width="2" height="2" fill="#b0b0b0"/><rect x="129" y="511" width="2" height="2" fill="#9e9e9e"/><rect x="131" y="511" width="2" height="2" fill="#989898"/><rect x="133" y="511" width="2" height="2" fill="#a1a1a1"/><rect x="135" y="511" width="2" height="2" fill="#989898"/><rect x="137" y="511" width="2" height="2" fill="#969696"/><rect x="139" y="511" width="2" height="2" fill="#a0a0a0"/><rect x="141" y="511" width="2" height="2" fill="#a4a4a4"/><rect x="143" y="511" width="2" height="2" fill="#4c4c4c"/><rect x="145" y="511" width="2" height="2" fill="#7a7a7a"/><rect x="147" y="511" width="2" height="2" fill="#6f6f6f"/><rect x="149" y="511" width="2" height="2" fill="#8c8c8c"/><rect x="151" y="511" width="2" height="2" fill="#6c6c6c"/><rect x="153" y="511" width="2" height="2" fill="#474747"/><rect x="155" y="511" width="2" height="2" fill="#7b7b7b"/><rect x="157" y="511" width="2" height="2" fill="#6c6c6c"/><rect x="159" y="511" width="2" height="2" fill="#4d4d4d"/><rect x="161" y="511" width="2" height="2" fill="#424242"/><rect x="163" y="511" width="2" height="2" fill="#303030"/><rect x="165" y="511" width="2" height="2" fill="#4b4b4b"/><rect x="167" y="511" width="2" height="2" fill="#6d6d6d"/><rect x="169" y="511" width="2" height="2" fill="#6b6b6b"/><rect x="171" y="511" width="2" height="2" fill="#434343"/><rect x="173" y="511" width="2" height="2" fill="#535353"/><rect x="175" y="511" width="2" height="2" fill="#505050"/><rect x="177" y="511" width="2" height="2" fill="#565656"/><rect x="179" y="511" width="2" height="2" fill="#585858"/><rect x="115" y="513" width="2" height="2" fill="#b6b6b6"/><rect x="117" y="513" width="2" height="2" fill="#adadad"/><rect x="119" y="513" width="2" height="2" fill="#a7a7a7"/><rect x="121" y="513" width="2" height="2" fill="#9e9e9e"/><rect x="123" y="513" width="2" height="2" fill="#b1b1b1"/><rect x="125" y="513" width="2" height="2" fill="#acacac"/><rect x="127" y="513" width="2" height="2" fill="#a0a0a0"/><rect x="129" y="513" width="2" height="2" fill="#a3a3a3"/><rect x="131" y="513" width="2" height="2" fill="#959595"/><rect x="133" y="513" width="2" height="2" fill="#939393"/><rect x="135" y="513" width="2" height="2" fill="#929292"/><rect x="137" y="513" width="2" height="2" fill="#9b9b9b"/><rect x="139" y="513" width="2" height="2" fill="#989898"/><rect x="141" y="513" width="2" height="2" fill="#8d8d8d"/><rect x="143" y="513" width="2" height="2" fill="#7d7d7d"/><rect x="145" y="513" width="2" height="2" fill="#727272"/><rect x="147" y="513" width="2" height="2" fill="#686868"/><rect x="149" y="513" width="2" height="2" fill="#707070"/><rect x="151" y="513" width="2" height="2" fill="#717171"/><rect x="153" y="513" width="2" height="2" fill="#505050"/><rect x="155" y="513" width="2" height="2" fill="#585858"/><rect x="157" y="513" width="2" height="2" fill="#4a4a4a"/><rect x="159" y="513" width="2" height="2" fill="#666666"/><rect x="161" y="513" width="2" height="2" fill="#696969"/><rect x="163" y="513" width="2" height="2" fill="#464646"/><rect x="165" y="513" width="2" height="2" fill="#565656"/><rect x="167" y="513" width="2" height="2" fill="#6b6b6b"/><rect x="169" y="513" width="2" height="2" fill="#5b5b5b"/><rect x="171" y="513" width="2" height="2" fill="#4e4e4e"/><rect x="173" y="513" width="2" height="2" fill="#515151"/><rect x="175" y="513" width="2" height="2" fill="#616161"/><rect x="177" y="513" width="2" height="2" fill="#6b6b6b"/><rect x="179" y="513" width="2" height="2" fill="#555555"/><rect x="115" y="515" width="2" height="2" fill="#9e9e9e"/><rect x="117" y="515" width="2" height="2" fill="#a6a6a6"/><rect x="119" y="515" width="2" height="2" fill="#b2b2b2"/><rect x="121" y="515" width="2" height="2" fill="#b2b2b2"/><rect x="123" y="515" width="2" height="2" fill="#b0b0b0"/><rect x="125" y="515" width="2" height="2" fill="#a4a4a4"/><rect x="127" y="515" width="2" height="2" fill="#a0a0a0"/><rect x="129" y="515" width="2" height="2" fill="#a9a9a9"/><rect x="131" y="515" width="2" height="2" fill="#999999"/><rect x="133" y="515" width="2" height="2" fill="#9e9e9e"/><rect x="135" y="515" width="2" height="2" fill="#a5a5a5"/><rect x="137" y="515" width="2" height="2" fill="#939393"/><rect x="139" y="515" width="2" height="2" fill="#8f8f8f"/><rect x="141" y="515" width="2" height="2" fill="#474747"/><rect x="143" y="515" width="2" height="2" fill="#767676"/><rect x="145" y="515" width="2" height="2" fill="#747474"/><rect x="147" y="515" width="2" height="2" fill="#707070"/><rect x="149" y="515" width="2" height="2" fill="#5c5c5c"/><rect x="151" y="515" width="2" height="2" fill="#585858"/><rect x="153" y="515" width="2" height="2" fill="#525252"/><rect x="155" y="515" width="2" height="2" fill="#5d5d5d"/><rect x="157" y="515" width="2" height="2" fill="#606060"/><rect x="159" y="515" width="2" height="2" fill="#595959"/><rect x="161" y="515" width="2" height="2" fill="#5b5b5b"/><rect x="163" y="515" width="2" height="2" fill="#545454"/><rect x="165" y="515" width="2" height="2" fill="#636363"/><rect x="167" y="515" width="2" height="2" fill="#6b6b6b"/><rect x="169" y="515" width="2" height="2" fill="#3e3e3e"/><rect x="171" y="515" width="2" height="2" fill="#6c6c6c"/><rect x="173" y="515" width="2" height="2" fill="#676767"/><rect x="175" y="515" width="2" height="2" fill="#5d5d5d"/><rect x="177" y="515" width="2" height="2" fill="#606060"/><rect x="179" y="515" width="2" height="2" fill="#373737"/><rect x="115" y="517" width="2" height="2" fill="#bebebe"/><rect x="117" y="517" width="2" height="2" fill="#a4a4a4"/><rect x="119" y="517" width="2" height="2" fill="#afafaf"/><rect x="121" y="517" width="2" height="2" fill="#a7a7a7"/><rect x="123" y="517" width="2" height="2" fill="#a2a2a2"/><rect x="125" y="517" width="2" height="2" fill="#a8a8a8"/><rect x="127" y="517" width="2" height="2" fill="#afafaf"/><rect x="129" y="517" width="2" height="2" fill="#939393"/><rect x="131" y="517" width="2" height="2" fill="#a1a1a1"/><rect x="133" y="517" width="2" height="2" fill="#9d9d9d"/><rect x="135" y="517" width="2" height="2" fill="#8b8b8b"/><rect x="137" y="517" width="2" height="2" fill="#a4a4a4"/><rect x="139" y="517" width="2" height="2" fill="#909090"/><rect x="141" y="517" width="2" height="2" fill="#888888"/><rect x="143" y="517" width="2" height="2" fill="#6b6b6b"/><rect x="145" y="517" width="2" height="2" fill="#6c6c6c"/><rect x="147" y="517" width="2" height="2" fill="#7a7a7a"/><rect x="149" y="517" width="2" height="2" fill="#707070"/><rect x="151" y="517" width="2" height="2" fill="#4d4d4d"/><rect x="153" y="517" width="2" height="2" fill="#535353"/><rect x="155" y="517" width="2" height="2" fill="#4f4f4f"/><rect x="157" y="517" width="2" height="2" fill="#4a4a4a"/><rect x="159" y="517" width="2" height="2" fill="#4a4a4a"/><rect x="161" y="517" width="2" height="2" fill="#525252"/><rect x="163" y="517" width="2" height="2" fill="#424242"/><rect x="165" y="517" width="2" height="2" fill="#545454"/><rect x="167" y="517" width="2" height="2" fill="#5d5d5d"/><rect x="169" y="517" width="2" height="2" fill="#595959"/><rect x="171" y="517" width="2" height="2" fill="#5b5b5b"/><rect x="173" y="517" width="2" height="2" fill="#4e4e4e"/><rect x="175" y="517" width="2" height="2" fill="#5b5b5b"/><rect x="177" y="517" width="2" height="2" fill="#505050"/><rect x="179" y="517" width="2" height="2" fill="#6a6a6a"/><rect x="115" y="519" width="2" height="2" fill="#989898"/><rect x="117" y="519" width="2" height="2" fill="#9d9d9d"/><rect x="119" y="519" width="2" height="2" fill="#a6a6a6"/><rect x="121" y="519" width="2" height="2" fill="#bbbbbb"/><rect x="123" y="519" width="2" height="2" fill="#a7a7a7"/><rect x="125" y="519" width="2" height="2" fill="#acacac"/><rect x="127" y="519" width="2" height="2" fill="#9d9d9d"/><rect x="129" y="519" width="2" height="2" fill="#878787"/><rect x="131" y="519" width="2" height="2" fill="#868686"/><rect x="133" y="519" width="2" height="2" fill="#a1a1a1"/><rect x="135" y="519" width="2" height="2" fill="#989898"/><rect x="137" y="519" width="2" height="2" fill="#888888"/><rect x="139" y="519" width="2" height="2" fill="#828282"/><rect x="141" y="519" width="2" height="2" fill="#7d7d7d"/><rect x="143" y="519" width="2" height="2" fill="#606060"/><rect x="145" y="519" width="2" height="2" fill="#717171"/><rect x="147" y="519" width="2" height="2" fill="#414141"/><rect x="149" y="519" width="2" height="2" fill="#6b6b6b"/><rect x="151" y="519" width="2" height="2" fill="#585858"/><rect x="153" y="519" width="2" height="2" fill="#5f5f5f"/><rect x="155" y="519" width="2" height="2" fill="#565656"/><rect x="157" y="519" width="2" height="2" fill="#606060"/><rect x="159" y="519" width="2" height="2" fill="#6b6b6b"/><rect x="161" y="519" width="2" height="2" fill="#434343"/><rect x="163" y="519" width="2" height="2" fill="#676767"/><rect x="165" y="519" width="2" height="2" fill="#484848"/><rect x="167" y="519" width="2" height="2" fill="#4a4a4a"/><rect x="169" y="519" width="2" height="2" fill="#676767"/><rect x="171" y="519" width="2" height="2" fill="#545454"/><rect x="173" y="519" width="2" height="2" fill="#535353"/><rect x="175" y="519" width="2" height="2" fill="#5f5f5f"/><rect x="177" y="519" width="2" height="2" fill="#555555"/><rect x="179" y="519" width="2" height="2" fill="#595959"/><rect x="115" y="521" width="2" height="2" fill="#b9b9b9"/><rect x="117" y="521" width="2" height="2" fill="#a7a7a7"/><rect x="119" y="521" width="2" height="2" fill="#9c9c9c"/><rect x="121" y="521" width="2" height="2" fill="#aaaaaa"/><rect x="123" y="521" width="2" height="2" fill="#9a9a9a"/><rect x="125" y="521" width="2" height="2" fill="#9c9c9c"/><rect x="127" y="521" width="2" height="2" fill="#a1a1a1"/><rect x="129" y="521" width="2" height="2" fill="#9b9b9b"/><rect x="131" y="521" width="2" height="2" fill="#929292"/><rect x="133" y="521" width="2" height="2" fill="#929292"/><rect x="135" y="521" width="2" height="2" fill="#909090"/><rect x="137" y="521" width="2" height="2" fill="#858585"/><rect x="139" y="521" width="2" height="2" fill="#696969"/><rect x="141" y="521" width="2" height="2" fill="#646464"/><rect x="143" y="521" width="2" height="2" fill="#787878"/><rect x="145" y="521" width="2" height="2" fill="#515151"/><rect x="147" y="521" width="2" height="2" fill="#666666"/><rect x="149" y="521" width="2" height="2" fill="#6b6b6b"/><rect x="151" y="521" width="2" height="2" fill="#6b6b6b"/><rect x="153" y="521" width="2" height="2" fill="#4b4b4b"/><rect x="155" y="521" width="2" height="2" fill="#595959"/><rect x="157" y="521" width="2" height="2" fill="#505050"/><rect x="159" y="521" width="2" height="2" fill="#5e5e5e"/><rect x="161" y="521" width="2" height="2" fill="#505050"/><rect x="163" y="521" width="2" height="2" fill="#4c4c4c"/><rect x="165" y="521" width="2" height="2" fill="#3d3d3d"/><rect x="167" y="521" width="2" height="2" fill="#444444"/><rect x="169" y="521" width="2" height="2" fill="#484848"/><rect x="171" y="521" width="2" height="2" fill="#2b2b2b"/><rect x="173" y="521" width="2" height="2" fill="#484848"/><rect x="175" y="521" width="2" height="2" fill="#1d1d1d"/><rect x="177" y="521" width="2" height="2" fill="#525252"/><rect x="179" y="521" width="2" height="2" fill="#4c4c4c"/><rect x="115" y="523" width="2" height="2" fill="#a7a7a7"/><rect x="117" y="523" width="2" height="2" fill="#959595"/><rect x="119" y="523" width="2" height="2" fill="#b3b3b3"/><rect x="121" y="523" width="2" height="2" fill="#9c9c9c"/><rect x="123" y="523" width="2" height="2" fill="#9c9c9c"/><rect x="125" y="523" width="2" height="2" fill="#ababab"/><rect x="127" y="523" width="2" height="2" fill="#9f9f9f"/><rect x="129" y="523" width="2" height="2" fill="#9b9b9b"/><rect x="131" y="523" width="2" height="2" fill="#939393"/><rect x="133" y="523" width="2" height="2" fill="#888888"/><rect x="135" y="523" width="2" height="2" fill="#959595"/><rect x="137" y="523" width="2" height="2" fill="#828282"/><rect x="139" y="523" width="2" height="2" fill="#7f7f7f"/><rect x="141" y="523" width="2" height="2" fill="#5f5f5f"/><rect x="143" y="523" width="2" height="2" fill="#646464"/><rect x="145" y="523" width="2" height="2" fill="#575757"/><rect x="147" y="523" width="2" height="2" fill="#454545"/><rect x="149" y="523" width="2" height="2" fill="#4d4d4d"/><rect x="151" y="523" width="2" height="2" fill="#5c5c5c"/><rect x="153" y="523" width="2" height="2" fill="#3c3c3c"/><rect x="155" y="523" width="2" height="2" fill="#494949"/><rect x="157" y="523" width="2" height="2" fill="#626262"/><rect x="159" y="523" width="2" height="2" fill="#404040"/><rect x="161" y="523" width="2" height="2" fill="#3f3f3f"/><rect x="163" y="523" width="2" height="2" fill="#484848"/><rect x="165" y="523" width="2" height="2" fill="#4d4d4d"/><rect x="167" y="523" width="2" height="2" fill="#3b3b3b"/><rect x="169" y="523" width="2" height="2" fill="#3b3b3b"/><rect x="171" y="523" width="2" height="2" fill="#636363"/><rect x="173" y="523" width="2" height="2" fill="#4c4c4c"/><rect x="175" y="523" width="2" height="2" fill="#323232"/><rect x="177" y="523" width="2" height="2" fill="#3c3c3c"/><rect x="179" y="523" width="2" height="2" fill="#444444"/><rect x="115" y="525" width="2" height="2" fill="#a9a9a9"/><rect x="117" y="525" width="2" height="2" fill="#ababab"/><rect x="119" y="525" width="2" height="2" fill="#a5a5a5"/><rect x="121" y="525" width="2" height="2" fill="#999999"/><rect x="123" y="525" width="2" height="2" fill="#a6a6a6"/><rect x="125" y="525" width="2" height="2" fill="#9d9d9d"/><rect x="127" y="525" width="2" height="2" fill="#a6a6a6"/><rect x="129" y="525" width="2" height="2" fill="#919191"/><rect x="131" y="525" width="2" height="2" fill="#7e7e7e"/><rect x="133" y="525" width="2" height="2" fill="#909090"/><rect x="135" y="525" width="2" height="2" fill="#646464"/><rect x="137" y="525" width="2" height="2" fill="#6d6d6d"/><rect x="139" y="525" width="2" height="2" fill="#717171"/><rect x="141" y="525" width="2" height="2" fill="#323232"/><rect x="143" y="525" width="2" height="2" fill="#646464"/><rect x="145" y="525" width="2" height="2" fill="#4f4f4f"/><rect x="147" y="525" width="2" height="2" fill="#676767"/><rect x="149" y="525" width="2" height="2" fill="#5e5e5e"/><rect x="151" y="525" width="2" height="2" fill="#777777"/><rect x="153" y="525" width="2" height="2" fill="#606060"/><rect x="155" y="525" width="2" height="2" fill="#515151"/><rect x="157" y="525" width="2" height="2" fill="#5c5c5c"/><rect x="159" y="525" width="2" height="2" fill="#505050"/><rect x="161" y="525" width="2" height="2" fill="#4a4a4a"/><rect x="163" y="525" width="2" height="2" fill="#575757"/><rect x="165" y="525" width="2" height="2" fill="#343434"/><rect x="167" y="525" width="2" height="2" fill="#343434"/><rect x="169" y="525" width="2" height="2" fill="#4a4a4a"/><rect x="171" y="525" width="2" height="2" fill="#575757"/><rect x="173" y="525" width="2" height="2" fill="#4e4e4e"/><rect x="175" y="525" width="2" height="2" fill="#5e5e5e"/><rect x="177" y="525" width="2" height="2" fill="#4e4e4e"/><rect x="179" y="525" width="2" height="2" fill="#4a4a4a"/><rect x="115" y="527" width="2" height="2" fill="#acacac"/><rect x="117" y="527" width="2" height="2" fill="#9d9d9d"/><rect x="119" y="527" width="2" height="2" fill="#a7a7a7"/><rect x="121" y="527" width="2" height="2" fill="#a0a0a0"/><rect x="123" y="527" width="2" height="2" fill="#a1a1a1"/><rect x="125" y="527" width="2" height="2" fill="#9a9a9a"/><rect x="127" y="527" width="2" height="2" fill="#aeaeae"/><rect x="129" y="527" width="2" height="2" fill="#929292"/><rect x="131" y="527" width="2" height="2" fill="#989898"/><rect x="133" y="527" width="2" height="2" fill="#7b7b7b"/><rect x="135" y="527" width="2" height="2" fill="#787878"/><rect x="137" y="527" width="2" height="2" fill="#797979"/><rect x="139" y="527" width="2" height="2" fill="#686868"/><rect x="141" y="527" width="2" height="2" fill="#666666"/><rect x="143" y="527" width="2" height="2" fill="#525252"/><rect x="145" y="527" width="2" height="2" fill="#6d6d6d"/><rect x="147" y="527" width="2" height="2" fill="#5b5b5b"/><rect x="149" y="527" width="2" height="2" fill="#494949"/><rect x="151" y="527" width="2" height="2" fill="#4d4d4d"/><rect x="153" y="527" width="2" height="2" fill="#606060"/><rect x="155" y="527" width="2" height="2" fill="#3d3d3d"/><rect x="157" y="527" width="2" height="2" fill="#606060"/><rect x="159" y="527" width="2" height="2" fill="#4e4e4e"/><rect x="161" y="527" width="2" height="2" fill="#474747"/><rect x="163" y="527" width="2" height="2" fill="#484848"/><rect x="165" y="527" width="2" height="2" fill="#4e4e4e"/><rect x="167" y="527" width="2" height="2" fill="#1f1f1f"/><rect x="169" y="527" width="2" height="2" fill="#393939"/><rect x="171" y="527" width="2" height="2" fill="#393939"/><rect x="173" y="527" width="2" height="2" fill="#333333"/><rect x="175" y="527" width="2" height="2" fill="#101010"/><rect x="177" y="527" width="2" height="2" fill="#3f3f3f"/><rect x="179" y="527" width="2" height="2" fill="#393939"/><rect x="115" y="529" width="2" height="2" fill="#a8a8a8"/><rect x="117" y="529" width="2" height="2" fill="#959595"/><rect x="119" y="529" width="2" height="2" fill="#8e8e8e"/><rect x="121" y="529" width="2" height="2" fill="#979797"/><rect x="123" y="529" width="2" height="2" fill="#9c9c9c"/><rect x="125" y="529" width="2" height="2" fill="#969696"/><rect x="127" y="529" width="2" height="2" fill="#929292"/><rect x="129" y="529" width="2" height="2" fill="#9f9f9f"/><rect x="131" y="529" width="2" height="2" fill="#9d9d9d"/><rect x="133" y="529" width="2" height="2" fill="#7e7e7e"/><rect x="135" y="529" width="2" height="2" fill="#707070"/><rect x="137" y="529" width="2" height="2" fill="#575757"/><rect x="139" y="529" width="2" height="2" fill="#666666"/><rect x="141" y="529" width="2" height="2" fill="#727272"/><rect x="143" y="529" width="2" height="2" fill="#666666"/><rect x="145" y="529" width="2" height="2" fill="#616161"/><rect x="147" y="529" width="2" height="2" fill="#4f4f4f"/><rect x="149" y="529" width="2" height="2" fill="#484848"/><rect x="151" y="529" width="2" height="2" fill="#545454"/><rect x="153" y="529" width="2" height="2" fill="#5e5e5e"/><rect x="155" y="529" width="2" height="2" fill="#484848"/><rect x="157" y="529" width="2" height="2" fill="#4f4f4f"/><rect x="159" y="529" width="2" height="2" fill="#585858"/><rect x="161" y="529" width="2" height="2" fill="#393939"/><rect x="163" y="529" width="2" height="2" fill="#3f3f3f"/><rect x="165" y="529" width="2" height="2" fill="#313131"/><rect x="167" y="529" width="2" height="2" fill="#383838"/><rect x="169" y="529" width="2" height="2" fill="#2b2b2b"/><rect x="171" y="529" width="2" height="2" fill="#414141"/><rect x="173" y="529" width="2" height="2" fill="#535353"/><rect x="175" y="529" width="2" height="2" fill="#4b4b4b"/><rect x="177" y="529" width="2" height="2" fill="#1a1a1a"/><rect x="179" y="529" width="2" height="2" fill="#4b4b4b"/><rect x="115" y="531" width="2" height="2" fill="#949494"/><rect x="117" y="531" width="2" height="2" fill="#909090"/><rect x="119" y="531" width="2" height="2" fill="#969696"/><rect x="121" y="531" width="2" height="2" fill="#a5a5a5"/><rect x="123" y="531" width="2" height="2" fill="#a0a0a0"/><rect x="125" y="531" width="2" height="2" fill="#9e9e9e"/><rect x="127" y="531" width="2" height="2" fill="#868686"/><rect x="129" y="531" width="2" height="2" fill="#7e7e7e"/><rect x="131" y="531" width="2" height="2" fill="#6f6f6f"/><rect x="133" y="531" width="2" height="2" fill="#6a6a6a"/><rect x="135" y="531" width="2" height="2" fill="#6a6a6a"/><rect x="137" y="531" width="2" height="2" fill="#5b5b5b"/><rect x="139" y="531" width="2" height="2" fill="#626262"/><rect x="141" y="531" width="2" height="2" fill="#7a7a7a"/><rect x="143" y="531" width="2" height="2" fill="#5a5a5a"/><rect x="145" y="531" width="2" height="2" fill="#232323"/><rect x="147" y="531" width="2" height="2" fill="#595959"/><rect x="149" y="531" width="2" height="2" fill="#545454"/><rect x="151" y="531" width="2" height="2" fill="#343434"/><rect x="153" y="531" width="2" height="2" fill="#686868"/><rect x="155" y="531" width="2" height="2" fill="#474747"/><rect x="157" y="531" width="2" height="2" fill="#353535"/><rect x="159" y="531" width="2" height="2" fill="#1e1e1e"/><rect x="161" y="531" width="2" height="2" fill="#4b4b4b"/><rect x="163" y="531" width="2" height="2" fill="#494949"/><rect x="165" y="531" width="2" height="2" fill="#616161"/><rect x="167" y="531" width="2" height="2" fill="#303030"/><rect x="169" y="531" width="2" height="2" fill="#535353"/><rect x="171" y="531" width="2" height="2" fill="#4d4d4d"/><rect x="173" y="531" width="2" height="2" fill="#323232"/><rect x="175" y="531" width="2" height="2" fill="#565656"/><rect x="177" y="531" width="2" height="2" fill="#3c3c3c"/><rect x="179" y="531" width="2" height="2" fill="#323232"/><rect x="115" y="533" width="2" height="2" fill="#a5a5a5"/><rect x="117" y="533" width="2" height="2" fill="#a4a4a4"/><rect x="119" y="533" width="2" height="2" fill="#919191"/><rect x="121" y="533" width="2" height="2" fill="#9f9f9f"/><rect x="123" y="533" width="2" height="2" fill="#9b9b9b"/><rect x="125" y="533" width="2" height="2" fill="#9a9a9a"/><rect x="127" y="533" width="2" height="2" fill="#969696"/><rect x="129" y="533" width="2" height="2" fill="#939393"/><rect x="131" y="533" width="2" height="2" fill="#4e4e4e"/><rect x="133" y="533" width="2" height="2" fill="#444444"/><rect x="135" y="533" width="2" height="2" fill="#6e6e6e"/><rect x="137" y="533" width="2" height="2" fill="#484848"/><rect x="139" y="533" width="2" height="2" fill="#5b5b5b"/><rect x="141" y="533" width="2" height="2" fill="#575757"/><rect x="143" y="533" width="2" height="2" fill="#2b2b2b"/><rect x="145" y="533" width="2" height="2" fill="#4c4c4c"/><rect x="147" y="533" width="2" height="2" fill="#666666"/><rect x="149" y="533" width="2" height="2" fill="#484848"/><rect x="151" y="533" width="2" height="2" fill="#4e4e4e"/><rect x="153" y="533" width="2" height="2" fill="#515151"/><rect x="155" y="533" width="2" height="2" fill="#494949"/><rect x="157" y="533" width="2" height="2" fill="#353535"/><rect x="159" y="533" width="2" height="2" fill="#3b3b3b"/><rect x="161" y="533" width="2" height="2" fill="#404040"/><rect x="163" y="533" width="2" height="2" fill="#333333"/><rect x="165" y="533" width="2" height="2" fill="#484848"/><rect x="167" y="533" width="2" height="2" fill="#585858"/><rect x="169" y="533" width="2" height="2" fill="#414141"/><rect x="171" y="533" width="2" height="2" fill="#404040"/><rect x="173" y="533" width="2" height="2" fill="#2d2d2d"/><rect x="175" y="533" width="2" height="2" fill="#3c3c3c"/><rect x="177" y="533" width="2" height="2" fill="#393939"/><rect x="179" y="533" width="2" height="2" fill="#484848"/><rect x="115" y="535" width="2" height="2" fill="#999999"/><rect x="117" y="535" width="2" height="2" fill="#959595"/><rect x="119" y="535" width="2" height="2" fill="#9a9a9a"/><rect x="121" y="535" width="2" height="2" fill="#9e9e9e"/><rect x="123" y="535" width="2" height="2" fill="#979797"/><rect x="125" y="535" width="2" height="2" fill="#969696"/><rect x="127" y="535" width="2" height="2" fill="#9e9e9e"/><rect x="129" y="535" width="2" height="2" fill="#7b7b7b"/><rect x="131" y="535" width="2" height="2" fill="#6b6b6b"/><rect x="133" y="535" width="2" height="2" fill="#6e6e6e"/><rect x="135" y="535" width="2" height="2" fill="#646464"/><rect x="137" y="535" width="2" height="2" fill="#616161"/><rect x="139" y="535" width="2" height="2" fill="#535353"/><rect x="141" y="535" width="2" height="2" fill="#5d5d5d"/><rect x="143" y="535" width="2" height="2" fill="#505050"/><rect x="145" y="535" width="2" height="2" fill="#616161"/><rect x="147" y="535" width="2" height="2" fill="#505050"/><rect x="149" y="535" width="2" height="2" fill="#3b3b3b"/><rect x="151" y="535" width="2" height="2" fill="#1c1c1c"/><rect x="153" y="535" width="2" height="2" fill="#454545"/><rect x="155" y="535" width="2" height="2" fill="#3f3f3f"/><rect x="157" y="535" width="2" height="2" fill="#505050"/><rect x="159" y="535" width="2" height="2" fill="#5d5d5d"/><rect x="161" y="535" width="2" height="2" fill="#4b4b4b"/><rect x="163" y="535" width="2" height="2" fill="#282828"/><rect x="165" y="535" width="2" height="2" fill="#161616"/><rect x="167" y="535" width="2" height="2" fill="#434343"/><rect x="169" y="535" width="2" height="2" fill="#343434"/><rect x="171" y="535" width="2" height="2" fill="#090909"/><rect x="173" y="535" width="2" height="2" fill="#363636"/><rect x="175" y="535" width="2" height="2" fill="#232323"/><rect x="177" y="535" width="2" height="2" fill="#262626"/><rect x="179" y="535" width="2" height="2" fill="#424242"/><rect x="115" y="537" width="2" height="2" fill="#9c9c9c"/><rect x="117" y="537" width="2" height="2" fill="#9e9e9e"/><rect x="119" y="537" width="2" height="2" fill="#aaaaaa"/><rect x="121" y="537" width="2" height="2" fill="#909090"/><rect x="123" y="537" width="2" height="2" fill="#a1a1a1"/><rect x="125" y="537" width="2" height="2" fill="#898989"/><rect x="127" y="537" width="2" height="2" fill="#909090"/><rect x="129" y="537" width="2" height="2" fill="#767676"/><rect x="131" y="537" width="2" height="2" fill="#707070"/><rect x="133" y="537" width="2" height="2" fill="#595959"/><rect x="135" y="537" width="2" height="2" fill="#5e5e5e"/><rect x="137" y="537" width="2" height="2" fill="#5b5b5b"/><rect x="139" y="537" width="2" height="2" fill="#6a6a6a"/><rect x="141" y="537" width="2" height="2" fill="#6a6a6a"/><rect x="143" y="537" width="2" height="2" fill="#474747"/><rect x="145" y="537" width="2" height="2" fill="#656565"/><rect x="147" y="537" width="2" height="2" fill="#4e4e4e"/><rect x="149" y="537" width="2" height="2" fill="#525252"/><rect x="151" y="537" width="2" height="2" fill="#595959"/><rect x="153" y="537" width="2" height="2" fill="#313131"/><rect x="155" y="537" width="2" height="2" fill="#3a3a3a"/><rect x="157" y="537" width="2" height="2" fill="#414141"/><rect x="159" y="537" width="2" height="2" fill="#353535"/><rect x="161" y="537" width="2" height="2" fill="#333333"/><rect x="163" y="537" width="2" height="2" fill="#202020"/><rect x="165" y="537" width="2" height="2" fill="#252525"/><rect x="167" y="537" width="2" height="2" fill="#303030"/><rect x="169" y="537" width="2" height="2" fill="#2a2a2a"/><rect x="171" y="537" width="2" height="2" fill="#343434"/><rect x="173" y="537" width="2" height="2" fill="#595959"/><rect x="175" y="537" width="2" height="2" fill="#303030"/><rect x="177" y="537" width="2" height="2" fill="#2a2a2a"/><rect x="179" y="537" width="2" height="2" fill="#353535"/><rect x="115" y="539" width="2" height="2" fill="#8e8e8e"/><rect x="117" y="539" width="2" height="2" fill="#9c9c9c"/><rect x="119" y="539" width="2" height="2" fill="#909090"/><rect x="121" y="539" width="2" height="2" fill="#999999"/><rect x="123" y="539" width="2" height="2" fill="#9b9b9b"/><rect x="125" y="539" width="2" height="2" fill="#9a9a9a"/><rect x="127" y="539" width="2" height="2" fill="#7c7c7c"/><rect x="129" y="539" width="2" height="2" fill="#7d7d7d"/><rect x="131" y="539" width="2" height="2" fill="#6f6f6f"/><rect x="133" y="539" width="2" height="2" fill="#616161"/><rect x="135" y="539" width="2" height="2" fill="#686868"/><rect x="137" y="539" width="2" height="2" fill="#4f4f4f"/><rect x="139" y="539" width="2" height="2" fill="#606060"/><rect x="141" y="539" width="2" height="2" fill="#333333"/><rect x="143" y="539" width="2" height="2" fill="#676767"/><rect x="145" y="539" width="2" height="2" fill="#414141"/><rect x="147" y="539" width="2" height="2" fill="#4c4c4c"/><rect x="149" y="539" width="2" height="2" fill="#434343"/><rect x="151" y="539" width="2" height="2" fill="#4a4a4a"/><rect x="153" y="539" width="2" height="2" fill="#2c2c2c"/><rect x="155" y="539" width="2" height="2" fill="#3f3f3f"/><rect x="157" y="539" width="2" height="2" fill="#404040"/><rect x="159" y="539" width="2" height="2" fill="#3e3e3e"/><rect x="161" y="539" width="2" height="2" fill="#222222"/><rect x="163" y="539" width="2" height="2" fill="#464646"/><rect x="165" y="539" width="2" height="2" fill="#353535"/><rect x="167" y="539" width="2" height="2" fill="#484848"/><rect x="169" y="539" width="2" height="2" fill="#393939"/><rect x="171" y="539" width="2" height="2" fill="#000000"/><rect x="173" y="539" width="2" height="2" fill="#2b2b2b"/><rect x="175" y="539" width="2" height="2" fill="#343434"/><rect x="177" y="539" width="2" height="2" fill="#1a1a1a"/><rect x="179" y="539" width="2" height="2" fill="#3a3a3a"/><rect x="115" y="541" width="2" height="2" fill="#979797"/><rect x="117" y="541" width="2" height="2" fill="#9e9e9e"/><rect x="119" y="541" width="2" height="2" fill="#9f9f9f"/><rect x="121" y="541" width="2" height="2" fill="#a0a0a0"/><rect x="123" y="541" width="2" height="2" fill="#8f8f8f"/><rect x="125" y="541" width="2" height="2" fill="#949494"/><rect x="127" y="541" width="2" height="2" fill="#6f6f6f"/><rect x="129" y="541" width="2" height="2" fill="#2e2e2e"/><rect x="131" y="541" width="2" height="2" fill="#5c5c5c"/><rect x="133" y="541" width="2" height="2" fill="#616161"/><rect x="135" y="541" width="2" height="2" fill="#585858"/><rect x="137" y="541" width="2" height="2" fill="#4b4b4b"/><rect x="139" y="541" width="2" height="2" fill="#484848"/><rect x="141" y="541" width="2" height="2" fill="#4d4d4d"/><rect x="143" y="541" width="2" height="2" fill="#363636"/><rect x="145" y="541" width="2" height="2" fill="#5a5a5a"/><rect x="147" y="541" width="2" height="2" fill="#404040"/><rect x="149" y="541" width="2" height="2" fill="#1e1e1e"/><rect x="151" y="541" width="2" height="2" fill="#1f1f1f"/><rect x="153" y="541" width="2" height="2" fill="#232323"/><rect x="155" y="541" width="2" height="2" fill="#393939"/><rect x="157" y="541" width="2" height="2" fill="#424242"/><rect x="159" y="541" width="2" height="2" fill="#393939"/><rect x="161" y="541" width="2" height="2" fill="#3f3f3f"/><rect x="163" y="541" width="2" height="2" fill="#3e3e3e"/><rect x="165" y="541" width="2" height="2" fill="#2e2e2e"/><rect x="167" y="541" width="2" height="2" fill="#272727"/><rect x="169" y="541" width="2" height="2" fill="#303030"/><rect x="171" y="541" width="2" height="2" fill="#222222"/><rect x="173" y="541" width="2" height="2" fill="#343434"/><rect x="175" y="541" width="2" height="2" fill="#282828"/><rect x="177" y="541" width="2" height="2" fill="#3c3c3c"/><rect x="179" y="541" width="2" height="2" fill="#313131"/><rect x="115" y="543" width="2" height="2" fill="#979797"/><rect x="117" y="543" width="2" height="2" fill="#989898"/><rect x="119" y="543" width="2" height="2" fill="#939393"/><rect x="121" y="543" width="2" height="2" fill="#858585"/><rect x="123" y="543" width="2" height="2" fill="#9c9c9c"/><rect x="125" y="543" width="2" height="2" fill="#363636"/><rect x="127" y="543" width="2" height="2" fill="#6c6c6c"/><rect x="129" y="543" width="2" height="2" fill="#565656"/><rect x="131" y="543" width="2" height="2" fill="#6d6d6d"/><rect x="133" y="543" width="2" height="2" fill="#707070"/><rect x="135" y="543" width="2" height="2" fill="#313131"/><rect x="137" y="543" width="2" height="2" fill="#656565"/><rect x="139" y="543" width="2" height="2" fill="#484848"/><rect x="141" y="543" width="2" height="2" fill="#4e4e4e"/><rect x="143" y="543" width="2" height="2" fill="#3d3d3d"/><rect x="145" y="543" width="2" height="2" fill="#575757"/><rect x="147" y="543" width="2" height="2" fill="#535353"/><rect x="149" y="543" width="2" height="2" fill="#272727"/><rect x="151" y="543" width="2" height="2" fill="#2d2d2d"/><rect x="153" y="543" width="2" height="2" fill="#4e4e4e"/><rect x="155" y="543" width="2" height="2" fill="#262626"/><rect x="157" y="543" width="2" height="2" fill="#343434"/><rect x="159" y="543" width="2" height="2" fill="#000000"/><rect x="161" y="543" width="2" height="2" fill="#3a3a3a"/><rect x="163" y="543" width="2" height="2" fill="#363636"/><rect x="165" y="543" width="2" height="2" fill="#404040"/><rect x="167" y="543" width="2" height="2" fill="#3f3f3f"/><rect x="169" y="543" width="2" height="2" fill="#3e3e3e"/><rect x="171" y="543" width="2" height="2" fill="#2c2c2c"/><rect x="173" y="543" width="2" height="2" fill="#1b1b1b"/><rect x="175" y="543" width="2" height="2" fill="#2f2f2f"/><rect x="177" y="543" width="2" height="2" fill="#252525"/><rect x="179" y="543" width="2" height="2" fill="#0b0b0b"/><rect x="115" y="545" width="2" height="2" fill="#979797"/><rect x="117" y="545" width="2" height="2" fill="#a4a4a4"/><rect x="119" y="545" width="2" height="2" fill="#949494"/><rect x="121" y="545" width="2" height="2" fill="#9b9b9b"/><rect x="123" y="545" width="2" height="2" fill="#8a8a8a"/><rect x="125" y="545" width="2" height="2" fill="#4b4b4b"/><rect x="127" y="545" width="2" height="2" fill="#707070"/><rect x="129" y="545" width="2" height="2" fill="#5b5b5b"/><rect x="131" y="545" width="2" height="2" fill="#5c5c5c"/><rect x="133" y="545" width="2" height="2" fill="#686868"/><rect x="135" y="545" width="2" height="2" fill="#5f5f5f"/><rect x="137" y="545" width="2" height="2" fill="#575757"/><rect x="139" y="545" width="2" height="2" fill="#393939"/><rect x="141" y="545" width="2" height="2" fill="#4d4d4d"/><rect x="143" y="545" width="2" height="2" fill="#2a2a2a"/><rect x="145" y="545" width="2" height="2" fill="#303030"/><rect x="147" y="545" width="2" height="2" fill="#444444"/><rect x="149" y="545" width="2" height="2" fill="#353535"/><rect x="151" y="545" width="2" height="2" fill="#464646"/><rect x="153" y="545" width="2" height="2" fill="#1f1f1f"/><rect x="155" y="545" width="2" height="2" fill="#3b3b3b"/><rect x="157" y="545" width="2" height="2" fill="#161616"/><rect x="159" y="545" width="2" height="2" fill="#444444"/><rect x="161" y="545" width="2" height="2" fill="#2d2d2d"/><rect x="163" y="545" width="2" height="2" fill="#414141"/><rect x="165" y="545" width="2" height="2" fill="#050505"/><rect x="167" y="545" width="2" height="2" fill="#212121"/><rect x="169" y="545" width="2" height="2" fill="#000000"/><rect x="171" y="545" width="2" height="2" fill="#333333"/><rect x="173" y="545" width="2" height="2" fill="#212121"/><rect x="175" y="545" width="2" height="2" fill="#323232"/><rect x="177" y="545" width="2" height="2" fill="#363636"/><rect x="179" y="545" width="2" height="2" fill="#454545"/><rect x="115" y="547" width="2" height="2" fill="#9b9b9b"/><rect x="117" y="547" width="2" height="2" fill="#9a9a9a"/><rect x="119" y="547" width="2" height="2" fill="#8e8e8e"/><rect x="121" y="547" width="2" height="2" fill="#8a8a8a"/><rect x="123" y="547" width="2" height="2" fill="#787878"/><rect x="125" y="547" width="2" height="2" fill="#828282"/><rect x="127" y="547" width="2" height="2" fill="#2f2f2f"/><rect x="129" y="547" width="2" height="2" fill="#707070"/><rect x="131" y="547" width="2" height="2" fill="#636363"/><rect x="133" y="547" width="2" height="2" fill="#696969"/><rect x="135" y="547" width="2" height="2" fill="#5c5c5c"/><rect x="137" y="547" width="2" height="2" fill="#595959"/><rect x="139" y="547" width="2" height="2" fill="#585858"/><rect x="141" y="547" width="2" height="2" fill="#545454"/><rect x="143" y="547" width="2" height="2" fill="#343434"/><rect x="145" y="547" width="2" height="2" fill="#454545"/><rect x="147" y="547" width="2" height="2" fill="#3b3b3b"/><rect x="149" y="547" width="2" height="2" fill="#3f3f3f"/><rect x="151" y="547" width="2" height="2" fill="#4a4a4a"/><rect x="153" y="547" width="2" height="2" fill="#353535"/><rect x="155" y="547" width="2" height="2" fill="#1f1f1f"/><rect x="157" y="547" width="2" height="2" fill="#1e1e1e"/><rect x="159" y="547" width="2" height="2" fill="#383838"/><rect x="161" y="547" width="2" height="2" fill="#222222"/><rect x="163" y="547" width="2" height="2" fill="#292929"/><rect x="165" y="547" width="2" height="2" fill="#2f2f2f"/><rect x="167" y="547" width="2" height="2" fill="#2e2e2e"/><rect x="169" y="547" width="2" height="2" fill="#292929"/><rect x="171" y="547" width="2" height="2" fill="#3f3f3f"/><rect x="173" y="547" width="2" height="2" fill="#343434"/><rect x="175" y="547" width="2" height="2" fill="#242424"/><rect x="177" y="547" width="2" height="2" fill="#1f1f1f"/><rect x="179" y="547" width="2" height="2" fill="#222222"/><rect x="115" y="549" width="2" height="2" fill="#a1a1a1"/><rect x="117" y="549" width="2" height="2" fill="#959595"/><rect x="119" y="549" width="2" height="2" fill="#9f9f9f"/><rect x="121" y="549" width="2" height="2" fill="#7a7a7a"/><rect x="123" y="549" width="2" height="2" fill="#6a6a6a"/><rect x="125" y="549" width="2" height="2" fill="#909090"/><rect x="127" y="549" width="2" height="2" fill="#747474"/><rect x="129" y="549" width="2" height="2" fill="#6d6d6d"/><rect x="131" y="549" width="2" height="2" fill="#505050"/><rect x="133" y="549" width="2" height="2" fill="#616161"/><rect x="135" y="549" width="2" height="2" fill="#4f4f4f"/><rect x="137" y="549" width="2" height="2" fill="#494949"/><rect x="139" y="549" width="2" height="2" fill="#343434"/><rect x="141" y="549" width="2" height="2" fill="#2b2b2b"/><rect x="143" y="549" width="2" height="2" fill="#343434"/><rect x="145" y="549" width="2" height="2" fill="#3c3c3c"/><rect x="147" y="549" width="2" height="2" fill="#353535"/><rect x="149" y="549" width="2" height="2" fill="#2a2a2a"/><rect x="151" y="549" width="2" height="2" fill="#383838"/><rect x="153" y="549" width="2" height="2" fill="#282828"/><rect x="155" y="549" width="2" height="2" fill="#020202"/><rect x="157" y="549" width="2" height="2" fill="#3f3f3f"/><rect x="159" y="549" width="2" height="2" fill="#2d2d2d"/><rect x="161" y="549" width="2" height="2" fill="#212121"/><rect x="163" y="549" width="2" height="2" fill="#2d2d2d"/><rect x="165" y="549" width="2" height="2" fill="#000000"/><rect x="167" y="549" width="2" height="2" fill="#262626"/><rect x="169" y="549" width="2" height="2" fill="#292929"/><rect x="171" y="549" width="2" height="2" fill="#242424"/><rect x="173" y="549" width="2" height="2" fill="#222222"/><rect x="175" y="549" width="2" height="2" fill="#232323"/><rect x="177" y="549" width="2" height="2" fill="#2d2d2d"/><rect x="179" y="549" width="2" height="2" fill="#212121"/><rect x="115" y="551" width="2" height="2" fill="#a2a2a2"/><rect x="117" y="551" width="2" height="2" fill="#9a9a9a"/><rect x="119" y="551" width="2" height="2" fill="#7d7d7d"/><rect x="121" y="551" width="2" height="2" fill="#7b7b7b"/><rect x="123" y="551" width="2" height="2" fill="#757575"/><rect x="125" y="551" width="2" height="2" fill="#838383"/><rect x="127" y="551" width="2" height="2" fill="#737373"/><rect x="129" y="551" width="2" height="2" fill="#474747"/><rect x="131" y="551" width="2" height="2" fill="#6b6b6b"/><rect x="133" y="551" width="2" height="2" fill="#3d3d3d"/><rect x="135" y="551" width="2" height="2" fill="#3e3e3e"/><rect x="137" y="551" width="2" height="2" fill="#3f3f3f"/><rect x="139" y="551" width="2" height="2" fill="#444444"/><rect x="141" y="551" width="2" height="2" fill="#393939"/><rect x="143" y="551" width="2" height="2" fill="#424242"/><rect x="145" y="551" width="2" height="2" fill="#494949"/><rect x="147" y="551" width="2" height="2" fill="#020202"/><rect x="149" y="551" width="2" height="2" fill="#464646"/><rect x="151" y="551" width="2" height="2" fill="#313131"/><rect x="153" y="551" width="2" height="2" fill="#333333"/><rect x="155" y="551" width="2" height="2" fill="#363636"/><rect x="157" y="551" width="2" height="2" fill="#2f2f2f"/><rect x="159" y="551" width="2" height="2" fill="#232323"/><rect x="161" y="551" width="2" height="2" fill="#070707"/><rect x="163" y="551" width="2" height="2" fill="#333333"/><rect x="165" y="551" width="2" height="2" fill="#1a1a1a"/><rect x="167" y="551" width="2" height="2" fill="#313131"/><rect x="169" y="551" width="2" height="2" fill="#2c2c2c"/><rect x="171" y="551" width="2" height="2" fill="#1f1f1f"/><rect x="173" y="551" width="2" height="2" fill="#313131"/><rect x="175" y="551" width="2" height="2" fill="#1e1e1e"/><rect x="177" y="551" width="2" height="2" fill="#131313"/><rect x="179" y="551" width="2" height="2" fill="#2a2a2a"/><rect x="115" y="553" width="2" height="2" fill="#757575"/><rect x="117" y="553" width="2" height="2" fill="#6a6a6a"/><rect x="119" y="553" width="2" height="2" fill="#676767"/><rect x="121" y="553" width="2" height="2" fill="#5d5d5d"/><rect x="123" y="553" width="2" height="2" fill="#7f7f7f"/><rect x="125" y="553" width="2" height="2" fill="#6f6f6f"/><rect x="127" y="553" width="2" height="2" fill="#787878"/><rect x="129" y="553" width="2" height="2" fill="#4b4b4b"/><rect x="131" y="553" width="2" height="2" fill="#505050"/><rect x="133" y="553" width="2" height="2" fill="#242424"/><rect x="135" y="553" width="2" height="2" fill="#4c4c4c"/><rect x="137" y="553" width="2" height="2" fill="#313131"/><rect x="139" y="553" width="2" height="2" fill="#3e3e3e"/><rect x="141" y="553" width="2" height="2" fill="#353535"/><rect x="143" y="553" width="2" height="2" fill="#262626"/><rect x="145" y="553" width="2" height="2" fill="#282828"/><rect x="147" y="553" width="2" height="2" fill="#1c1c1c"/><rect x="149" y="553" width="2" height="2" fill="#000000"/><rect x="151" y="553" width="2" height="2" fill="#292929"/><rect x="153" y="553" width="2" height="2" fill="#202020"/><rect x="155" y="553" width="2" height="2" fill="#2a2a2a"/><rect x="157" y="553" width="2" height="2" fill="#3a3a3a"/><rect x="159" y="553" width="2" height="2" fill="#232323"/><rect x="161" y="553" width="2" height="2" fill="#2b2b2b"/><rect x="163" y="553" width="2" height="2" fill="#090909"/><rect x="165" y="553" width="2" height="2" fill="#282828"/><rect x="167" y="553" width="2" height="2" fill="#303030"/><rect x="169" y="553" width="2" height="2" fill="#000000"/><rect x="171" y="553" width="2" height="2" fill="#353535"/><rect x="173" y="553" width="2" height="2" fill="#0f0f0f"/><rect x="175" y="553" width="2" height="2" fill="#313131"/><rect x="177" y="553" width="2" height="2" fill="#1b1b1b"/><rect x="179" y="553" width="2" height="2" fill="#242424"/></g><polygon points="124,556 176.8,529.6 176.8,490 180,490 180,556" fill="#fff"/><polygon points="126,556 176.8,530.5 176.8,532.5 130,556" fill="#eee"/><polyline points="125.8,556 176.8,529.2" fill="none" stroke="#111" stroke-width="0.7"/><polyline points="129.2,556 176.8,531.8" fill="none" stroke="#111" stroke-width="0.7"/><polyline points="174.3,490.5 174.8,500 175.6,512 176.2,522 176.8,529.5" fill="none" stroke="#111" stroke-width="0.7"/><polyline points="118.6,554 119.7,552.2 122,549.5 125.3,544.7 126.5,542.5 128.1,539 129.5,537 131,533.4 132.9,529.6 134.7,526.8 136,524.5 137.6,521.1 139,519.5 140.4,516.4 142.3,513.6 144.2,510.7 145.5,509.5 147,507 149.5,505.5 151.7,503.2 155.5,500.4 157,499.5 159.3,497.5 162.1,494.7 164.9,494.7 166.5,496.5 168.7,495.7 172.5,494.7 175.3,497.5 175.5,505 175.4,512 175.8,520 176,528" fill="none" stroke="#111" stroke-width="0.7"/><circle cx="142.3" cy="503.2" r="1.2" fill="none" stroke="#111" stroke-width="0.6"/><path d="M132.9 520.2L141.5 514.5M151.7 508.9L159.3 505M164 500L167 498.5" stroke="#111" stroke-width="0.8" stroke-dasharray="1.2 1.2" fill="none"/></g><rect x="115.3" y="491.4" width="64.1" height="63.5" fill="none" stroke="#3a3a3a" stroke-width="1"/><line x1="112.3" y1="554.7" x2="115.3" y2="554.7" stroke="#3a3a3a" stroke-width="0.8"/><line x1="112.3" y1="539" x2="115.3" y2="539" stroke="#3a3a3a" stroke-width="0.8"/><line x1="112.3" y1="523.2" x2="115.3" y2="523.2" stroke="#3a3a3a" stroke-width="0.8"/><line x1="112.3" y1="507.4" x2="115.3" y2="507.4" stroke="#3a3a3a" stroke-width="0.8"/><line x1="112.3" y1="491.6" x2="115.3" y2="491.6" stroke="#3a3a3a" stroke-width="0.8"/><line x1="115.5" y1="554.9" x2="115.5" y2="557.9" stroke="#3a3a3a" stroke-width="0.8"/><text x="115.6" y="567.07" font-size="8.4" text-anchor="middle" transform="rotate(-50 115.6 564.17)" textLength="4.6" lengthAdjust="spacingAndGlyphs">0</text><line x1="131.3" y1="554.9" x2="131.3" y2="557.9" stroke="#3a3a3a" stroke-width="0.8"/><text x="131.4" y="569.44" font-size="8.4" text-anchor="middle" transform="rotate(-50 131.4 566.54)" textLength="9.2" lengthAdjust="spacingAndGlyphs">25</text><line x1="147.3" y1="554.9" x2="147.3" y2="557.9" stroke="#3a3a3a" stroke-width="0.8"/><text x="147.4" y="569.44" font-size="8.4" text-anchor="middle" transform="rotate(-50 147.4 566.54)" textLength="9.2" lengthAdjust="spacingAndGlyphs">50</text><line x1="163.3" y1="554.9" x2="163.3" y2="557.9" stroke="#3a3a3a" stroke-width="0.8"/><text x="163.4" y="569.44" font-size="8.4" text-anchor="middle" transform="rotate(-50 163.4 566.54)" textLength="9.2" lengthAdjust="spacingAndGlyphs">75</text><line x1="179.3" y1="554.9" x2="179.3" y2="557.9" stroke="#3a3a3a" stroke-width="0.8"/><text x="179.4" y="571.81" font-size="8.4" text-anchor="middle" transform="rotate(-50 179.4 568.91)" textLength="13.8" lengthAdjust="spacingAndGlyphs">100</text><text x="147.35" y="593.4" font-size="10.6" text-anchor="middle" textLength="54.2" lengthAdjust="spacingAndGlyphs">Tagish Lake</text><text x="147.35" y="603.2" font-size="10.6" text-anchor="middle" textLength="19.4" lengthAdjust="spacingAndGlyphs">wt%</text><g clip-path="url(#c6)"><g shape-rendering="crispEdges"><rect x="192" y="491" width="2" height="2" fill="#979797"/><rect x="194" y="491" width="2" height="2" fill="#a1a1a1"/><rect x="196" y="491" width="2" height="2" fill="#9f9f9f"/><rect x="198" y="491" width="2" height="2" fill="#9f9f9f"/><rect x="200" y="491" width="2" height="2" fill="#a9a9a9"/><rect x="202" y="491" width="2" height="2" fill="#929292"/><rect x="204" y="491" width="2" height="2" fill="#989898"/><rect x="206" y="491" width="2" height="2" fill="#919191"/><rect x="208" y="491" width="2" height="2" fill="#9b9b9b"/><rect x="210" y="491" width="2" height="2" fill="#a6a6a6"/><rect x="212" y="491" width="2" height="2" fill="#9e9e9e"/><rect x="214" y="491" width="2" height="2" fill="#a4a4a4"/><rect x="216" y="491" width="2" height="2" fill="#8e8e8e"/><rect x="218" y="491" width="2" height="2" fill="#a2a2a2"/><rect x="220" y="491" width="2" height="2" fill="#999999"/><rect x="222" y="491" width="2" height="2" fill="#b2b2b2"/><rect x="224" y="491" width="2" height="2" fill="#ababab"/><rect x="226" y="491" width="2" height="2" fill="#adadad"/><rect x="228" y="491" width="2" height="2" fill="#a6a6a6"/><rect x="230" y="491" width="2" height="2" fill="#adadad"/><rect x="232" y="491" width="2" height="2" fill="#afafaf"/><rect x="234" y="491" width="2" height="2" fill="#a7a7a7"/><rect x="236" y="491" width="2" height="2" fill="#a7a7a7"/><rect x="238" y="491" width="2" height="2" fill="#acacac"/><rect x="240" y="491" width="2" height="2" fill="#a9a9a9"/><rect x="242" y="491" width="2" height="2" fill="#aaaaaa"/><rect x="244" y="491" width="2" height="2" fill="#aeaeae"/><rect x="246" y="491" width="2" height="2" fill="#acacac"/><rect x="248" y="491" width="2" height="2" fill="#bababa"/><rect x="250" y="491" width="2" height="2" fill="#a7a7a7"/><rect x="252" y="491" width="2" height="2" fill="#bfbfbf"/><rect x="254" y="491" width="2" height="2" fill="#b3b3b3"/><rect x="256" y="491" width="2" height="2" fill="#b4b4b4"/><rect x="192" y="493" width="2" height="2" fill="#8a8a8a"/><rect x="194" y="493" width="2" height="2" fill="#959595"/><rect x="196" y="493" width="2" height="2" fill="#959595"/><rect x="198" y="493" width="2" height="2" fill="#9a9a9a"/><rect x="200" y="493" width="2" height="2" fill="#959595"/><rect x="202" y="493" width="2" height="2" fill="#9d9d9d"/><rect x="204" y="493" width="2" height="2" fill="#adadad"/><rect x="206" y="493" width="2" height="2" fill="#9f9f9f"/><rect x="208" y="493" width="2" height="2" fill="#969696"/><rect x="210" y="493" width="2" height="2" fill="#a5a5a5"/><rect x="212" y="493" width="2" height="2" fill="#9c9c9c"/><rect x="214" y="493" width="2" height="2" fill="#a3a3a3"/><rect x="216" y="493" width="2" height="2" fill="#a4a4a4"/><rect x="218" y="493" width="2" height="2" fill="#9c9c9c"/><rect x="220" y="493" width="2" height="2" fill="#8f8f8f"/><rect x="222" y="493" width="2" height="2" fill="#9e9e9e"/><rect x="224" y="493" width="2" height="2" fill="#a7a7a7"/><rect x="226" y="493" width="2" height="2" fill="#a0a0a0"/><rect x="228" y="493" width="2" height="2" fill="#a9a9a9"/><rect x="230" y="493" width="2" height="2" fill="#afafaf"/><rect x="232" y="493" width="2" height="2" fill="#a3a3a3"/><rect x="234" y="493" width="2" height="2" fill="#b4b4b4"/><rect x="236" y="493" width="2" height="2" fill="#b9b9b9"/><rect x="238" y="493" width="2" height="2" fill="#b5b5b5"/><rect x="240" y="493" width="2" height="2" fill="#b7b7b7"/><rect x="242" y="493" width="2" height="2" fill="#b8b8b8"/><rect x="244" y="493" width="2" height="2" fill="#c4c4c4"/><rect x="246" y="493" width="2" height="2" fill="#b3b3b3"/><rect x="248" y="493" width="2" height="2" fill="#b2b2b2"/><rect x="250" y="493" width="2" height="2" fill="#bababa"/><rect x="252" y="493" width="2" height="2" fill="#aeaeae"/><rect x="254" y="493" width="2" height="2" fill="#aaaaaa"/><rect x="256" y="493" width="2" height="2" fill="#b0b0b0"/><rect x="192" y="495" width="2" height="2" fill="#747474"/><rect x="194" y="495" width="2" height="2" fill="#888888"/><rect x="196" y="495" width="2" height="2" fill="#858585"/><rect x="198" y="495" width="2" height="2" fill="#949494"/><rect x="200" y="495" width="2" height="2" fill="#979797"/><rect x="202" y="495" width="2" height="2" fill="#9b9b9b"/><rect x="204" y="495" width="2" height="2" fill="#a1a1a1"/><rect x="206" y="495" width="2" height="2" fill="#a6a6a6"/><rect x="208" y="495" width="2" height="2" fill="#9c9c9c"/><rect x="210" y="495" width="2" height="2" fill="#a1a1a1"/><rect x="212" y="495" width="2" height="2" fill="#929292"/><rect x="214" y="495" width="2" height="2" fill="#929292"/><rect x="216" y="495" width="2" height="2" fill="#a0a0a0"/><rect x="218" y="495" width="2" height="2" fill="#a4a4a4"/><rect x="220" y="495" width="2" height="2" fill="#a6a6a6"/><rect x="222" y="495" width="2" height="2" fill="#a6a6a6"/><rect x="224" y="495" width="2" height="2" fill="#a8a8a8"/><rect x="226" y="495" width="2" height="2" fill="#aaaaaa"/><rect x="228" y="495" width="2" height="2" fill="#949494"/><rect x="230" y="495" width="2" height="2" fill="#9e9e9e"/><rect x="232" y="495" width="2" height="2" fill="#ababab"/><rect x="234" y="495" width="2" height="2" fill="#adadad"/><rect x="236" y="495" width="2" height="2" fill="#9b9b9b"/><rect x="238" y="495" width="2" height="2" fill="#b5b5b5"/><rect x="240" y="495" width="2" height="2" fill="#a8a8a8"/><rect x="242" y="495" width="2" height="2" fill="#ababab"/><rect x="244" y="495" width="2" height="2" fill="#b1b1b1"/><rect x="246" y="495" width="2" height="2" fill="#b7b7b7"/><rect x="248" y="495" width="2" height="2" fill="#a4a4a4"/><rect x="250" y="495" width="2" height="2" fill="#bcbcbc"/><rect x="252" y="495" width="2" height="2" fill="#b6b6b6"/><rect x="254" y="495" width="2" height="2" fill="#b0b0b0"/><rect x="256" y="495" width="2" height="2" fill="#b4b4b4"/><rect x="192" y="497" width="2" height="2" fill="#505050"/><rect x="194" y="497" width="2" height="2" fill="#707070"/><rect x="196" y="497" width="2" height="2" fill="#6a6a6a"/><rect x="198" y="497" width="2" height="2" fill="#969696"/><rect x="200" y="497" width="2" height="2" fill="#a1a1a1"/><rect x="202" y="497" width="2" height="2" fill="#9a9a9a"/><rect x="204" y="497" width="2" height="2" fill="#989898"/><rect x="206" y="497" width="2" height="2" fill="#9e9e9e"/><rect x="208" y="497" width="2" height="2" fill="#acacac"/><rect x="210" y="497" width="2" height="2" fill="#979797"/><rect x="212" y="497" width="2" height="2" fill="#a0a0a0"/><rect x="214" y="497" width="2" height="2" fill="#8e8e8e"/><rect x="216" y="497" width="2" height="2" fill="#a8a8a8"/><rect x="218" y="497" width="2" height="2" fill="#a3a3a3"/><rect x="220" y="497" width="2" height="2" fill="#aaaaaa"/><rect x="222" y="497" width="2" height="2" fill="#9f9f9f"/><rect x="224" y="497" width="2" height="2" fill="#979797"/><rect x="226" y="497" width="2" height="2" fill="#aaaaaa"/><rect x="228" y="497" width="2" height="2" fill="#aaaaaa"/><rect x="230" y="497" width="2" height="2" fill="#9c9c9c"/><rect x="232" y="497" width="2" height="2" fill="#989898"/><rect x="234" y="497" width="2" height="2" fill="#ababab"/><rect x="236" y="497" width="2" height="2" fill="#a6a6a6"/><rect x="238" y="497" width="2" height="2" fill="#c1c1c1"/><rect x="240" y="497" width="2" height="2" fill="#a5a5a5"/><rect x="242" y="497" width="2" height="2" fill="#a7a7a7"/><rect x="244" y="497" width="2" height="2" fill="#acacac"/><rect x="246" y="497" width="2" height="2" fill="#a0a0a0"/><rect x="248" y="497" width="2" height="2" fill="#a8a8a8"/><rect x="250" y="497" width="2" height="2" fill="#c1c1c1"/><rect x="252" y="497" width="2" height="2" fill="#b3b3b3"/><rect x="254" y="497" width="2" height="2" fill="#b0b0b0"/><rect x="256" y="497" width="2" height="2" fill="#aaaaaa"/><rect x="192" y="499" width="2" height="2" fill="#727272"/><rect x="194" y="499" width="2" height="2" fill="#6e6e6e"/><rect x="196" y="499" width="2" height="2" fill="#707070"/><rect x="198" y="499" width="2" height="2" fill="#646464"/><rect x="200" y="499" width="2" height="2" fill="#838383"/><rect x="202" y="499" width="2" height="2" fill="#8d8d8d"/><rect x="204" y="499" width="2" height="2" fill="#969696"/><rect x="206" y="499" width="2" height="2" fill="#979797"/><rect x="208" y="499" width="2" height="2" fill="#8e8e8e"/><rect x="210" y="499" width="2" height="2" fill="#9c9c9c"/><rect x="212" y="499" width="2" height="2" fill="#a4a4a4"/><rect x="214" y="499" width="2" height="2" fill="#9f9f9f"/><rect x="216" y="499" width="2" height="2" fill="#9d9d9d"/><rect x="218" y="499" width="2" height="2" fill="#a4a4a4"/><rect x="220" y="499" width="2" height="2" fill="#a1a1a1"/><rect x="222" y="499" width="2" height="2" fill="#949494"/><rect x="224" y="499" width="2" height="2" fill="#9d9d9d"/><rect x="226" y="499" width="2" height="2" fill="#acacac"/><rect x="228" y="499" width="2" height="2" fill="#989898"/><rect x="230" y="499" width="2" height="2" fill="#a3a3a3"/><rect x="232" y="499" width="2" height="2" fill="#a1a1a1"/><rect x="234" y="499" width="2" height="2" fill="#9d9d9d"/><rect x="236" y="499" width="2" height="2" fill="#9e9e9e"/><rect x="238" y="499" width="2" height="2" fill="#a9a9a9"/><rect x="240" y="499" width="2" height="2" fill="#acacac"/><rect x="242" y="499" width="2" height="2" fill="#aeaeae"/><rect x="244" y="499" width="2" height="2" fill="#9f9f9f"/><rect x="246" y="499" width="2" height="2" fill="#ababab"/><rect x="248" y="499" width="2" height="2" fill="#b2b2b2"/><rect x="250" y="499" width="2" height="2" fill="#b9b9b9"/><rect x="252" y="499" width="2" height="2" fill="#b9b9b9"/><rect x="254" y="499" width="2" height="2" fill="#bcbcbc"/><rect x="256" y="499" width="2" height="2" fill="#bebebe"/><rect x="192" y="501" width="2" height="2" fill="#737373"/><rect x="194" y="501" width="2" height="2" fill="#696969"/><rect x="196" y="501" width="2" height="2" fill="#4a4a4a"/><rect x="198" y="501" width="2" height="2" fill="#868686"/><rect x="200" y="501" width="2" height="2" fill="#525252"/><rect x="202" y="501" width="2" height="2" fill="#a6a6a6"/><rect x="204" y="501" width="2" height="2" fill="#989898"/><rect x="206" y="501" width="2" height="2" fill="#9b9b9b"/><rect x="208" y="501" width="2" height="2" fill="#959595"/><rect x="210" y="501" width="2" height="2" fill="#979797"/><rect x="212" y="501" width="2" height="2" fill="#a4a4a4"/><rect x="214" y="501" width="2" height="2" fill="#a1a1a1"/><rect x="216" y="501" width="2" height="2" fill="#999999"/><rect x="218" y="501" width="2" height="2" fill="#a3a3a3"/><rect x="220" y="501" width="2" height="2" fill="#a5a5a5"/><rect x="222" y="501" width="2" height="2" fill="#9b9b9b"/><rect x="224" y="501" width="2" height="2" fill="#a0a0a0"/><rect x="226" y="501" width="2" height="2" fill="#a2a2a2"/><rect x="228" y="501" width="2" height="2" fill="#9b9b9b"/><rect x="230" y="501" width="2" height="2" fill="#acacac"/><rect x="232" y="501" width="2" height="2" fill="#a2a2a2"/><rect x="234" y="501" width="2" height="2" fill="#9f9f9f"/><rect x="236" y="501" width="2" height="2" fill="#979797"/><rect x="238" y="501" width="2" height="2" fill="#9c9c9c"/><rect x="240" y="501" width="2" height="2" fill="#b6b6b6"/><rect x="242" y="501" width="2" height="2" fill="#a0a0a0"/><rect x="244" y="501" width="2" height="2" fill="#afafaf"/><rect x="246" y="501" width="2" height="2" fill="#a9a9a9"/><rect x="248" y="501" width="2" height="2" fill="#b2b2b2"/><rect x="250" y="501" width="2" height="2" fill="#b5b5b5"/><rect x="252" y="501" width="2" height="2" fill="#ababab"/><rect x="254" y="501" width="2" height="2" fill="#b1b1b1"/><rect x="256" y="501" width="2" height="2" fill="#b4b4b4"/><rect x="192" y="503" width="2" height="2" fill="#676767"/><rect x="194" y="503" width="2" height="2" fill="#353535"/><rect x="196" y="503" width="2" height="2" fill="#787878"/><rect x="198" y="503" width="2" height="2" fill="#5f5f5f"/><rect x="200" y="503" width="2" height="2" fill="#6d6d6d"/><rect x="202" y="503" width="2" height="2" fill="#a7a7a7"/><rect x="204" y="503" width="2" height="2" fill="#959595"/><rect x="206" y="503" width="2" height="2" fill="#969696"/><rect x="208" y="503" width="2" height="2" fill="#8e8e8e"/><rect x="210" y="503" width="2" height="2" fill="#949494"/><rect x="212" y="503" width="2" height="2" fill="#939393"/><rect x="214" y="503" width="2" height="2" fill="#a7a7a7"/><rect x="216" y="503" width="2" height="2" fill="#9c9c9c"/><rect x="218" y="503" width="2" height="2" fill="#959595"/><rect x="220" y="503" width="2" height="2" fill="#acacac"/><rect x="222" y="503" width="2" height="2" fill="#909090"/><rect x="224" y="503" width="2" height="2" fill="#a5a5a5"/><rect x="226" y="503" width="2" height="2" fill="#a7a7a7"/><rect x="228" y="503" width="2" height="2" fill="#a5a5a5"/><rect x="230" y="503" width="2" height="2" fill="#9e9e9e"/><rect x="232" y="503" width="2" height="2" fill="#a1a1a1"/><rect x="234" y="503" width="2" height="2" fill="#a0a0a0"/><rect x="236" y="503" width="2" height="2" fill="#acacac"/><rect x="238" y="503" width="2" height="2" fill="#919191"/><rect x="240" y="503" width="2" height="2" fill="#a3a3a3"/><rect x="242" y="503" width="2" height="2" fill="#aaaaaa"/><rect x="244" y="503" width="2" height="2" fill="#a5a5a5"/><rect x="246" y="503" width="2" height="2" fill="#9b9b9b"/><rect x="248" y="503" width="2" height="2" fill="#aaaaaa"/><rect x="250" y="503" width="2" height="2" fill="#a8a8a8"/><rect x="252" y="503" width="2" height="2" fill="#b8b8b8"/><rect x="254" y="503" width="2" height="2" fill="#bfbfbf"/><rect x="256" y="503" width="2" height="2" fill="#b3b3b3"/><rect x="192" y="505" width="2" height="2" fill="#4a4a4a"/><rect x="194" y="505" width="2" height="2" fill="#585858"/><rect x="196" y="505" width="2" height="2" fill="#7a7a7a"/><rect x="198" y="505" width="2" height="2" fill="#818181"/><rect x="200" y="505" width="2" height="2" fill="#737373"/><rect x="202" y="505" width="2" height="2" fill="#989898"/><rect x="204" y="505" width="2" height="2" fill="#8a8a8a"/><rect x="206" y="505" width="2" height="2" fill="#7d7d7d"/><rect x="208" y="505" width="2" height="2" fill="#818181"/><rect x="210" y="505" width="2" height="2" fill="#858585"/><rect x="212" y="505" width="2" height="2" fill="#9e9e9e"/><rect x="214" y="505" width="2" height="2" fill="#a1a1a1"/><rect x="216" y="505" width="2" height="2" fill="#a8a8a8"/><rect x="218" y="505" width="2" height="2" fill="#919191"/><rect x="220" y="505" width="2" height="2" fill="#939393"/><rect x="222" y="505" width="2" height="2" fill="#9d9d9d"/><rect x="224" y="505" width="2" height="2" fill="#949494"/><rect x="226" y="505" width="2" height="2" fill="#929292"/><rect x="228" y="505" width="2" height="2" fill="#969696"/><rect x="230" y="505" width="2" height="2" fill="#b8b8b8"/><rect x="232" y="505" width="2" height="2" fill="#9d9d9d"/><rect x="234" y="505" width="2" height="2" fill="#9a9a9a"/><rect x="236" y="505" width="2" height="2" fill="#a1a1a1"/><rect x="238" y="505" width="2" height="2" fill="#a6a6a6"/><rect x="240" y="505" width="2" height="2" fill="#b3b3b3"/><rect x="242" y="505" width="2" height="2" fill="#b1b1b1"/><rect x="244" y="505" width="2" height="2" fill="#b1b1b1"/><rect x="246" y="505" width="2" height="2" fill="#acacac"/><rect x="248" y="505" width="2" height="2" fill="#aeaeae"/><rect x="250" y="505" width="2" height="2" fill="#a9a9a9"/><rect x="252" y="505" width="2" height="2" fill="#a3a3a3"/><rect x="254" y="505" width="2" height="2" fill="#c4c4c4"/><rect x="256" y="505" width="2" height="2" fill="#aeaeae"/><rect x="192" y="507" width="2" height="2" fill="#6f6f6f"/><rect x="194" y="507" width="2" height="2" fill="#616161"/><rect x="196" y="507" width="2" height="2" fill="#515151"/><rect x="198" y="507" width="2" height="2" fill="#6a6a6a"/><rect x="200" y="507" width="2" height="2" fill="#6f6f6f"/><rect x="202" y="507" width="2" height="2" fill="#454545"/><rect x="204" y="507" width="2" height="2" fill="#555555"/><rect x="206" y="507" width="2" height="2" fill="#818181"/><rect x="208" y="507" width="2" height="2" fill="#4a4a4a"/><rect x="210" y="507" width="2" height="2" fill="#666666"/><rect x="212" y="507" width="2" height="2" fill="#9a9a9a"/><rect x="214" y="507" width="2" height="2" fill="#a5a5a5"/><rect x="216" y="507" width="2" height="2" fill="#9c9c9c"/><rect x="218" y="507" width="2" height="2" fill="#969696"/><rect x="220" y="507" width="2" height="2" fill="#858585"/><rect x="222" y="507" width="2" height="2" fill="#9b9b9b"/><rect x="224" y="507" width="2" height="2" fill="#8d8d8d"/><rect x="226" y="507" width="2" height="2" fill="#898989"/><rect x="228" y="507" width="2" height="2" fill="#a9a9a9"/><rect x="230" y="507" width="2" height="2" fill="#a6a6a6"/><rect x="232" y="507" width="2" height="2" fill="#a7a7a7"/><rect x="234" y="507" width="2" height="2" fill="#a2a2a2"/><rect x="236" y="507" width="2" height="2" fill="#a3a3a3"/><rect x="238" y="507" width="2" height="2" fill="#a8a8a8"/><rect x="240" y="507" width="2" height="2" fill="#a7a7a7"/><rect x="242" y="507" width="2" height="2" fill="#a8a8a8"/><rect x="244" y="507" width="2" height="2" fill="#afafaf"/><rect x="246" y="507" width="2" height="2" fill="#949494"/><rect x="248" y="507" width="2" height="2" fill="#b3b3b3"/><rect x="250" y="507" width="2" height="2" fill="#a7a7a7"/><rect x="252" y="507" width="2" height="2" fill="#b7b7b7"/><rect x="254" y="507" width="2" height="2" fill="#bbbbbb"/><rect x="256" y="507" width="2" height="2" fill="#a9a9a9"/><rect x="192" y="509" width="2" height="2" fill="#6a6a6a"/><rect x="194" y="509" width="2" height="2" fill="#565656"/><rect x="196" y="509" width="2" height="2" fill="#626262"/><rect x="198" y="509" width="2" height="2" fill="#5c5c5c"/><rect x="200" y="509" width="2" height="2" fill="#606060"/><rect x="202" y="509" width="2" height="2" fill="#666666"/><rect x="204" y="509" width="2" height="2" fill="#7d7d7d"/><rect x="206" y="509" width="2" height="2" fill="#5f5f5f"/><rect x="208" y="509" width="2" height="2" fill="#696969"/><rect x="210" y="509" width="2" height="2" fill="#676767"/><rect x="212" y="509" width="2" height="2" fill="#7a7a7a"/><rect x="214" y="509" width="2" height="2" fill="#7c7c7c"/><rect x="216" y="509" width="2" height="2" fill="#a0a0a0"/><rect x="218" y="509" width="2" height="2" fill="#969696"/><rect x="220" y="509" width="2" height="2" fill="#9b9b9b"/><rect x="222" y="509" width="2" height="2" fill="#a7a7a7"/><rect x="224" y="509" width="2" height="2" fill="#7f7f7f"/><rect x="226" y="509" width="2" height="2" fill="#a9a9a9"/><rect x="228" y="509" width="2" height="2" fill="#9e9e9e"/><rect x="230" y="509" width="2" height="2" fill="#8d8d8d"/><rect x="232" y="509" width="2" height="2" fill="#878787"/><rect x="234" y="509" width="2" height="2" fill="#a3a3a3"/><rect x="236" y="509" width="2" height="2" fill="#989898"/><rect x="238" y="509" width="2" height="2" fill="#acacac"/><rect x="240" y="509" width="2" height="2" fill="#a6a6a6"/><rect x="242" y="509" width="2" height="2" fill="#a4a4a4"/><rect x="244" y="509" width="2" height="2" fill="#b0b0b0"/><rect x="246" y="509" width="2" height="2" fill="#aaaaaa"/><rect x="248" y="509" width="2" height="2" fill="#b0b0b0"/><rect x="250" y="509" width="2" height="2" fill="#b3b3b3"/><rect x="252" y="509" width="2" height="2" fill="#b0b0b0"/><rect x="254" y="509" width="2" height="2" fill="#b6b6b6"/><rect x="256" y="509" width="2" height="2" fill="#b6b6b6"/><rect x="192" y="511" width="2" height="2" fill="#4a4a4a"/><rect x="194" y="511" width="2" height="2" fill="#5b5b5b"/><rect x="196" y="511" width="2" height="2" fill="#494949"/><rect x="198" y="511" width="2" height="2" fill="#636363"/><rect x="200" y="511" width="2" height="2" fill="#777777"/><rect x="202" y="511" width="2" height="2" fill="#636363"/><rect x="204" y="511" width="2" height="2" fill="#656565"/><rect x="206" y="511" width="2" height="2" fill="#4f4f4f"/><rect x="208" y="511" width="2" height="2" fill="#747474"/><rect x="210" y="511" width="2" height="2" fill="#2d2d2d"/><rect x="212" y="511" width="2" height="2" fill="#838383"/><rect x="214" y="511" width="2" height="2" fill="#717171"/><rect x="216" y="511" width="2" height="2" fill="#7b7b7b"/><rect x="218" y="511" width="2" height="2" fill="#8e8e8e"/><rect x="220" y="511" width="2" height="2" fill="#9a9a9a"/><rect x="222" y="511" width="2" height="2" fill="#8c8c8c"/><rect x="224" y="511" width="2" height="2" fill="#959595"/><rect x="226" y="511" width="2" height="2" fill="#949494"/><rect x="228" y="511" width="2" height="2" fill="#989898"/><rect x="230" y="511" width="2" height="2" fill="#909090"/><rect x="232" y="511" width="2" height="2" fill="#a9a9a9"/><rect x="234" y="511" width="2" height="2" fill="#959595"/><rect x="236" y="511" width="2" height="2" fill="#a3a3a3"/><rect x="238" y="511" width="2" height="2" fill="#969696"/><rect x="240" y="511" width="2" height="2" fill="#a6a6a6"/><rect x="242" y="511" width="2" height="2" fill="#b3b3b3"/><rect x="244" y="511" width="2" height="2" fill="#9e9e9e"/><rect x="246" y="511" width="2" height="2" fill="#aaaaaa"/><rect x="248" y="511" width="2" height="2" fill="#a8a8a8"/><rect x="250" y="511" width="2" height="2" fill="#adadad"/><rect x="252" y="511" width="2" height="2" fill="#b0b0b0"/><rect x="254" y="511" width="2" height="2" fill="#a8a8a8"/><rect x="256" y="511" width="2" height="2" fill="#acacac"/><rect x="192" y="513" width="2" height="2" fill="#525252"/><rect x="194" y="513" width="2" height="2" fill="#4a4a4a"/><rect x="196" y="513" width="2" height="2" fill="#515151"/><rect x="198" y="513" width="2" height="2" fill="#646464"/><rect x="200" y="513" width="2" height="2" fill="#6e6e6e"/><rect x="202" y="513" width="2" height="2" fill="#6e6e6e"/><rect x="204" y="513" width="2" height="2" fill="#5d5d5d"/><rect x="206" y="513" width="2" height="2" fill="#595959"/><rect x="208" y="513" width="2" height="2" fill="#5f5f5f"/><rect x="210" y="513" width="2" height="2" fill="#717171"/><rect x="212" y="513" width="2" height="2" fill="#686868"/><rect x="214" y="513" width="2" height="2" fill="#4d4d4d"/><rect x="216" y="513" width="2" height="2" fill="#5e5e5e"/><rect x="218" y="513" width="2" height="2" fill="#5f5f5f"/><rect x="220" y="513" width="2" height="2" fill="#797979"/><rect x="222" y="513" width="2" height="2" fill="#9b9b9b"/><rect x="224" y="513" width="2" height="2" fill="#929292"/><rect x="226" y="513" width="2" height="2" fill="#8d8d8d"/><rect x="228" y="513" width="2" height="2" fill="#9d9d9d"/><rect x="230" y="513" width="2" height="2" fill="#9f9f9f"/><rect x="232" y="513" width="2" height="2" fill="#a6a6a6"/><rect x="234" y="513" width="2" height="2" fill="#9e9e9e"/><rect x="236" y="513" width="2" height="2" fill="#9e9e9e"/><rect x="238" y="513" width="2" height="2" fill="#a3a3a3"/><rect x="240" y="513" width="2" height="2" fill="#999999"/><rect x="242" y="513" width="2" height="2" fill="#9c9c9c"/><rect x="244" y="513" width="2" height="2" fill="#aaaaaa"/><rect x="246" y="513" width="2" height="2" fill="#9b9b9b"/><rect x="248" y="513" width="2" height="2" fill="#a6a6a6"/><rect x="250" y="513" width="2" height="2" fill="#b0b0b0"/><rect x="252" y="513" width="2" height="2" fill="#adadad"/><rect x="254" y="513" width="2" height="2" fill="#b0b0b0"/><rect x="256" y="513" width="2" height="2" fill="#a3a3a3"/><rect x="192" y="515" width="2" height="2" fill="#555555"/><rect x="194" y="515" width="2" height="2" fill="#606060"/><rect x="196" y="515" width="2" height="2" fill="#595959"/><rect x="198" y="515" width="2" height="2" fill="#616161"/><rect x="200" y="515" width="2" height="2" fill="#565656"/><rect x="202" y="515" width="2" height="2" fill="#5d5d5d"/><rect x="204" y="515" width="2" height="2" fill="#6c6c6c"/><rect x="206" y="515" width="2" height="2" fill="#5a5a5a"/><rect x="208" y="515" width="2" height="2" fill="#5f5f5f"/><rect x="210" y="515" width="2" height="2" fill="#6f6f6f"/><rect x="212" y="515" width="2" height="2" fill="#686868"/><rect x="214" y="515" width="2" height="2" fill="#727272"/><rect x="216" y="515" width="2" height="2" fill="#4e4e4e"/><rect x="218" y="515" width="2" height="2" fill="#656565"/><rect x="220" y="515" width="2" height="2" fill="#656565"/><rect x="222" y="515" width="2" height="2" fill="#737373"/><rect x="224" y="515" width="2" height="2" fill="#9a9a9a"/><rect x="226" y="515" width="2" height="2" fill="#959595"/><rect x="228" y="515" width="2" height="2" fill="#9e9e9e"/><rect x="230" y="515" width="2" height="2" fill="#9c9c9c"/><rect x="232" y="515" width="2" height="2" fill="#acacac"/><rect x="234" y="515" width="2" height="2" fill="#9e9e9e"/><rect x="236" y="515" width="2" height="2" fill="#a2a2a2"/><rect x="238" y="515" width="2" height="2" fill="#9c9c9c"/><rect x="240" y="515" width="2" height="2" fill="#9e9e9e"/><rect x="242" y="515" width="2" height="2" fill="#a0a0a0"/><rect x="244" y="515" width="2" height="2" fill="#b0b0b0"/><rect x="246" y="515" width="2" height="2" fill="#a6a6a6"/><rect x="248" y="515" width="2" height="2" fill="#afafaf"/><rect x="250" y="515" width="2" height="2" fill="#a6a6a6"/><rect x="252" y="515" width="2" height="2" fill="#a8a8a8"/><rect x="254" y="515" width="2" height="2" fill="#9b9b9b"/><rect x="256" y="515" width="2" height="2" fill="#b4b4b4"/><rect x="192" y="517" width="2" height="2" fill="#717171"/><rect x="194" y="517" width="2" height="2" fill="#696969"/><rect x="196" y="517" width="2" height="2" fill="#4e4e4e"/><rect x="198" y="517" width="2" height="2" fill="#4d4d4d"/><rect x="200" y="517" width="2" height="2" fill="#6d6d6d"/><rect x="202" y="517" width="2" height="2" fill="#535353"/><rect x="204" y="517" width="2" height="2" fill="#555555"/><rect x="206" y="517" width="2" height="2" fill="#5d5d5d"/><rect x="208" y="517" width="2" height="2" fill="#565656"/><rect x="210" y="517" width="2" height="2" fill="#7b7b7b"/><rect x="212" y="517" width="2" height="2" fill="#5a5a5a"/><rect x="214" y="517" width="2" height="2" fill="#686868"/><rect x="216" y="517" width="2" height="2" fill="#7a7a7a"/><rect x="218" y="517" width="2" height="2" fill="#7d7d7d"/><rect x="220" y="517" width="2" height="2" fill="#6c6c6c"/><rect x="222" y="517" width="2" height="2" fill="#6d6d6d"/><rect x="224" y="517" width="2" height="2" fill="#646464"/><rect x="226" y="517" width="2" height="2" fill="#a9a9a9"/><rect x="228" y="517" width="2" height="2" fill="#989898"/><rect x="230" y="517" width="2" height="2" fill="#9e9e9e"/><rect x="232" y="517" width="2" height="2" fill="#868686"/><rect x="234" y="517" width="2" height="2" fill="#a9a9a9"/><rect x="236" y="517" width="2" height="2" fill="#a1a1a1"/><rect x="238" y="517" width="2" height="2" fill="#acacac"/><rect x="240" y="517" width="2" height="2" fill="#a3a3a3"/><rect x="242" y="517" width="2" height="2" fill="#9a9a9a"/><rect x="244" y="517" width="2" height="2" fill="#979797"/><rect x="246" y="517" width="2" height="2" fill="#a9a9a9"/><rect x="248" y="517" width="2" height="2" fill="#a5a5a5"/><rect x="250" y="517" width="2" height="2" fill="#9f9f9f"/><rect x="252" y="517" width="2" height="2" fill="#a9a9a9"/><rect x="254" y="517" width="2" height="2" fill="#a5a5a5"/><rect x="256" y="517" width="2" height="2" fill="#b1b1b1"/><rect x="192" y="519" width="2" height="2" fill="#212121"/><rect x="194" y="519" width="2" height="2" fill="#525252"/><rect x="196" y="519" width="2" height="2" fill="#3a3a3a"/><rect x="198" y="519" width="2" height="2" fill="#444444"/><rect x="200" y="519" width="2" height="2" fill="#565656"/><rect x="202" y="519" width="2" height="2" fill="#626262"/><rect x="204" y="519" width="2" height="2" fill="#5e5e5e"/><rect x="206" y="519" width="2" height="2" fill="#4e4e4e"/><rect x="208" y="519" width="2" height="2" fill="#5f5f5f"/><rect x="210" y="519" width="2" height="2" fill="#505050"/><rect x="212" y="519" width="2" height="2" fill="#5f5f5f"/><rect x="214" y="519" width="2" height="2" fill="#505050"/><rect x="216" y="519" width="2" height="2" fill="#6b6b6b"/><rect x="218" y="519" width="2" height="2" fill="#5f5f5f"/><rect x="220" y="519" width="2" height="2" fill="#535353"/><rect x="222" y="519" width="2" height="2" fill="#7a7a7a"/><rect x="224" y="519" width="2" height="2" fill="#717171"/><rect x="226" y="519" width="2" height="2" fill="#9e9e9e"/><rect x="228" y="519" width="2" height="2" fill="#939393"/><rect x="230" y="519" width="2" height="2" fill="#9d9d9d"/><rect x="232" y="519" width="2" height="2" fill="#999999"/><rect x="234" y="519" width="2" height="2" fill="#929292"/><rect x="236" y="519" width="2" height="2" fill="#9e9e9e"/><rect x="238" y="519" width="2" height="2" fill="#a0a0a0"/><rect x="240" y="519" width="2" height="2" fill="#969696"/><rect x="242" y="519" width="2" height="2" fill="#a4a4a4"/><rect x="244" y="519" width="2" height="2" fill="#b3b3b3"/><rect x="246" y="519" width="2" height="2" fill="#959595"/><rect x="248" y="519" width="2" height="2" fill="#aaaaaa"/><rect x="250" y="519" width="2" height="2" fill="#aeaeae"/><rect x="252" y="519" width="2" height="2" fill="#a9a9a9"/><rect x="254" y="519" width="2" height="2" fill="#acacac"/><rect x="256" y="519" width="2" height="2" fill="#a7a7a7"/><rect x="192" y="521" width="2" height="2" fill="#626262"/><rect x="194" y="521" width="2" height="2" fill="#4f4f4f"/><rect x="196" y="521" width="2" height="2" fill="#555555"/><rect x="198" y="521" width="2" height="2" fill="#3d3d3d"/><rect x="200" y="521" width="2" height="2" fill="#5d5d5d"/><rect x="202" y="521" width="2" height="2" fill="#4d4d4d"/><rect x="204" y="521" width="2" height="2" fill="#616161"/><rect x="206" y="521" width="2" height="2" fill="#555555"/><rect x="208" y="521" width="2" height="2" fill="#323232"/><rect x="210" y="521" width="2" height="2" fill="#5d5d5d"/><rect x="212" y="521" width="2" height="2" fill="#535353"/><rect x="214" y="521" width="2" height="2" fill="#838383"/><rect x="216" y="521" width="2" height="2" fill="#787878"/><rect x="218" y="521" width="2" height="2" fill="#606060"/><rect x="220" y="521" width="2" height="2" fill="#565656"/><rect x="222" y="521" width="2" height="2" fill="#6b6b6b"/><rect x="224" y="521" width="2" height="2" fill="#808080"/><rect x="226" y="521" width="2" height="2" fill="#707070"/><rect x="228" y="521" width="2" height="2" fill="#8d8d8d"/><rect x="230" y="521" width="2" height="2" fill="#8e8e8e"/><rect x="232" y="521" width="2" height="2" fill="#a0a0a0"/><rect x="234" y="521" width="2" height="2" fill="#a2a2a2"/><rect x="236" y="521" width="2" height="2" fill="#9c9c9c"/><rect x="238" y="521" width="2" height="2" fill="#9c9c9c"/><rect x="240" y="521" width="2" height="2" fill="#999999"/><rect x="242" y="521" width="2" height="2" fill="#ababab"/><rect x="244" y="521" width="2" height="2" fill="#939393"/><rect x="246" y="521" width="2" height="2" fill="#9a9a9a"/><rect x="248" y="521" width="2" height="2" fill="#9e9e9e"/><rect x="250" y="521" width="2" height="2" fill="#979797"/><rect x="252" y="521" width="2" height="2" fill="#9b9b9b"/><rect x="254" y="521" width="2" height="2" fill="#9f9f9f"/><rect x="256" y="521" width="2" height="2" fill="#b1b1b1"/><rect x="192" y="523" width="2" height="2" fill="#656565"/><rect x="194" y="523" width="2" height="2" fill="#393939"/><rect x="196" y="523" width="2" height="2" fill="#4d4d4d"/><rect x="198" y="523" width="2" height="2" fill="#4c4c4c"/><rect x="200" y="523" width="2" height="2" fill="#3b3b3b"/><rect x="202" y="523" width="2" height="2" fill="#5d5d5d"/><rect x="204" y="523" width="2" height="2" fill="#5e5e5e"/><rect x="206" y="523" width="2" height="2" fill="#696969"/><rect x="208" y="523" width="2" height="2" fill="#505050"/><rect x="210" y="523" width="2" height="2" fill="#585858"/><rect x="212" y="523" width="2" height="2" fill="#6d6d6d"/><rect x="214" y="523" width="2" height="2" fill="#5a5a5a"/><rect x="216" y="523" width="2" height="2" fill="#6f6f6f"/><rect x="218" y="523" width="2" height="2" fill="#636363"/><rect x="220" y="523" width="2" height="2" fill="#4e4e4e"/><rect x="222" y="523" width="2" height="2" fill="#6d6d6d"/><rect x="224" y="523" width="2" height="2" fill="#7a7a7a"/><rect x="226" y="523" width="2" height="2" fill="#7a7a7a"/><rect x="228" y="523" width="2" height="2" fill="#888888"/><rect x="230" y="523" width="2" height="2" fill="#939393"/><rect x="232" y="523" width="2" height="2" fill="#9a9a9a"/><rect x="234" y="523" width="2" height="2" fill="#9b9b9b"/><rect x="236" y="523" width="2" height="2" fill="#919191"/><rect x="238" y="523" width="2" height="2" fill="#969696"/><rect x="240" y="523" width="2" height="2" fill="#919191"/><rect x="242" y="523" width="2" height="2" fill="#b3b3b3"/><rect x="244" y="523" width="2" height="2" fill="#9f9f9f"/><rect x="246" y="523" width="2" height="2" fill="#a1a1a1"/><rect x="248" y="523" width="2" height="2" fill="#9d9d9d"/><rect x="250" y="523" width="2" height="2" fill="#a4a4a4"/><rect x="252" y="523" width="2" height="2" fill="#adadad"/><rect x="254" y="523" width="2" height="2" fill="#a5a5a5"/><rect x="256" y="523" width="2" height="2" fill="#a7a7a7"/><rect x="192" y="525" width="2" height="2" fill="#686868"/><rect x="194" y="525" width="2" height="2" fill="#4f4f4f"/><rect x="196" y="525" width="2" height="2" fill="#4d4d4d"/><rect x="198" y="525" width="2" height="2" fill="#525252"/><rect x="200" y="525" width="2" height="2" fill="#494949"/><rect x="202" y="525" width="2" height="2" fill="#4a4a4a"/><rect x="204" y="525" width="2" height="2" fill="#4c4c4c"/><rect x="206" y="525" width="2" height="2" fill="#414141"/><rect x="208" y="525" width="2" height="2" fill="#555555"/><rect x="210" y="525" width="2" height="2" fill="#5d5d5d"/><rect x="212" y="525" width="2" height="2" fill="#505050"/><rect x="214" y="525" width="2" height="2" fill="#595959"/><rect x="216" y="525" width="2" height="2" fill="#515151"/><rect x="218" y="525" width="2" height="2" fill="#565656"/><rect x="220" y="525" width="2" height="2" fill="#2f2f2f"/><rect x="222" y="525" width="2" height="2" fill="#818181"/><rect x="224" y="525" width="2" height="2" fill="#5e5e5e"/><rect x="226" y="525" width="2" height="2" fill="#727272"/><rect x="228" y="525" width="2" height="2" fill="#7d7d7d"/><rect x="230" y="525" width="2" height="2" fill="#595959"/><rect x="232" y="525" width="2" height="2" fill="#959595"/><rect x="234" y="525" width="2" height="2" fill="#a2a2a2"/><rect x="236" y="525" width="2" height="2" fill="#8a8a8a"/><rect x="238" y="525" width="2" height="2" fill="#9b9b9b"/><rect x="240" y="525" width="2" height="2" fill="#9b9b9b"/><rect x="242" y="525" width="2" height="2" fill="#a4a4a4"/><rect x="244" y="525" width="2" height="2" fill="#939393"/><rect x="246" y="525" width="2" height="2" fill="#989898"/><rect x="248" y="525" width="2" height="2" fill="#b2b2b2"/><rect x="250" y="525" width="2" height="2" fill="#a7a7a7"/><rect x="252" y="525" width="2" height="2" fill="#979797"/><rect x="254" y="525" width="2" height="2" fill="#a8a8a8"/><rect x="256" y="525" width="2" height="2" fill="#9e9e9e"/><rect x="192" y="527" width="2" height="2" fill="#3f3f3f"/><rect x="194" y="527" width="2" height="2" fill="#555555"/><rect x="196" y="527" width="2" height="2" fill="#4c4c4c"/><rect x="198" y="527" width="2" height="2" fill="#373737"/><rect x="200" y="527" width="2" height="2" fill="#595959"/><rect x="202" y="527" width="2" height="2" fill="#585858"/><rect x="204" y="527" width="2" height="2" fill="#5d5d5d"/><rect x="206" y="527" width="2" height="2" fill="#5e5e5e"/><rect x="208" y="527" width="2" height="2" fill="#565656"/><rect x="210" y="527" width="2" height="2" fill="#4d4d4d"/><rect x="212" y="527" width="2" height="2" fill="#4f4f4f"/><rect x="214" y="527" width="2" height="2" fill="#656565"/><rect x="216" y="527" width="2" height="2" fill="#616161"/><rect x="218" y="527" width="2" height="2" fill="#606060"/><rect x="220" y="527" width="2" height="2" fill="#353535"/><rect x="222" y="527" width="2" height="2" fill="#525252"/><rect x="224" y="527" width="2" height="2" fill="#6f6f6f"/><rect x="226" y="527" width="2" height="2" fill="#6a6a6a"/><rect x="228" y="527" width="2" height="2" fill="#838383"/><rect x="230" y="527" width="2" height="2" fill="#707070"/><rect x="232" y="527" width="2" height="2" fill="#767676"/><rect x="234" y="527" width="2" height="2" fill="#8e8e8e"/><rect x="236" y="527" width="2" height="2" fill="#939393"/><rect x="238" y="527" width="2" height="2" fill="#959595"/><rect x="240" y="527" width="2" height="2" fill="#9f9f9f"/><rect x="242" y="527" width="2" height="2" fill="#9c9c9c"/><rect x="244" y="527" width="2" height="2" fill="#999999"/><rect x="246" y="527" width="2" height="2" fill="#9a9a9a"/><rect x="248" y="527" width="2" height="2" fill="#979797"/><rect x="250" y="527" width="2" height="2" fill="#a2a2a2"/><rect x="252" y="527" width="2" height="2" fill="#919191"/><rect x="254" y="527" width="2" height="2" fill="#a3a3a3"/><rect x="256" y="527" width="2" height="2" fill="#afafaf"/><rect x="192" y="529" width="2" height="2" fill="#414141"/><rect x="194" y="529" width="2" height="2" fill="#474747"/><rect x="196" y="529" width="2" height="2" fill="#101010"/><rect x="198" y="529" width="2" height="2" fill="#414141"/><rect x="200" y="529" width="2" height="2" fill="#545454"/><rect x="202" y="529" width="2" height="2" fill="#4b4b4b"/><rect x="204" y="529" width="2" height="2" fill="#5a5a5a"/><rect x="206" y="529" width="2" height="2" fill="#272727"/><rect x="208" y="529" width="2" height="2" fill="#585858"/><rect x="210" y="529" width="2" height="2" fill="#5b5b5b"/><rect x="212" y="529" width="2" height="2" fill="#535353"/><rect x="214" y="529" width="2" height="2" fill="#646464"/><rect x="216" y="529" width="2" height="2" fill="#535353"/><rect x="218" y="529" width="2" height="2" fill="#5b5b5b"/><rect x="220" y="529" width="2" height="2" fill="#5d5d5d"/><rect x="222" y="529" width="2" height="2" fill="#414141"/><rect x="224" y="529" width="2" height="2" fill="#777777"/><rect x="226" y="529" width="2" height="2" fill="#757575"/><rect x="228" y="529" width="2" height="2" fill="#7a7a7a"/><rect x="230" y="529" width="2" height="2" fill="#5f5f5f"/><rect x="232" y="529" width="2" height="2" fill="#808080"/><rect x="234" y="529" width="2" height="2" fill="#484848"/><rect x="236" y="529" width="2" height="2" fill="#8e8e8e"/><rect x="238" y="529" width="2" height="2" fill="#9e9e9e"/><rect x="240" y="529" width="2" height="2" fill="#a3a3a3"/><rect x="242" y="529" width="2" height="2" fill="#9c9c9c"/><rect x="244" y="529" width="2" height="2" fill="#9b9b9b"/><rect x="246" y="529" width="2" height="2" fill="#a5a5a5"/><rect x="248" y="529" width="2" height="2" fill="#a3a3a3"/><rect x="250" y="529" width="2" height="2" fill="#a4a4a4"/><rect x="252" y="529" width="2" height="2" fill="#959595"/><rect x="254" y="529" width="2" height="2" fill="#a1a1a1"/><rect x="256" y="529" width="2" height="2" fill="#b5b5b5"/><rect x="192" y="531" width="2" height="2" fill="#444444"/><rect x="194" y="531" width="2" height="2" fill="#4a4a4a"/><rect x="196" y="531" width="2" height="2" fill="#494949"/><rect x="198" y="531" width="2" height="2" fill="#3e3e3e"/><rect x="200" y="531" width="2" height="2" fill="#464646"/><rect x="202" y="531" width="2" height="2" fill="#4b4b4b"/><rect x="204" y="531" width="2" height="2" fill="#3d3d3d"/><rect x="206" y="531" width="2" height="2" fill="#4e4e4e"/><rect x="208" y="531" width="2" height="2" fill="#4b4b4b"/><rect x="210" y="531" width="2" height="2" fill="#585858"/><rect x="212" y="531" width="2" height="2" fill="#515151"/><rect x="214" y="531" width="2" height="2" fill="#4c4c4c"/><rect x="216" y="531" width="2" height="2" fill="#4d4d4d"/><rect x="218" y="531" width="2" height="2" fill="#585858"/><rect x="220" y="531" width="2" height="2" fill="#555555"/><rect x="222" y="531" width="2" height="2" fill="#494949"/><rect x="224" y="531" width="2" height="2" fill="#5f5f5f"/><rect x="226" y="531" width="2" height="2" fill="#676767"/><rect x="228" y="531" width="2" height="2" fill="#5e5e5e"/><rect x="230" y="531" width="2" height="2" fill="#777777"/><rect x="232" y="531" width="2" height="2" fill="#7a7a7a"/><rect x="234" y="531" width="2" height="2" fill="#656565"/><rect x="236" y="531" width="2" height="2" fill="#717171"/><rect x="238" y="531" width="2" height="2" fill="#9d9d9d"/><rect x="240" y="531" width="2" height="2" fill="#888888"/><rect x="242" y="531" width="2" height="2" fill="#888888"/><rect x="244" y="531" width="2" height="2" fill="#8c8c8c"/><rect x="246" y="531" width="2" height="2" fill="#9c9c9c"/><rect x="248" y="531" width="2" height="2" fill="#a7a7a7"/><rect x="250" y="531" width="2" height="2" fill="#9d9d9d"/><rect x="252" y="531" width="2" height="2" fill="#a9a9a9"/><rect x="254" y="531" width="2" height="2" fill="#989898"/><rect x="256" y="531" width="2" height="2" fill="#9d9d9d"/><rect x="192" y="533" width="2" height="2" fill="#363636"/><rect x="194" y="533" width="2" height="2" fill="#060606"/><rect x="196" y="533" width="2" height="2" fill="#4b4b4b"/><rect x="198" y="533" width="2" height="2" fill="#393939"/><rect x="200" y="533" width="2" height="2" fill="#393939"/><rect x="202" y="533" width="2" height="2" fill="#2c2c2c"/><rect x="204" y="533" width="2" height="2" fill="#3c3c3c"/><rect x="206" y="533" width="2" height="2" fill="#535353"/><rect x="208" y="533" width="2" height="2" fill="#555555"/><rect x="210" y="533" width="2" height="2" fill="#4e4e4e"/><rect x="212" y="533" width="2" height="2" fill="#4e4e4e"/><rect x="214" y="533" width="2" height="2" fill="#5d5d5d"/><rect x="216" y="533" width="2" height="2" fill="#626262"/><rect x="218" y="533" width="2" height="2" fill="#424242"/><rect x="220" y="533" width="2" height="2" fill="#4b4b4b"/><rect x="222" y="533" width="2" height="2" fill="#474747"/><rect x="224" y="533" width="2" height="2" fill="#595959"/><rect x="226" y="533" width="2" height="2" fill="#696969"/><rect x="228" y="533" width="2" height="2" fill="#343434"/><rect x="230" y="533" width="2" height="2" fill="#606060"/><rect x="232" y="533" width="2" height="2" fill="#5f5f5f"/><rect x="234" y="533" width="2" height="2" fill="#858585"/><rect x="236" y="533" width="2" height="2" fill="#707070"/><rect x="238" y="533" width="2" height="2" fill="#989898"/><rect x="240" y="533" width="2" height="2" fill="#868686"/><rect x="242" y="533" width="2" height="2" fill="#9d9d9d"/><rect x="244" y="533" width="2" height="2" fill="#a1a1a1"/><rect x="246" y="533" width="2" height="2" fill="#9a9a9a"/><rect x="248" y="533" width="2" height="2" fill="#9c9c9c"/><rect x="250" y="533" width="2" height="2" fill="#8f8f8f"/><rect x="252" y="533" width="2" height="2" fill="#a7a7a7"/><rect x="254" y="533" width="2" height="2" fill="#a8a8a8"/><rect x="256" y="533" width="2" height="2" fill="#888888"/><rect x="192" y="535" width="2" height="2" fill="#373737"/><rect x="194" y="535" width="2" height="2" fill="#555555"/><rect x="196" y="535" width="2" height="2" fill="#404040"/><rect x="198" y="535" width="2" height="2" fill="#484848"/><rect x="200" y="535" width="2" height="2" fill="#131313"/><rect x="202" y="535" width="2" height="2" fill="#414141"/><rect x="204" y="535" width="2" height="2" fill="#404040"/><rect x="206" y="535" width="2" height="2" fill="#565656"/><rect x="208" y="535" width="2" height="2" fill="#4c4c4c"/><rect x="210" y="535" width="2" height="2" fill="#515151"/><rect x="212" y="535" width="2" height="2" fill="#5d5d5d"/><rect x="214" y="535" width="2" height="2" fill="#6a6a6a"/><rect x="216" y="535" width="2" height="2" fill="#494949"/><rect x="218" y="535" width="2" height="2" fill="#444444"/><rect x="220" y="535" width="2" height="2" fill="#5b5b5b"/><rect x="222" y="535" width="2" height="2" fill="#4a4a4a"/><rect x="224" y="535" width="2" height="2" fill="#747474"/><rect x="226" y="535" width="2" height="2" fill="#626262"/><rect x="228" y="535" width="2" height="2" fill="#606060"/><rect x="230" y="535" width="2" height="2" fill="#515151"/><rect x="232" y="535" width="2" height="2" fill="#6e6e6e"/><rect x="234" y="535" width="2" height="2" fill="#555555"/><rect x="236" y="535" width="2" height="2" fill="#5c5c5c"/><rect x="238" y="535" width="2" height="2" fill="#4e4e4e"/><rect x="240" y="535" width="2" height="2" fill="#a1a1a1"/><rect x="242" y="535" width="2" height="2" fill="#919191"/><rect x="244" y="535" width="2" height="2" fill="#a2a2a2"/><rect x="246" y="535" width="2" height="2" fill="#9c9c9c"/><rect x="248" y="535" width="2" height="2" fill="#979797"/><rect x="250" y="535" width="2" height="2" fill="#999999"/><rect x="252" y="535" width="2" height="2" fill="#b1b1b1"/><rect x="254" y="535" width="2" height="2" fill="#a9a9a9"/><rect x="256" y="535" width="2" height="2" fill="#9e9e9e"/><rect x="192" y="537" width="2" height="2" fill="#3f3f3f"/><rect x="194" y="537" width="2" height="2" fill="#545454"/><rect x="196" y="537" width="2" height="2" fill="#0c0c0c"/><rect x="198" y="537" width="2" height="2" fill="#1c1c1c"/><rect x="200" y="537" width="2" height="2" fill="#4a4a4a"/><rect x="202" y="537" width="2" height="2" fill="#555555"/><rect x="204" y="537" width="2" height="2" fill="#3d3d3d"/><rect x="206" y="537" width="2" height="2" fill="#464646"/><rect x="208" y="537" width="2" height="2" fill="#484848"/><rect x="210" y="537" width="2" height="2" fill="#4e4e4e"/><rect x="212" y="537" width="2" height="2" fill="#676767"/><rect x="214" y="537" width="2" height="2" fill="#131313"/><rect x="216" y="537" width="2" height="2" fill="#5d5d5d"/><rect x="218" y="537" width="2" height="2" fill="#6b6b6b"/><rect x="220" y="537" width="2" height="2" fill="#676767"/><rect x="222" y="537" width="2" height="2" fill="#606060"/><rect x="224" y="537" width="2" height="2" fill="#474747"/><rect x="226" y="537" width="2" height="2" fill="#555555"/><rect x="228" y="537" width="2" height="2" fill="#424242"/><rect x="230" y="537" width="2" height="2" fill="#6e6e6e"/><rect x="232" y="537" width="2" height="2" fill="#696969"/><rect x="234" y="537" width="2" height="2" fill="#646464"/><rect x="236" y="537" width="2" height="2" fill="#6c6c6c"/><rect x="238" y="537" width="2" height="2" fill="#696969"/><rect x="240" y="537" width="2" height="2" fill="#6a6a6a"/><rect x="242" y="537" width="2" height="2" fill="#989898"/><rect x="244" y="537" width="2" height="2" fill="#a0a0a0"/><rect x="246" y="537" width="2" height="2" fill="#9a9a9a"/><rect x="248" y="537" width="2" height="2" fill="#999999"/><rect x="250" y="537" width="2" height="2" fill="#949494"/><rect x="252" y="537" width="2" height="2" fill="#929292"/><rect x="254" y="537" width="2" height="2" fill="#9d9d9d"/><rect x="256" y="537" width="2" height="2" fill="#9c9c9c"/><rect x="192" y="539" width="2" height="2" fill="#3e3e3e"/><rect x="194" y="539" width="2" height="2" fill="#363636"/><rect x="196" y="539" width="2" height="2" fill="#404040"/><rect x="198" y="539" width="2" height="2" fill="#303030"/><rect x="200" y="539" width="2" height="2" fill="#515151"/><rect x="202" y="539" width="2" height="2" fill="#3c3c3c"/><rect x="204" y="539" width="2" height="2" fill="#3e3e3e"/><rect x="206" y="539" width="2" height="2" fill="#313131"/><rect x="208" y="539" width="2" height="2" fill="#3f3f3f"/><rect x="210" y="539" width="2" height="2" fill="#505050"/><rect x="212" y="539" width="2" height="2" fill="#4e4e4e"/><rect x="214" y="539" width="2" height="2" fill="#4b4b4b"/><rect x="216" y="539" width="2" height="2" fill="#414141"/><rect x="218" y="539" width="2" height="2" fill="#515151"/><rect x="220" y="539" width="2" height="2" fill="#4f4f4f"/><rect x="222" y="539" width="2" height="2" fill="#333333"/><rect x="224" y="539" width="2" height="2" fill="#474747"/><rect x="226" y="539" width="2" height="2" fill="#444444"/><rect x="228" y="539" width="2" height="2" fill="#787878"/><rect x="230" y="539" width="2" height="2" fill="#5b5b5b"/><rect x="232" y="539" width="2" height="2" fill="#5c5c5c"/><rect x="234" y="539" width="2" height="2" fill="#6f6f6f"/><rect x="236" y="539" width="2" height="2" fill="#585858"/><rect x="238" y="539" width="2" height="2" fill="#606060"/><rect x="240" y="539" width="2" height="2" fill="#676767"/><rect x="242" y="539" width="2" height="2" fill="#6d6d6d"/><rect x="244" y="539" width="2" height="2" fill="#9a9a9a"/><rect x="246" y="539" width="2" height="2" fill="#959595"/><rect x="248" y="539" width="2" height="2" fill="#969696"/><rect x="250" y="539" width="2" height="2" fill="#a3a3a3"/><rect x="252" y="539" width="2" height="2" fill="#979797"/><rect x="254" y="539" width="2" height="2" fill="#9d9d9d"/><rect x="256" y="539" width="2" height="2" fill="#969696"/><rect x="192" y="541" width="2" height="2" fill="#1c1c1c"/><rect x="194" y="541" width="2" height="2" fill="#404040"/><rect x="196" y="541" width="2" height="2" fill="#3e3e3e"/><rect x="198" y="541" width="2" height="2" fill="#212121"/><rect x="200" y="541" width="2" height="2" fill="#464646"/><rect x="202" y="541" width="2" height="2" fill="#494949"/><rect x="204" y="541" width="2" height="2" fill="#484848"/><rect x="206" y="541" width="2" height="2" fill="#2f2f2f"/><rect x="208" y="541" width="2" height="2" fill="#3c3c3c"/><rect x="210" y="541" width="2" height="2" fill="#393939"/><rect x="212" y="541" width="2" height="2" fill="#414141"/><rect x="214" y="541" width="2" height="2" fill="#222222"/><rect x="216" y="541" width="2" height="2" fill="#565656"/><rect x="218" y="541" width="2" height="2" fill="#3e3e3e"/><rect x="220" y="541" width="2" height="2" fill="#323232"/><rect x="222" y="541" width="2" height="2" fill="#565656"/><rect x="224" y="541" width="2" height="2" fill="#444444"/><rect x="226" y="541" width="2" height="2" fill="#555555"/><rect x="228" y="541" width="2" height="2" fill="#494949"/><rect x="230" y="541" width="2" height="2" fill="#5c5c5c"/><rect x="232" y="541" width="2" height="2" fill="#6b6b6b"/><rect x="234" y="541" width="2" height="2" fill="#686868"/><rect x="236" y="541" width="2" height="2" fill="#5e5e5e"/><rect x="238" y="541" width="2" height="2" fill="#6a6a6a"/><rect x="240" y="541" width="2" height="2" fill="#6c6c6c"/><rect x="242" y="541" width="2" height="2" fill="#808080"/><rect x="244" y="541" width="2" height="2" fill="#717171"/><rect x="246" y="541" width="2" height="2" fill="#aaaaaa"/><rect x="248" y="541" width="2" height="2" fill="#9f9f9f"/><rect x="250" y="541" width="2" height="2" fill="#999999"/><rect x="252" y="541" width="2" height="2" fill="#959595"/><rect x="254" y="541" width="2" height="2" fill="#989898"/><rect x="256" y="541" width="2" height="2" fill="#8e8e8e"/><rect x="192" y="543" width="2" height="2" fill="#3c3c3c"/><rect x="194" y="543" width="2" height="2" fill="#3c3c3c"/><rect x="196" y="543" width="2" height="2" fill="#232323"/><rect x="198" y="543" width="2" height="2" fill="#3c3c3c"/><rect x="200" y="543" width="2" height="2" fill="#070707"/><rect x="202" y="543" width="2" height="2" fill="#464646"/><rect x="204" y="543" width="2" height="2" fill="#4c4c4c"/><rect x="206" y="543" width="2" height="2" fill="#515151"/><rect x="208" y="543" width="2" height="2" fill="#2d2d2d"/><rect x="210" y="543" width="2" height="2" fill="#434343"/><rect x="212" y="543" width="2" height="2" fill="#353535"/><rect x="214" y="543" width="2" height="2" fill="#5d5d5d"/><rect x="216" y="543" width="2" height="2" fill="#656565"/><rect x="218" y="543" width="2" height="2" fill="#595959"/><rect x="220" y="543" width="2" height="2" fill="#464646"/><rect x="222" y="543" width="2" height="2" fill="#4b4b4b"/><rect x="224" y="543" width="2" height="2" fill="#404040"/><rect x="226" y="543" width="2" height="2" fill="#646464"/><rect x="228" y="543" width="2" height="2" fill="#2a2a2a"/><rect x="230" y="543" width="2" height="2" fill="#686868"/><rect x="232" y="543" width="2" height="2" fill="#4d4d4d"/><rect x="234" y="543" width="2" height="2" fill="#5b5b5b"/><rect x="236" y="543" width="2" height="2" fill="#777777"/><rect x="238" y="543" width="2" height="2" fill="#696969"/><rect x="240" y="543" width="2" height="2" fill="#616161"/><rect x="242" y="543" width="2" height="2" fill="#7c7c7c"/><rect x="244" y="543" width="2" height="2" fill="#454545"/><rect x="246" y="543" width="2" height="2" fill="#9c9c9c"/><rect x="248" y="543" width="2" height="2" fill="#a2a2a2"/><rect x="250" y="543" width="2" height="2" fill="#919191"/><rect x="252" y="543" width="2" height="2" fill="#949494"/><rect x="254" y="543" width="2" height="2" fill="#9c9c9c"/><rect x="256" y="543" width="2" height="2" fill="#a9a9a9"/><rect x="192" y="545" width="2" height="2" fill="#2e2e2e"/><rect x="194" y="545" width="2" height="2" fill="#333333"/><rect x="196" y="545" width="2" height="2" fill="#212121"/><rect x="198" y="545" width="2" height="2" fill="#484848"/><rect x="200" y="545" width="2" height="2" fill="#373737"/><rect x="202" y="545" width="2" height="2" fill="#313131"/><rect x="204" y="545" width="2" height="2" fill="#474747"/><rect x="206" y="545" width="2" height="2" fill="#404040"/><rect x="208" y="545" width="2" height="2" fill="#3a3a3a"/><rect x="210" y="545" width="2" height="2" fill="#3d3d3d"/><rect x="212" y="545" width="2" height="2" fill="#545454"/><rect x="214" y="545" width="2" height="2" fill="#3a3a3a"/><rect x="216" y="545" width="2" height="2" fill="#4e4e4e"/><rect x="218" y="545" width="2" height="2" fill="#595959"/><rect x="220" y="545" width="2" height="2" fill="#4a4a4a"/><rect x="222" y="545" width="2" height="2" fill="#464646"/><rect x="224" y="545" width="2" height="2" fill="#5d5d5d"/><rect x="226" y="545" width="2" height="2" fill="#3e3e3e"/><rect x="228" y="545" width="2" height="2" fill="#444444"/><rect x="230" y="545" width="2" height="2" fill="#3e3e3e"/><rect x="232" y="545" width="2" height="2" fill="#616161"/><rect x="234" y="545" width="2" height="2" fill="#727272"/><rect x="236" y="545" width="2" height="2" fill="#565656"/><rect x="238" y="545" width="2" height="2" fill="#636363"/><rect x="240" y="545" width="2" height="2" fill="#4d4d4d"/><rect x="242" y="545" width="2" height="2" fill="#424242"/><rect x="244" y="545" width="2" height="2" fill="#696969"/><rect x="246" y="545" width="2" height="2" fill="#6c6c6c"/><rect x="248" y="545" width="2" height="2" fill="#9a9a9a"/><rect x="250" y="545" width="2" height="2" fill="#a1a1a1"/><rect x="252" y="545" width="2" height="2" fill="#a9a9a9"/><rect x="254" y="545" width="2" height="2" fill="#919191"/><rect x="256" y="545" width="2" height="2" fill="#a1a1a1"/><rect x="192" y="547" width="2" height="2" fill="#373737"/><rect x="194" y="547" width="2" height="2" fill="#2e2e2e"/><rect x="196" y="547" width="2" height="2" fill="#292929"/><rect x="198" y="547" width="2" height="2" fill="#303030"/><rect x="200" y="547" width="2" height="2" fill="#3c3c3c"/><rect x="202" y="547" width="2" height="2" fill="#313131"/><rect x="204" y="547" width="2" height="2" fill="#363636"/><rect x="206" y="547" width="2" height="2" fill="#4c4c4c"/><rect x="208" y="547" width="2" height="2" fill="#1b1b1b"/><rect x="210" y="547" width="2" height="2" fill="#3c3c3c"/><rect x="212" y="547" width="2" height="2" fill="#3c3c3c"/><rect x="214" y="547" width="2" height="2" fill="#2d2d2d"/><rect x="216" y="547" width="2" height="2" fill="#414141"/><rect x="218" y="547" width="2" height="2" fill="#333333"/><rect x="220" y="547" width="2" height="2" fill="#525252"/><rect x="222" y="547" width="2" height="2" fill="#4d4d4d"/><rect x="224" y="547" width="2" height="2" fill="#484848"/><rect x="226" y="547" width="2" height="2" fill="#515151"/><rect x="228" y="547" width="2" height="2" fill="#404040"/><rect x="230" y="547" width="2" height="2" fill="#2a2a2a"/><rect x="232" y="547" width="2" height="2" fill="#3a3a3a"/><rect x="234" y="547" width="2" height="2" fill="#6b6b6b"/><rect x="236" y="547" width="2" height="2" fill="#515151"/><rect x="238" y="547" width="2" height="2" fill="#464646"/><rect x="240" y="547" width="2" height="2" fill="#666666"/><rect x="242" y="547" width="2" height="2" fill="#575757"/><rect x="244" y="547" width="2" height="2" fill="#646464"/><rect x="246" y="547" width="2" height="2" fill="#757575"/><rect x="248" y="547" width="2" height="2" fill="#797979"/><rect x="250" y="547" width="2" height="2" fill="#9b9b9b"/><rect x="252" y="547" width="2" height="2" fill="#7e7e7e"/><rect x="254" y="547" width="2" height="2" fill="#959595"/><rect x="256" y="547" width="2" height="2" fill="#959595"/><rect x="192" y="549" width="2" height="2" fill="#2d2d2d"/><rect x="194" y="549" width="2" height="2" fill="#363636"/><rect x="196" y="549" width="2" height="2" fill="#0e0e0e"/><rect x="198" y="549" width="2" height="2" fill="#3c3c3c"/><rect x="200" y="549" width="2" height="2" fill="#404040"/><rect x="202" y="549" width="2" height="2" fill="#323232"/><rect x="204" y="549" width="2" height="2" fill="#292929"/><rect x="206" y="549" width="2" height="2" fill="#3e3e3e"/><rect x="208" y="549" width="2" height="2" fill="#363636"/><rect x="210" y="549" width="2" height="2" fill="#4a4a4a"/><rect x="212" y="549" width="2" height="2" fill="#080808"/><rect x="214" y="549" width="2" height="2" fill="#484848"/><rect x="216" y="549" width="2" height="2" fill="#282828"/><rect x="218" y="549" width="2" height="2" fill="#505050"/><rect x="220" y="549" width="2" height="2" fill="#525252"/><rect x="222" y="549" width="2" height="2" fill="#444444"/><rect x="224" y="549" width="2" height="2" fill="#3d3d3d"/><rect x="226" y="549" width="2" height="2" fill="#4c4c4c"/><rect x="228" y="549" width="2" height="2" fill="#4d4d4d"/><rect x="230" y="549" width="2" height="2" fill="#494949"/><rect x="232" y="549" width="2" height="2" fill="#4b4b4b"/><rect x="234" y="549" width="2" height="2" fill="#414141"/><rect x="236" y="549" width="2" height="2" fill="#585858"/><rect x="238" y="549" width="2" height="2" fill="#4e4e4e"/><rect x="240" y="549" width="2" height="2" fill="#4f4f4f"/><rect x="242" y="549" width="2" height="2" fill="#6e6e6e"/><rect x="244" y="549" width="2" height="2" fill="#616161"/><rect x="246" y="549" width="2" height="2" fill="#6a6a6a"/><rect x="248" y="549" width="2" height="2" fill="#5e5e5e"/><rect x="250" y="549" width="2" height="2" fill="#787878"/><rect x="252" y="549" width="2" height="2" fill="#9f9f9f"/><rect x="254" y="549" width="2" height="2" fill="#a2a2a2"/><rect x="256" y="549" width="2" height="2" fill="#7e7e7e"/><rect x="192" y="551" width="2" height="2" fill="#262626"/><rect x="194" y="551" width="2" height="2" fill="#313131"/><rect x="196" y="551" width="2" height="2" fill="#363636"/><rect x="198" y="551" width="2" height="2" fill="#333333"/><rect x="200" y="551" width="2" height="2" fill="#393939"/><rect x="202" y="551" width="2" height="2" fill="#3b3b3b"/><rect x="204" y="551" width="2" height="2" fill="#2f2f2f"/><rect x="206" y="551" width="2" height="2" fill="#313131"/><rect x="208" y="551" width="2" height="2" fill="#313131"/><rect x="210" y="551" width="2" height="2" fill="#3f3f3f"/><rect x="212" y="551" width="2" height="2" fill="#383838"/><rect x="214" y="551" width="2" height="2" fill="#171717"/><rect x="216" y="551" width="2" height="2" fill="#393939"/><rect x="218" y="551" width="2" height="2" fill="#3c3c3c"/><rect x="220" y="551" width="2" height="2" fill="#565656"/><rect x="222" y="551" width="2" height="2" fill="#414141"/><rect x="224" y="551" width="2" height="2" fill="#3f3f3f"/><rect x="226" y="551" width="2" height="2" fill="#2f2f2f"/><rect x="228" y="551" width="2" height="2" fill="#4a4a4a"/><rect x="230" y="551" width="2" height="2" fill="#565656"/><rect x="232" y="551" width="2" height="2" fill="#525252"/><rect x="234" y="551" width="2" height="2" fill="#5d5d5d"/><rect x="236" y="551" width="2" height="2" fill="#5e5e5e"/><rect x="238" y="551" width="2" height="2" fill="#5d5d5d"/><rect x="240" y="551" width="2" height="2" fill="#515151"/><rect x="242" y="551" width="2" height="2" fill="#656565"/><rect x="244" y="551" width="2" height="2" fill="#696969"/><rect x="246" y="551" width="2" height="2" fill="#737373"/><rect x="248" y="551" width="2" height="2" fill="#626262"/><rect x="250" y="551" width="2" height="2" fill="#585858"/><rect x="252" y="551" width="2" height="2" fill="#8c8c8c"/><rect x="254" y="551" width="2" height="2" fill="#959595"/><rect x="256" y="551" width="2" height="2" fill="#9d9d9d"/><rect x="192" y="553" width="2" height="2" fill="#272727"/><rect x="194" y="553" width="2" height="2" fill="#323232"/><rect x="196" y="553" width="2" height="2" fill="#383838"/><rect x="198" y="553" width="2" height="2" fill="#434343"/><rect x="200" y="553" width="2" height="2" fill="#1d1d1d"/><rect x="202" y="553" width="2" height="2" fill="#434343"/><rect x="204" y="553" width="2" height="2" fill="#1a1a1a"/><rect x="206" y="553" width="2" height="2" fill="#3c3c3c"/><rect x="208" y="553" width="2" height="2" fill="#494949"/><rect x="210" y="553" width="2" height="2" fill="#2e2e2e"/><rect x="212" y="553" width="2" height="2" fill="#474747"/><rect x="214" y="553" width="2" height="2" fill="#3f3f3f"/><rect x="216" y="553" width="2" height="2" fill="#252525"/><rect x="218" y="553" width="2" height="2" fill="#4c4c4c"/><rect x="220" y="553" width="2" height="2" fill="#373737"/><rect x="222" y="553" width="2" height="2" fill="#4a4a4a"/><rect x="224" y="553" width="2" height="2" fill="#464646"/><rect x="226" y="553" width="2" height="2" fill="#414141"/><rect x="228" y="553" width="2" height="2" fill="#424242"/><rect x="230" y="553" width="2" height="2" fill="#484848"/><rect x="232" y="553" width="2" height="2" fill="#595959"/><rect x="234" y="553" width="2" height="2" fill="#1f1f1f"/><rect x="236" y="553" width="2" height="2" fill="#4c4c4c"/><rect x="238" y="553" width="2" height="2" fill="#5b5b5b"/><rect x="240" y="553" width="2" height="2" fill="#515151"/><rect x="242" y="553" width="2" height="2" fill="#646464"/><rect x="244" y="553" width="2" height="2" fill="#747474"/><rect x="246" y="553" width="2" height="2" fill="#6a6a6a"/><rect x="248" y="553" width="2" height="2" fill="#696969"/><rect x="250" y="553" width="2" height="2" fill="#666666"/><rect x="252" y="553" width="2" height="2" fill="#656565"/><rect x="254" y="553" width="2" height="2" fill="#9c9c9c"/><rect x="256" y="553" width="2" height="2" fill="#969696"/></g><polygon points="190,529.6 245,556 190,556" fill="#fff"/><polygon points="190,529.6 245,556 247.5,556 190,527.2" fill="#eee"/><polyline points="190,527.7 247.6,556" fill="none" stroke="#111" stroke-width="0.7"/><polyline points="190,530.3 244.6,556" fill="none" stroke="#111" stroke-width="0.7"/><polyline points="192.9,495.7 196.7,496.6 199.5,498.5 201.4,502.3 203.3,507 206.1,506 208,504.1 209.9,505.1 213.6,508.9 217.4,510.7 221.2,513.6 224.9,517.3 226.5,519.5 228.7,522.1 230.5,523.5 232.5,526.8 236.3,530.5 238.5,533.5 240,535.3 243.8,540 246.6,543.7 249.5,546.6 251.3,550.3 253.2,554.1 253.6,556" fill="none" stroke="#111" stroke-width="0.7"/><rect x="253.6" y="491" width="3.2" height="52" fill="#d2d2d2" fill-opacity="0.85"/><path d="M253.9 497V501M254 505V511M254 516V519M254 533V536" stroke="#222" stroke-width="0.7"/><ellipse cx="211" cy="507" rx="2.2" ry="1.6" fill="none" stroke="#111" stroke-width="0.6"/><ellipse cx="206" cy="503" rx="1.6" ry="1.3" fill="none" stroke="#111" stroke-width="0.6"/><circle cx="204" cy="497.5" r="0.7" fill="#222"/><circle cx="224" cy="504" r="0.7" fill="#222"/><circle cx="218" cy="506" r="0.6" fill="#222"/><circle cx="229" cy="514" r="0.6" fill="#222"/></g><rect x="192.3" y="491.4" width="64.2" height="63.5" fill="none" stroke="#3a3a3a" stroke-width="1"/><line x1="189.3" y1="554.7" x2="192.3" y2="554.7" stroke="#3a3a3a" stroke-width="0.8"/><line x1="189.3" y1="539" x2="192.3" y2="539" stroke="#3a3a3a" stroke-width="0.8"/><line x1="189.3" y1="523.2" x2="192.3" y2="523.2" stroke="#3a3a3a" stroke-width="0.8"/><line x1="189.3" y1="507.4" x2="192.3" y2="507.4" stroke="#3a3a3a" stroke-width="0.8"/><line x1="189.3" y1="491.6" x2="192.3" y2="491.6" stroke="#3a3a3a" stroke-width="0.8"/><line x1="192.5" y1="554.9" x2="192.5" y2="557.9" stroke="#3a3a3a" stroke-width="0.8"/><text x="192.6" y="567.07" font-size="8.4" text-anchor="middle" transform="rotate(-50 192.6 564.17)" textLength="4.6" lengthAdjust="spacingAndGlyphs">0</text><line x1="209.5" y1="554.9" x2="209.5" y2="557.9" stroke="#3a3a3a" stroke-width="0.8"/><text x="209.6" y="569.44" font-size="8.4" text-anchor="middle" transform="rotate(-50 209.6 566.54)" textLength="9.2" lengthAdjust="spacingAndGlyphs">25</text><line x1="226.2" y1="554.9" x2="226.2" y2="557.9" stroke="#3a3a3a" stroke-width="0.8"/><text x="226.3" y="569.44" font-size="8.4" text-anchor="middle" transform="rotate(-50 226.3 566.54)" textLength="9.2" lengthAdjust="spacingAndGlyphs">50</text><line x1="243.3" y1="554.9" x2="243.3" y2="557.9" stroke="#3a3a3a" stroke-width="0.8"/><text x="243.4" y="569.44" font-size="8.4" text-anchor="middle" transform="rotate(-50 243.4 566.54)" textLength="9.2" lengthAdjust="spacingAndGlyphs">75</text><text x="224.4" y="589.3" font-size="10.6" text-anchor="middle" textLength="51" lengthAdjust="spacingAndGlyphs">Amorphous</text><text x="224.4" y="599.1" font-size="10.6" text-anchor="middle" textLength="32.5" lengthAdjust="spacingAndGlyphs">Carbon</text><text x="224.4" y="608.9" font-size="10.6" text-anchor="middle" textLength="18.9" lengthAdjust="spacingAndGlyphs">wt%</text><g clip-path="url(#c7)"><path d="M269.6 554.7V545.7H271.73V540.3H273.86V538.7H275.99V534.4H278.12V530.6H280.25V529.5H282.38V525.2H284.51V519.2H286.64V515.4H288.77V510.6H290.9V506.2H293.03V502H295.16V497H297.29V495.4H299.42V494.6H301.55V496.4H303.68V497.8H305.81V497.4H307.94V500.5H310.07V502.7H312.2V503.7H314.33V504.8H316.46V506.5H318.59V508.1H320.72V507.5H322.85V509.7H324.98V513H327.11V513.5H329.24V515.1H331.37V519H333.5" fill="none" stroke="#111" stroke-width="0.9"/></g><rect x="269.1" y="491.4" width="64.3" height="63.5" fill="none" stroke="#3a3a3a" stroke-width="1"/><line x1="266.1" y1="554.7" x2="269.1" y2="554.7" stroke="#3a3a3a" stroke-width="0.8"/><line x1="266.1" y1="539" x2="269.1" y2="539" stroke="#3a3a3a" stroke-width="0.8"/><line x1="266.1" y1="523.2" x2="269.1" y2="523.2" stroke="#3a3a3a" stroke-width="0.8"/><line x1="266.1" y1="507.4" x2="269.1" y2="507.4" stroke="#3a3a3a" stroke-width="0.8"/><line x1="266.1" y1="491.6" x2="269.1" y2="491.6" stroke="#3a3a3a" stroke-width="0.8"/><line x1="269.5" y1="554.9" x2="269.5" y2="557.9" stroke="#3a3a3a" stroke-width="0.8"/><text x="269.6" y="567.07" font-size="8.4" text-anchor="middle" transform="rotate(-50 269.6 564.17)" textLength="4.6" lengthAdjust="spacingAndGlyphs">0</text><line x1="285.4" y1="554.9" x2="285.4" y2="557.9" stroke="#3a3a3a" stroke-width="0.8"/><text x="285.5" y="571.81" font-size="8.4" text-anchor="middle" transform="rotate(-50 285.5 568.91)" textLength="13.8" lengthAdjust="spacingAndGlyphs">250</text><line x1="301.3" y1="554.9" x2="301.3" y2="557.9" stroke="#3a3a3a" stroke-width="0.8"/><text x="301.4" y="571.81" font-size="8.4" text-anchor="middle" transform="rotate(-50 301.4 568.91)" textLength="13.8" lengthAdjust="spacingAndGlyphs">500</text><line x1="317.2" y1="554.9" x2="317.2" y2="557.9" stroke="#3a3a3a" stroke-width="0.8"/><text x="317.3" y="571.81" font-size="8.4" text-anchor="middle" transform="rotate(-50 317.3 568.91)" textLength="13.8" lengthAdjust="spacingAndGlyphs">750</text><line x1="333.1" y1="554.9" x2="333.1" y2="557.9" stroke="#3a3a3a" stroke-width="0.8"/><text x="333.2" y="574.18" font-size="8.4" text-anchor="middle" transform="rotate(-50 333.2 571.28)" textLength="18.4" lengthAdjust="spacingAndGlyphs">1000</text><text x="301.25" y="591.1" font-size="10.6" text-anchor="middle" textLength="69.7" lengthAdjust="spacingAndGlyphs">Grain Size (μm)</text><text x="9.8" y="523.65" font-size="10.6" text-anchor="middle" transform="rotate(-90 9.8 523.65)" textLength="68.6" lengthAdjust="spacingAndGlyphs">Grain Size (μm)</text></svg></body></html>
